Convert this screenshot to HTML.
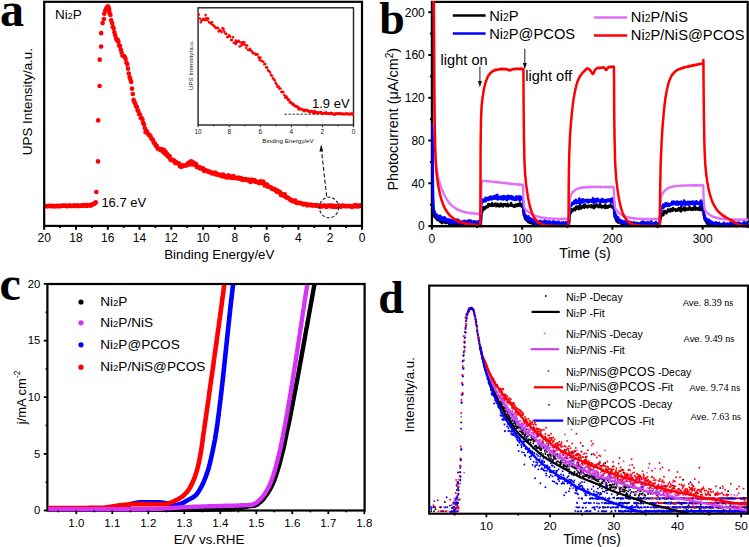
<!DOCTYPE html>
<html><head><meta charset="utf-8"><style>
html,body{margin:0;padding:0;background:#fff;}
svg{display:block;font-family:"Liberation Sans", sans-serif;}
</style></head><body>
<svg width="749" height="547" viewBox="0 0 749 547">
<rect width="749" height="547" fill="#fff"/>
<text x="0" y="26.2" font-size="48" font-weight="bold" font-family="Liberation Serif, serif" fill="#000">a</text>
<text x="379.3" y="34.1" font-size="46" font-weight="bold" font-family="Liberation Serif, serif" fill="#000">b</text>
<text x="-0.4" y="300.3" font-size="48" font-weight="bold" font-family="Liberation Serif, serif" fill="#000">c</text>
<text x="378.2" y="312.7" font-size="46" font-weight="bold" font-family="Liberation Serif, serif" fill="#000">d</text>
<path d="M46.3 206.2h0M47.2 206.3h0M48.1 206.1h0M49 206h0M49.9 206.1h0M50.8 205.9h0M51.7 206.2h0M52.6 206.5h0M53.5 206h0M54.4 206h0M55.3 206.3h0M56.2 206.2h0M57.1 206.2h0M58 205.9h0M58.9 206.1h0M59.8 206.3h0M60.7 205.8h0M61.6 206h0M62.5 205.6h0M63.4 205.7h0M64.3 205.6h0M65.2 206h0M66.1 205.7h0M67 206.1h0M67.9 206.1h0M68.8 206h0M69.7 205.4h0M70.6 205.8h0M71.5 206h0M72.4 206h0M73.3 205.6h0M74.2 205.8h0M75.1 205.7h0M76 205.7h0M76.9 206.1h0M77.8 205.6h0M78.7 205.8h0M79.6 206h0M80.5 205.6h0M81.4 205.7h0M82.3 205.8h0M83.2 205.7h0M84.1 205.4h0M85 205.7h0M85.9 206h0M86.8 205.2h0M87.7 205.7h0M88.6 205.5h0M89.5 205.2h0M90.4 205.7h0M91.3 205.2h0M92.2 204.4h0M93.1 204.4h0M94 204.1h0M94.9 203.2h0M95.8 202.4h0M96.4 192h0M98 161.4h0M98.2 120.4h0M99.6 86h0M99.7 59.7h0M101.1 46.6h0M101.2 33.2h0M102.6 23.1h0M103.9 19.1h0M104.3 13.7h0M105.3 10.5h0M106.2 8.5h0M107 7.2h0M107.9 6.4h0M108.6 7.5h0M106.8 10.2h0M109.2 9.5h0M108 7.1h0M108.8 9.6h0M109.6 12.9h0M110.4 14.9h0M111.2 20.3h0M112 23.1h0M112.8 26.7h0M113.6 28.6h0M114.4 32.3h0M115.2 35.3h0M116 38.3h0M116.8 40.2h0M117.6 39.6h0M118.4 42h0M119.2 45.7h0M120 45.8h0M120.8 49.7h0M121.6 52.5h0M122.4 55.5h0M123.2 56h0M124 56h0M124.8 57.2h0M125.6 59h0M126.4 62.7h0M127.2 64.2h0M128 68.7h0M128.8 73.6h0M129.6 77.1h0M130.4 79.6h0M131.2 81.9h0M132 88.7h0M132.8 94h0M133.6 99.9h0M134.4 102.1h0M135.2 103.6h0M136 106h0M136.8 106.9h0M137.6 110.2h0M138.4 111.4h0M139.2 114.2h0M140 114.6h0M140.8 118.1h0M141.6 118.1h0M142.4 119.5h0M143.2 122.9h0M144 124.5h0M144.8 128h0M145.6 132.2h0M146.4 130.9h0M147.2 132.2h0M148 133.8h0M148.8 134.9h0M149.6 135.1h0M150.4 136h0M151.2 138h0M152 139.3h0M152.8 139.7h0M153.6 142.2h0M154.4 143.6h0M155.2 143.8h0M156 146h0M156.8 146h0M157.6 148.6h0M158.4 148.7h0M159.2 149.3h0M160 149.3h0M160.8 150.2h0M161.6 149h0M162.4 150.2h0M163.2 151.9h0M164 150.2h0M164.8 153.4h0M165.6 151.8h0M166.4 154.8h0M167.2 154.2h0M168 156.6h0M168.8 156.8h0M169.6 156.1h0M170.4 159.4h0M171.2 160.2h0M172 159.6h0M172.8 160.1h0M173.6 160.8h0M174.4 160.7h0M175.2 163.1h0M176 162.2h0M176.8 163.1h0M177.6 163h0M178.4 163.7h0M179.2 163.6h0M180 166.4h0M180.8 165.5h0M181.6 166.8h0M182.4 166h0M183.2 165.4h0M184 165.6h0M184.8 165.3h0M185.6 165.7h0M186.4 165.1h0M187.2 164.9h0M188 163.3h0M188.8 162.9h0M189.6 164.4h0M190.4 161.7h0M191.2 161.3h0M192 162.9h0M192.8 164.5h0M193.6 162.6h0M194.4 164.5h0M195.2 164.7h0M196 164.2h0M196.8 166.9h0M197.6 166.7h0M198.4 167.3h0M199.2 167h0M200 168.5h0M200.8 168.1h0M201.6 168.7h0M202.4 168.4h0M203.2 168.7h0M204 170.8h0M204.8 169.8h0M205.6 170.7h0M206.4 170.8h0M207.2 170.8h0M208 171h0M208.8 172.1h0M209.6 171.7h0M210.4 172h0M211.2 172.4h0M212 173.4h0M212.8 173.3h0M213.6 173.3h0M214.4 172.9h0M215.2 172.5h0M216 174.4h0M216.8 174.6h0M217.6 174h0M218.4 174.7h0M219.2 175.1h0M220 175.3h0M220.8 175.6h0M221.6 174.8h0M222.4 176.4h0M223.2 174.6h0M224 176.3h0M224.8 176.2h0M225.6 176.6h0M226.4 177.5h0M227.2 177.4h0M228 175.7h0M228.8 175.5h0M229.6 177.4h0M230.4 176.3h0M231.2 177.1h0M232 177.9h0M232.8 176.3h0M233.6 176.1h0M234.4 178h0M235.2 178h0M236 178h0M236.8 178.3h0M237.6 177.9h0M238.4 177.6h0M239.2 178.7h0M240 178.3h0M240.8 178h0M241.6 179.6h0M242.4 179.4h0M243.2 179.9h0M244 179h0M244.8 179.4h0M245.6 179.2h0M246.4 179.4h0M247.2 180.2h0M248 179.6h0M248.8 180.5h0M249.6 180.6h0M250.4 181.9h0M251.2 179.6h0M252 181.3h0M252.8 180.7h0M253.6 180.9h0M254.4 180.1h0M255.2 181h0M256 182h0M256.8 181.6h0M257.6 182h0M258.4 182h0M259.2 183.2h0M260 182.7h0M260.8 181.4h0M261.6 182.8h0M262.4 182.2h0M263.2 181.6h0M264 183.8h0M264.8 185.4h0M265.6 184.8h0M266.4 184.3h0M267.2 184.9h0M268 186.7h0M268.8 186.5h0M269.6 186.8h0M270.4 187.2h0M271.2 187.7h0M272 188.7h0M272.8 188.9h0M273.6 189.2h0M274.4 188.8h0M275.2 190.3h0M276 190h0M276.8 191.7h0M277.6 190.6h0M278.4 191.9h0M279.2 192.5h0M280 192.1h0M280.8 194.8h0M281.6 195.1h0M282.4 194.3h0M283.2 195.6h0M284 195.9h0M284.8 194.4h0M285.6 196.9h0M286.4 197.2h0M287.2 197.8h0M288 197.5h0M288.8 198.5h0M289.6 199h0M290.4 200.1h0M291.2 200.1h0M292 200.3h0M292.8 201.3h0M293.6 200.7h0M294.4 201.1h0M295.2 200.7h0M296 202.6h0M296.8 202.6h0M297.6 202.8h0M298.4 202.9h0M299.2 202.9h0M300 203.1h0M300.8 203.1h0M301.6 203.3h0M302.4 203.6h0M303.2 204.5h0M304 204.2h0M304.8 204.1h0M305.6 204h0M306.4 204.1h0M307.2 205.3h0M308 204.9h0M308.8 204.8h0M309.6 204.8h0M310.4 204.5h0M311.2 205.1h0M312 205.6h0M312.8 205.1h0M313.6 205.3h0M314.4 205.4h0M315.2 205.7h0M316 205h0M316.8 205.7h0M317.6 205.4h0M318.4 206.3h0M319.2 205.6h0M320 206.2h0M320.8 206.7h0M321.6 205.9h0M322.4 205.7h0M323.2 206.1h0M324 206h0M324.8 205.6h0M325.6 206.2h0M326.4 207h0M327.2 205.9h0M328 206h0M328.8 205.6h0M329.6 206.2h0M330.4 205.5h0M331.2 205.6h0M332 206.7h0M332.8 205.7h0M333.6 206.6h0M334.4 206.8h0M335.2 206.2h0M336 206.3h0M336.8 207h0M337.6 206h0M338.4 205.8h0M339.2 205.5h0M340 206.1h0M340.8 206.8h0M341.6 206.5h0M342.4 205.7h0M343.2 205.7h0M344 205.9h0M344.8 206.2h0M345.6 206h0M346.4 206.2h0M347.2 206.2h0M348 206h0M348.8 206.1h0M349.6 206.2h0M350.4 206.1h0M351.2 206.3h0M352 206.9h0M352.8 206.4h0M353.6 206.1h0M354.4 205.3h0M355.2 206.3h0M356 205.2h0M356.8 205.5h0M357.6 206.5h0M358.4 206.4h0M359.2 206h0M360 205.3h0M360.8 205.9h0" stroke="#ff0000" stroke-width="4.7" stroke-linecap="round" fill="none"/>
<rect x="198.1" y="7.8" width="155.4" height="117.2" fill="none" stroke="#222" stroke-width="1.4"/>
<line x1="353.5" y1="125" x2="353.5" y2="127.2" stroke="#222" stroke-width="1"/>
<line x1="338" y1="125" x2="338" y2="126.4" stroke="#222" stroke-width="1"/>
<line x1="322.4" y1="125" x2="322.4" y2="127.2" stroke="#222" stroke-width="1"/>
<line x1="306.9" y1="125" x2="306.9" y2="126.4" stroke="#222" stroke-width="1"/>
<line x1="291.3" y1="125" x2="291.3" y2="127.2" stroke="#222" stroke-width="1"/>
<line x1="275.8" y1="125" x2="275.8" y2="126.4" stroke="#222" stroke-width="1"/>
<line x1="260.3" y1="125" x2="260.3" y2="127.2" stroke="#222" stroke-width="1"/>
<line x1="244.7" y1="125" x2="244.7" y2="126.4" stroke="#222" stroke-width="1"/>
<line x1="229.2" y1="125" x2="229.2" y2="127.2" stroke="#222" stroke-width="1"/>
<line x1="213.6" y1="125" x2="213.6" y2="126.4" stroke="#222" stroke-width="1"/>
<line x1="198.1" y1="125" x2="198.1" y2="127.2" stroke="#222" stroke-width="1"/>
<text x="353.5" y="133.7" font-size="6.5" text-anchor="middle" fill="#111">0</text>
<text x="322.4" y="133.7" font-size="6.5" text-anchor="middle" fill="#111">2</text>
<text x="291.3" y="133.7" font-size="6.5" text-anchor="middle" fill="#111">4</text>
<text x="260.3" y="133.7" font-size="6.5" text-anchor="middle" fill="#111">6</text>
<text x="229.2" y="133.7" font-size="6.5" text-anchor="middle" fill="#111">8</text>
<text x="198.1" y="133.7" font-size="6.5" text-anchor="middle" fill="#111">10</text>
<text x="288" y="143.4" font-size="6.2" text-anchor="middle" fill="#111">Binding Energy/eV</text>
<text x="193" y="65.3" font-size="6.2" text-anchor="middle" fill="#111" transform="rotate(-90 193 65.3)">UPS Intensity/a.u.</text>
<line x1="284.5" y1="114.2" x2="353" y2="114.2" stroke="#111" stroke-width="0.9" stroke-dasharray="2.4 1.6"/>
<path d="M198.8 14.6h0M199.8 18.5h0M200.7 22.3h0M201.6 20.4h0M202.6 19.6h0M203.5 18.9h0M204.5 20.2h0M205.4 19.6h0M206.4 18.1h0M207.3 20.2h0M208.3 18.5h0M209.2 22.3h0M210.2 22.8h0M211.1 23.7h0M212.1 22.3h0M213 25.1h0M214 25.8h0M214.9 26.9h0M215.9 28.1h0M216.8 27.7h0M217.8 27.9h0M218.7 31.4h0M219.7 30.1h0M220.6 30.8h0M221.6 32.1h0M222.5 28.1h0M223.5 29.8h0M224.4 31.8h0M225.4 33.6h0M226.3 33.9h0M227.3 37.1h0M228.2 36.7h0M229.2 35.4h0M230.1 36.6h0M231.1 40h0M232 40.1h0M233 37.2h0M233.9 42.8h0M234.9 42.3h0M235.8 43.9h0M236.8 41.7h0M237.7 42h0M238.7 40.9h0M239.6 46.5h0M240.6 42.5h0M241.5 45.4h0M242.5 42.4h0M243.4 44.2h0M244.4 42.3h0M245.3 45.1h0M246.3 48h0M247.2 45.5h0M248.2 50h0M249.1 49.9h0M250.1 48.8h0M251 50.6h0M252 51.6h0M252.9 53.2h0M253.9 53.3h0M254.8 53.5h0M255.8 54.8h0M256.7 54.2h0M257.7 54.6h0M258.6 57.4h0M259.6 59.9h0M260.5 57.5h0M261.5 60.9h0M262.4 61.2h0M263.4 61.7h0M264.3 64.2h0M265.3 64h0M266.2 67.4h0M267.2 67.6h0M268.1 70.4h0M269.1 71.3h0M270 72.3h0M271 74.9h0M271.9 75.8h0M272.9 78.2h0M273.8 79.4h0M274.8 80.3h0M275.7 82.9h0M276.7 84.6h0M277.6 86.9h0M278.6 86.6h0M279.5 88.7h0M280.5 88.5h0M281.4 92h0M282.4 91.6h0M283.3 92.2h0M284.3 95h0M285.2 97.4h0M205.6 15.1h0M223.5 28.8h0M236 40.5h0" stroke="#ff0000" stroke-width="2.6" stroke-linecap="round" fill="none"/>
<path d="M286.2 96.4h0M287.1 98h0M288.1 99.4h0M289 100.1h0M290 102.3h0M290.9 102.4h0M291.9 103.2h0M292.8 104.6h0M293.8 104.6h0M294.7 105.9h0M295.7 105.9h0M296.6 106.4h0M297.6 106.7h0M298.5 108.9h0M299.5 108.3h0M300.4 109h0M301.4 109.2h0M302.3 109.6h0M303.3 109.9h0M304.2 111h0M305.2 109.9h0M306.1 110h0M307.1 110.4h0M308 110.5h0M309 111.7h0M309.9 111.9h0M310.9 111.3h0M311.8 111.3h0M312.8 112h0M313.7 112.9h0M314.7 111.2h0M315.6 112.8h0M316.6 112.2h0M317.5 113.2h0M318.5 112.4h0M319.4 112.8h0M320.4 112.3h0M321.3 112.6h0M322.3 113.8h0M323.2 113.6h0M324.2 113.1h0M325.1 112.9h0M326.1 112.5h0M327 113.2h0M328 113.4h0M328.9 113.4h0M329.9 113.5h0M330.8 113h0M331.8 113.5h0M332.7 113.6h0M333.7 114.2h0M334.6 114.5h0M335.6 113.6h0M336.5 113.4h0M337.5 113.7h0M338.4 113.5h0M339.4 113.4h0M340.3 113.8h0M341.3 113.4h0M342.2 114.1h0M343.2 113.8h0M344.1 114h0M345.1 113.9h0M346 113.7h0M347 113.6h0M347.9 113.9h0M348.9 113.8h0M349.8 114.2h0M350.8 114.1h0M351.7 113.5h0M352.7 114.2h0" stroke="#ff0000" stroke-width="3" stroke-linecap="round" fill="none"/>
<text x="312" y="108.4" font-size="13" fill="#000">1.9 eV</text>
<rect x="44.2" y="1.8" width="317.8" height="224.1" fill="none" stroke="#000" stroke-width="2.2"/>
<line x1="362" y1="225.9" x2="362" y2="229.8" stroke="#000" stroke-width="2"/>
<line x1="346.1" y1="225.9" x2="346.1" y2="227.9" stroke="#000" stroke-width="2"/>
<line x1="330.2" y1="225.9" x2="330.2" y2="229.8" stroke="#000" stroke-width="2"/>
<line x1="314.3" y1="225.9" x2="314.3" y2="227.9" stroke="#000" stroke-width="2"/>
<line x1="298.4" y1="225.9" x2="298.4" y2="229.8" stroke="#000" stroke-width="2"/>
<line x1="282.6" y1="225.9" x2="282.6" y2="227.9" stroke="#000" stroke-width="2"/>
<line x1="266.7" y1="225.9" x2="266.7" y2="229.8" stroke="#000" stroke-width="2"/>
<line x1="250.8" y1="225.9" x2="250.8" y2="227.9" stroke="#000" stroke-width="2"/>
<line x1="234.9" y1="225.9" x2="234.9" y2="229.8" stroke="#000" stroke-width="2"/>
<line x1="219" y1="225.9" x2="219" y2="227.9" stroke="#000" stroke-width="2"/>
<line x1="203.1" y1="225.9" x2="203.1" y2="229.8" stroke="#000" stroke-width="2"/>
<line x1="187.2" y1="225.9" x2="187.2" y2="227.9" stroke="#000" stroke-width="2"/>
<line x1="171.3" y1="225.9" x2="171.3" y2="229.8" stroke="#000" stroke-width="2"/>
<line x1="155.4" y1="225.9" x2="155.4" y2="227.9" stroke="#000" stroke-width="2"/>
<line x1="139.5" y1="225.9" x2="139.5" y2="229.8" stroke="#000" stroke-width="2"/>
<line x1="123.7" y1="225.9" x2="123.7" y2="227.9" stroke="#000" stroke-width="2"/>
<line x1="107.8" y1="225.9" x2="107.8" y2="229.8" stroke="#000" stroke-width="2"/>
<line x1="91.9" y1="225.9" x2="91.9" y2="227.9" stroke="#000" stroke-width="2"/>
<line x1="76" y1="225.9" x2="76" y2="229.8" stroke="#000" stroke-width="2"/>
<line x1="60.1" y1="225.9" x2="60.1" y2="227.9" stroke="#000" stroke-width="2"/>
<line x1="44.2" y1="225.9" x2="44.2" y2="229.8" stroke="#000" stroke-width="2"/>
<text x="362" y="242" font-size="12" text-anchor="middle" fill="#000">0</text>
<text x="330.2" y="242" font-size="12" text-anchor="middle" fill="#000">2</text>
<text x="298.4" y="242" font-size="12" text-anchor="middle" fill="#000">4</text>
<text x="266.7" y="242" font-size="12" text-anchor="middle" fill="#000">6</text>
<text x="234.9" y="242" font-size="12" text-anchor="middle" fill="#000">8</text>
<text x="203.1" y="242" font-size="12" text-anchor="middle" fill="#000">10</text>
<text x="171.3" y="242" font-size="12" text-anchor="middle" fill="#000">12</text>
<text x="139.5" y="242" font-size="12" text-anchor="middle" fill="#000">14</text>
<text x="107.8" y="242" font-size="12" text-anchor="middle" fill="#000">16</text>
<text x="76" y="242" font-size="12" text-anchor="middle" fill="#000">18</text>
<text x="44.2" y="242" font-size="12" text-anchor="middle" fill="#000">20</text>
<text x="219.3" y="258.6" font-size="13.3" text-anchor="middle" fill="#000">Binding Energy/eV</text>
<text x="32" y="101.6" font-size="13.4" text-anchor="middle" fill="#000" transform="rotate(-90 32 101.6)">UPS Intensity/a.u.</text>
<text x="55" y="19" font-size="13.5" fill="#000">Ni<tspan font-size="0.65em">2</tspan>P</text>
<text x="101.4" y="207.3" font-size="13" fill="#000">16.7 eV</text>
<ellipse cx="329" cy="207.5" rx="9.6" ry="10.3" fill="none" stroke="#111" stroke-width="1.05" stroke-dasharray="3 2"/>
<line x1="326.7" y1="196.5" x2="321.6" y2="151.5" stroke="#111" stroke-width="1.05" stroke-dasharray="4.2 2.2"/>
<path d="M321.2 144.3 L319.4 151.6 L323.2 151.4 Z" fill="#111"/>
<rect x="431.9" y="1.9" width="315.8" height="224.2" fill="none" stroke="#000" stroke-width="2.2"/>
<line x1="428.3" y1="226.1" x2="431.9" y2="226.1" stroke="#000" stroke-width="2"/>
<line x1="429.9" y1="204.7" x2="431.9" y2="204.7" stroke="#000" stroke-width="2"/>
<line x1="428.3" y1="183.3" x2="431.9" y2="183.3" stroke="#000" stroke-width="2"/>
<line x1="429.9" y1="161.9" x2="431.9" y2="161.9" stroke="#000" stroke-width="2"/>
<line x1="428.3" y1="140.5" x2="431.9" y2="140.5" stroke="#000" stroke-width="2"/>
<line x1="429.9" y1="119.2" x2="431.9" y2="119.2" stroke="#000" stroke-width="2"/>
<line x1="428.3" y1="97.8" x2="431.9" y2="97.8" stroke="#000" stroke-width="2"/>
<line x1="429.9" y1="76.4" x2="431.9" y2="76.4" stroke="#000" stroke-width="2"/>
<line x1="428.3" y1="55" x2="431.9" y2="55" stroke="#000" stroke-width="2"/>
<line x1="429.9" y1="33.6" x2="431.9" y2="33.6" stroke="#000" stroke-width="2"/>
<line x1="428.3" y1="12.2" x2="431.9" y2="12.2" stroke="#000" stroke-width="2"/>
<text x="424.8" y="230.4" font-size="12" text-anchor="end" fill="#000">0</text>
<text x="424.8" y="187.6" font-size="12" text-anchor="end" fill="#000">40</text>
<text x="424.8" y="144.8" font-size="12" text-anchor="end" fill="#000">80</text>
<text x="424.8" y="102.1" font-size="12" text-anchor="end" fill="#000">120</text>
<text x="424.8" y="59.3" font-size="12" text-anchor="end" fill="#000">160</text>
<text x="424.8" y="16.5" font-size="12" text-anchor="end" fill="#000">200</text>
<line x1="431.9" y1="226.1" x2="431.9" y2="229.7" stroke="#000" stroke-width="2"/>
<line x1="477" y1="226.1" x2="477" y2="228.1" stroke="#000" stroke-width="2"/>
<line x1="522.2" y1="226.1" x2="522.2" y2="229.7" stroke="#000" stroke-width="2"/>
<line x1="567.3" y1="226.1" x2="567.3" y2="228.1" stroke="#000" stroke-width="2"/>
<line x1="612.4" y1="226.1" x2="612.4" y2="229.7" stroke="#000" stroke-width="2"/>
<line x1="657.6" y1="226.1" x2="657.6" y2="228.1" stroke="#000" stroke-width="2"/>
<line x1="702.7" y1="226.1" x2="702.7" y2="229.7" stroke="#000" stroke-width="2"/>
<line x1="747.8" y1="226.1" x2="747.8" y2="228.1" stroke="#000" stroke-width="2"/>
<text x="431.9" y="242.8" font-size="12" text-anchor="middle" fill="#000">0</text>
<text x="522.2" y="242.8" font-size="12" text-anchor="middle" fill="#000">100</text>
<text x="612.4" y="242.8" font-size="12" text-anchor="middle" fill="#000">200</text>
<text x="702.7" y="242.8" font-size="12" text-anchor="middle" fill="#000">300</text>
<text x="585" y="257.5" font-size="14.2" text-anchor="middle" fill="#000">Time (s)</text>
<text x="398.2" y="190.6" font-size="14.4" fill="#000" transform="rotate(-90 398.2 190.6)">Photocurrent (μA/cm<tspan font-size="0.7em" dy="-5">2</tspan><tspan dy="5">)</tspan></text>
<clipPath id="cb"><rect x="431.0" y="1.0" width="317.6" height="226.2"/></clipPath>
<g clip-path="url(#cb)">
<path d="M431.9 148.1 L432.2 148.2 L432.4 148.6 L432.7 181.8 L433 201.4 L433.3 209.5 L433.5 213 L433.8 214.7 L434.1 215.5 L434.3 216.5 L434.6 216.4 L434.9 216.9 L435.1 216.8 L435.4 218.1 L435.7 217.2 L436 217.6 L436.2 218.1 L436.5 218.6 L436.8 218 L437 220 L437.3 218.5 L437.6 218.9 L437.9 219 L438.1 219.1 L438.4 220.1 L438.7 220 L438.9 219.4 L439.2 219.7 L439.5 220 L439.8 221.5 L440 220 L440.3 219.6 L440.6 219.9 L440.8 220.6 L441.1 222.2 L441.4 220.3 L441.6 221.2 L441.9 223.2 L442.2 221 L442.5 222.6 L442.7 222.5 L443 222.1 L443.3 220.6 L443.5 222 L443.8 221.6 L444.1 220.4 L444.4 220.6 L444.6 222.1 L444.9 222.2 L445.2 223.1 L445.4 222.7 L445.7 221.9 L446 222 L446.3 222.3 L446.5 221.6 L446.8 223.1 L447.1 222.5 L447.3 222 L447.6 222.1 L447.9 221.8 L448.1 222.4 L448.4 223 L448.7 222.5 L449 223.6 L449.2 224.2 L449.5 222.4 L449.8 223 L450 222.7 L450.3 224.4 L450.6 223.4 L450.9 223.6 L451.1 223.8 L451.4 225 L451.7 223.5 L451.9 222.5 L452.2 223 L452.5 223.8 L452.8 223.3 L453 222.8 L453.3 225.6 L453.6 223.5 L453.8 223 L454.1 222.9 L454.4 222.1 L454.6 222.6 L454.9 223.3 L455.2 223.4 L455.5 223 L455.7 224.1 L456 223.7 L456.3 223 L456.5 222.2 L456.8 223.9 L457.1 223.8 L457.4 223.6 L457.6 222.7 L457.9 223.9 L458.2 222.7 L458.4 224.7 L458.7 224 L459 224.1 L459.3 223.3 L459.5 223.1 L459.8 225.2 L460.1 224.7 L460.3 223.7 L460.6 224.6 L460.9 225.3 L461.1 223.2 L461.4 223.7 L461.7 223.7 L462 224.5 L462.2 223.3 L462.5 224.4 L462.8 223.3 L463 224.9 L463.3 224.9 L463.6 224.1 L463.9 224.8 L464.1 223.7 L464.4 224.1 L464.7 225 L464.9 224.2 L465.2 224.6 L465.5 223.6 L465.8 224.8 L466 224.7 L466.3 223.4 L466.6 222.6 L466.8 222.8 L467.1 224.4 L467.4 224.2 L467.6 223.2 L467.9 224.5 L468.2 225.2 L468.5 224.4 L468.7 224.1 L469 225.1 L469.3 225.8 L469.5 225.7 L469.8 224 L470.1 225.1 L470.4 224.6 L470.6 224.4 L470.9 224.1 L471.2 224.8 L471.4 224.2 L471.7 225.3 L472 224.9 L472.3 225.4 L472.5 223.7 L472.8 224.6 L473.1 225.2 L473.3 224.9 L473.6 224.8 L473.9 224.1 L474.1 225.9 L474.4 225.5 L474.7 225 L475 222.7 L475.2 223.9 L475.5 224.8 L475.8 224.1 L476 223.1 L476.3 224.9 L476.6 225 L476.9 223.8 L477.1 224.3 L477.4 224.2 L477.7 225.2 L477.9 223.2 L478.2 223.4 L478.5 224.3 L478.8 224.2 L479 226.4 L479.3 224.3 L479.6 225 L479.8 224.5 L480.1 224.3 L480.4 225.1 L480.6 226.2 L480.9 224.2 L481.2 217.1 L481.5 213.5 L481.7 212.2 L482 211.1 L482.3 212.2 L482.5 208.9 L482.8 209.3 L483.1 208.2 L483.4 207.2 L483.6 208.5 L483.9 209.7 L484.2 208.7 L484.4 208.7 L484.7 207.9 L485 207.3 L485.2 208.7 L485.5 206.7 L485.8 208 L486.1 206.4 L486.3 206.6 L486.6 206.6 L486.9 206.3 L487.1 206.6 L487.4 206.5 L487.7 207.3 L488 205.9 L488.2 204.3 L488.5 204.1 L488.8 204.6 L489 205 L489.3 206 L489.6 204.3 L489.9 205.4 L490.1 205.4 L490.4 205.5 L490.7 205.2 L490.9 205.6 L491.2 205.2 L491.5 206 L491.7 205.4 L492 203.3 L492.3 205.1 L492.6 205.2 L492.8 204.6 L493.1 204.4 L493.4 205.9 L493.6 205.1 L493.9 204.2 L494.2 204.7 L494.5 204.8 L494.7 203.6 L495 205.4 L495.3 204.8 L495.5 205.3 L495.8 203.6 L496.1 206.4 L496.4 205.4 L496.6 205.2 L496.9 204.3 L497.2 204.3 L497.4 203.7 L497.7 206.1 L498 204.2 L498.2 205 L498.5 205.3 L498.8 204.4 L499.1 205.5 L499.3 206.5 L499.6 205.1 L499.9 206 L500.1 205.3 L500.4 204.5 L500.7 204.6 L501 203.6 L501.2 205 L501.5 206.1 L501.8 205.5 L502 205.6 L502.3 205.8 L502.6 204.5 L502.9 205.4 L503.1 206.5 L503.4 204.3 L503.7 205 L503.9 204.6 L504.2 204.8 L504.5 204.4 L504.7 204.9 L505 203.9 L505.3 204.6 L505.6 204.6 L505.8 204.6 L506.1 206.1 L506.4 205.1 L506.6 205.1 L506.9 204.8 L507.2 206 L507.5 203.6 L507.7 204.9 L508 205.9 L508.3 206.3 L508.5 205.2 L508.8 205.1 L509.1 205.6 L509.4 204.9 L509.6 205.5 L509.9 204.6 L510.2 205.6 L510.4 205.1 L510.7 204.2 L511 203 L511.2 205.9 L511.5 205.4 L511.8 205.7 L512.1 204.4 L512.3 206 L512.6 205.5 L512.9 205.1 L513.1 205.9 L513.4 205.9 L513.7 205.5 L514 206.8 L514.2 206.3 L514.5 205.5 L514.8 205 L515 205.3 L515.3 206.6 L515.6 205.5 L515.9 204.5 L516.1 204.7 L516.4 205.2 L516.7 205.9 L516.9 204.7 L517.2 205.6 L517.5 206.1 L517.7 205.8 L518 204 L518.3 205 L518.6 204.3 L518.8 205.6 L519.1 204.5 L519.4 205.7 L519.6 205.4 L519.9 203.3 L520.2 204.6 L520.5 205.7 L520.7 205.3 L521 205 L521.3 204.3 L521.5 205.7 L521.8 206.7 L522.1 205.5 L522.4 205.3 L522.6 205.2 L522.9 204.3 L523.2 208.3 L523.4 211.3 L523.7 215.1 L524 215 L524.2 215 L524.5 216.8 L524.8 217.8 L525.1 218.3 L525.3 217.4 L525.6 219.9 L525.9 219.5 L526.1 219.3 L526.4 219.3 L526.7 220.5 L527 220.1 L527.2 220.8 L527.5 220.7 L527.8 221.1 L528 222 L528.3 221.3 L528.6 220.7 L528.8 222.4 L529.1 221.9 L529.4 221.3 L529.7 222.9 L529.9 222 L530.2 223.1 L530.5 221.4 L530.7 220.6 L531 220.9 L531.3 222.8 L531.6 222.1 L531.8 222.7 L532.1 222.8 L532.4 221.7 L532.6 224.1 L532.9 222.3 L533.2 223.2 L533.5 222.1 L533.7 223.2 L534 223.9 L534.3 223.2 L534.5 222.9 L534.8 223.5 L535.1 223.2 L535.3 224 L535.6 225.4 L535.9 223 L536.2 223.2 L536.4 223.7 L536.7 223.8 L537 223 L537.2 224.2 L537.5 224.5 L537.8 224.1 L538.1 223 L538.3 225.1 L538.6 223.1 L538.9 224.6 L539.1 224.9 L539.4 223.1 L539.7 224.2 L540 225.2 L540.2 224.4 L540.5 223.4 L540.8 223.2 L541 224.5 L541.3 223.9 L541.6 223.6 L541.8 224.8 L542.1 224 L542.4 224.3 L542.7 224.7 L542.9 224.7 L543.2 224.2 L543.5 224.3 L543.7 224.8 L544 224.7 L544.3 223.4 L544.6 224.2 L544.8 223.6 L545.1 223.4 L545.4 223.9 L545.6 222.5 L545.9 225 L546.2 223.7 L546.5 224.6 L546.7 222.9 L547 223 L547.3 226 L547.5 225.2 L547.8 223.9 L548.1 223.8 L548.3 223.8 L548.6 224.5 L548.9 224.1 L549.2 223.9 L549.4 224.5 L549.7 223.6 L550 226.2 L550.2 223.9 L550.5 225.3 L550.8 223.7 L551.1 224.6 L551.3 225.2 L551.6 224.2 L551.9 225.2 L552.1 225.2 L552.4 225.7 L552.7 224.5 L553 224.1 L553.2 223.6 L553.5 224.6 L553.8 223.6 L554 224.5 L554.3 224.5 L554.6 224 L554.8 223.6 L555.1 224.7 L555.4 224.7 L555.7 224.6 L555.9 224.4 L556.2 225.2 L556.5 223.7 L556.7 224.8 L557 224.1 L557.3 225.1 L557.6 224.2 L557.8 224.2 L558.1 224.8 L558.4 222.9 L558.6 224.2 L558.9 223.1 L559.2 223.7 L559.5 225 L559.7 224.8 L560 224.1 L560.3 224.4 L560.5 224.4 L560.8 224.7 L561.1 225.9 L561.3 224.7 L561.6 226.3 L561.9 224.2 L562.2 225.1 L562.4 225.1 L562.7 224.7 L563 224.3 L563.2 225.6 L563.5 225.9 L563.8 225.3 L564.1 226.1 L564.3 225.3 L564.6 223.2 L564.9 225.3 L565.1 224 L565.4 225.6 L565.7 224.3 L566 224.7 L566.2 224.5 L566.5 224 L566.8 223.1 L567 224.3 L567.3 224.4 L567.6 225.3 L567.8 224 L568.1 224.7 L568.4 223.8 L568.7 224.5 L568.9 223.1 L569.2 221.2 L569.5 217 L569.7 214.3 L570 214.2 L570.3 213.8 L570.6 212.8 L570.8 213.2 L571.1 211.6 L571.4 209.4 L571.6 210.1 L571.9 211.6 L572.2 211.2 L572.5 210.6 L572.7 209.2 L573 210.5 L573.3 210.1 L573.5 208.7 L573.8 208.5 L574.1 209.4 L574.3 209.8 L574.6 210 L574.9 209.2 L575.2 210.3 L575.4 207.7 L575.7 208.7 L576 207.7 L576.2 206.5 L576.5 207 L576.8 208.7 L577.1 207 L577.3 206.7 L577.6 208.2 L577.9 208.3 L578.1 207.5 L578.4 208.6 L578.7 206.1 L578.9 209.2 L579.2 208.1 L579.5 207.4 L579.8 207.3 L580 206.9 L580.3 206.8 L580.6 207.1 L580.8 206 L581.1 208.6 L581.4 206.9 L581.7 207.4 L581.9 206.7 L582.2 206.6 L582.5 207.5 L582.7 207.2 L583 206.1 L583.3 206.4 L583.6 207.2 L583.8 205 L584.1 204.8 L584.4 207.8 L584.6 206.3 L584.9 204.5 L585.2 205.9 L585.4 206.4 L585.7 206.7 L586 206.9 L586.3 206.7 L586.5 206.9 L586.8 205.9 L587.1 206.8 L587.3 206.8 L587.6 207.4 L587.9 206.5 L588.2 207.2 L588.4 206.6 L588.7 205.6 L589 206.1 L589.2 206 L589.5 206.1 L589.8 206.4 L590.1 206.5 L590.3 206.6 L590.6 205.8 L590.9 207.3 L591.1 205.3 L591.4 206.3 L591.7 207 L591.9 206.8 L592.2 206.9 L592.5 206.2 L592.8 206.9 L593 205.4 L593.3 207 L593.6 208.2 L593.8 206.9 L594.1 208 L594.4 206.4 L594.7 205.5 L594.9 205.8 L595.2 207.4 L595.5 206.9 L595.7 204.9 L596 206.1 L596.3 206.3 L596.6 205.5 L596.8 204.4 L597.1 205.3 L597.4 206.2 L597.6 206 L597.9 205.8 L598.2 206.8 L598.4 207.2 L598.7 206.3 L599 207.1 L599.3 206.4 L599.5 206.2 L599.8 204.4 L600.1 207 L600.3 206.4 L600.6 206.5 L600.9 206 L601.2 205.5 L601.4 206.7 L601.7 207 L602 207.6 L602.2 207.1 L602.5 205.9 L602.8 206.3 L603.1 207.1 L603.3 206.6 L603.6 206.3 L603.9 205.9 L604.1 206.8 L604.4 206.5 L604.7 207.8 L604.9 207.2 L605.2 205 L605.5 208.1 L605.8 206.6 L606 206.1 L606.3 206.6 L606.6 207 L606.8 206.4 L607.1 206.3 L607.4 206.4 L607.7 207.8 L607.9 206.4 L608.2 207 L608.5 206.8 L608.7 206.1 L609 205.8 L609.3 205.6 L609.6 206.7 L609.8 205.6 L610.1 205.4 L610.4 205.4 L610.6 205.2 L610.9 206.4 L611.2 206.5 L611.4 205.7 L611.7 207.4 L612 206.1 L612.3 206.7 L612.5 206.6 L612.8 207.7 L613.1 207 L613.3 206.3 L613.6 205.6 L613.9 207.8 L614.2 212.7 L614.4 215.2 L614.7 217.2 L615 217.2 L615.2 218.4 L615.5 218.3 L615.8 217.8 L616.1 219.6 L616.3 221.1 L616.6 220.9 L616.9 221.6 L617.1 221.7 L617.4 219.9 L617.7 221 L617.9 222.6 L618.2 221.1 L618.5 220.8 L618.8 222.3 L619 222.7 L619.3 222.6 L619.6 222.2 L619.8 222.1 L620.1 221.8 L620.4 221.9 L620.7 222 L620.9 222 L621.2 222.6 L621.5 224.5 L621.7 223.4 L622 223.2 L622.3 223.8 L622.6 222.9 L622.8 223.9 L623.1 224.5 L623.4 222.6 L623.6 223.3 L623.9 223.7 L624.2 223.2 L624.4 223.2 L624.7 223.8 L625 226.1 L625.3 224.7 L625.5 224.5 L625.8 225 L626.1 224.1 L626.3 223.3 L626.6 224.7 L626.9 225.3 L627.2 222.7 L627.4 224.8 L627.7 225.4 L628 224.3 L628.2 224.1 L628.5 225.1 L628.8 223.9 L629 224.9 L629.3 225.3 L629.6 224.4 L629.9 224 L630.1 225.1 L630.4 224.3 L630.7 224.7 L630.9 222.4 L631.2 225.2 L631.5 223.5 L631.8 224.7 L632 224.8 L632.3 224.1 L632.6 224 L632.8 223.7 L633.1 224.4 L633.4 225.2 L633.7 225.1 L633.9 224.3 L634.2 224.3 L634.5 223.6 L634.7 224.4 L635 223.9 L635.3 223.5 L635.5 224.6 L635.8 225.9 L636.1 225.7 L636.4 225.9 L636.6 223.5 L636.9 225.4 L637.2 223.8 L637.4 224.3 L637.7 223.4 L638 224 L638.3 224.9 L638.5 224.9 L638.8 224.7 L639.1 224.6 L639.3 225.2 L639.6 224.8 L639.9 223.5 L640.2 226.2 L640.4 224.6 L640.7 225.5 L641 224.6 L641.2 224.1 L641.5 224.8 L641.8 224.2 L642 226.1 L642.3 223.9 L642.6 225.3 L642.9 224.3 L643.1 224.7 L643.4 226.9 L643.7 225.4 L643.9 224.6 L644.2 223.6 L644.5 224.6 L644.8 224.6 L645 225.9 L645.3 223.7 L645.6 223.4 L645.8 224.8 L646.1 225 L646.4 226.1 L646.7 224.1 L646.9 222.6 L647.2 224.2 L647.5 223.8 L647.7 224.4 L648 225.6 L648.3 223.7 L648.5 225.8 L648.8 225 L649.1 224.6 L649.4 224.1 L649.6 224.5 L649.9 224.5 L650.2 225.4 L650.4 225.8 L650.7 224.8 L651 225.4 L651.3 225.9 L651.5 225.8 L651.8 225.2 L652.1 226.3 L652.3 225.9 L652.6 226.1 L652.9 224.7 L653.2 224.5 L653.4 223.2 L653.7 226 L654 225.4 L654.2 224.1 L654.5 225 L654.8 225.1 L655 223.4 L655.3 225.1 L655.6 225.7 L655.9 225.9 L656.1 224.5 L656.4 224.6 L656.7 225.9 L656.9 225.6 L657.2 224.4 L657.5 224.4 L657.8 225.3 L658 224.3 L658.3 224.4 L658.6 226.2 L658.8 225.1 L659.1 224.5 L659.4 225.3 L659.7 226.5 L659.9 223.6 L660.2 219.6 L660.5 217 L660.7 218.9 L661 214.2 L661.3 216.6 L661.5 214.5 L661.8 213.9 L662.1 213.8 L662.4 214.2 L662.6 215 L662.9 213.3 L663.2 214.2 L663.4 215.4 L663.7 210.9 L664 212.4 L664.3 211.3 L664.5 213.4 L664.8 211.3 L665.1 211 L665.3 210.9 L665.6 212 L665.9 212.8 L666.2 211.9 L666.4 213.4 L666.7 212.9 L667 211.3 L667.2 212.1 L667.5 211.3 L667.8 211.2 L668 209.4 L668.3 209.8 L668.6 210.8 L668.9 209.7 L669.1 211.3 L669.4 210.8 L669.7 209.8 L669.9 211.4 L670.2 210.6 L670.5 211.4 L670.8 210.2 L671 208.9 L671.3 210.7 L671.6 209.9 L671.8 210.8 L672.1 210.9 L672.4 210.9 L672.7 208.7 L672.9 208 L673.2 209.4 L673.5 210.4 L673.7 209.2 L674 210 L674.3 209.1 L674.5 209.4 L674.8 209.4 L675.1 209.1 L675.4 210 L675.6 209.9 L675.9 210.9 L676.2 209.9 L676.4 210.6 L676.7 209.6 L677 210.2 L677.3 209.3 L677.5 209 L677.8 210.5 L678.1 210 L678.3 210.1 L678.6 208.7 L678.9 208 L679.1 208.6 L679.4 209.6 L679.7 208.1 L680 210.5 L680.2 208 L680.5 209.8 L680.8 211.5 L681 207.1 L681.3 207.9 L681.6 210 L681.9 209 L682.1 209.3 L682.4 209.1 L682.7 210.3 L682.9 209.7 L683.2 208.8 L683.5 209 L683.8 208.2 L684 209.1 L684.3 207.2 L684.6 209.7 L684.8 208.9 L685.1 210.6 L685.4 210.1 L685.6 208 L685.9 209.8 L686.2 208.6 L686.5 209.1 L686.7 209.9 L687 209.3 L687.3 209.4 L687.5 209.4 L687.8 208.4 L688.1 208.5 L688.4 209.5 L688.6 209.7 L688.9 208.8 L689.2 209.1 L689.4 208.2 L689.7 206.9 L690 208.3 L690.3 209 L690.5 209.1 L690.8 209.7 L691.1 209.7 L691.3 209.8 L691.6 209.3 L691.9 209.3 L692.1 208.3 L692.4 209.3 L692.7 209.1 L693 209.9 L693.2 207.6 L693.5 208.5 L693.8 207.5 L694 208.3 L694.3 207.7 L694.6 209.1 L694.9 208.3 L695.1 206.7 L695.4 209.9 L695.7 208 L695.9 207.5 L696.2 208.5 L696.5 208.3 L696.8 207.9 L697 209.4 L697.3 208.5 L697.6 209.6 L697.8 209.4 L698.1 209.4 L698.4 209 L698.6 208.7 L698.9 208.5 L699.2 210 L699.5 207.2 L699.7 207.9 L700 208.2 L700.3 209.1 L700.5 208.9 L700.8 208.4 L701.1 208.5 L701.4 210.2 L701.6 208.2 L701.9 206.4 L702.2 210.3 L702.4 208 L702.7 208.5 L703 208.9 L703.3 207.7 L703.5 214.3 L703.8 215.7 L704.1 216.2 L704.3 218.5 L704.6 219.4 L704.9 219.5 L705.1 220.3 L705.4 219.1 L705.7 221.4 L706 220.2 L706.2 222.2 L706.5 220.8 L706.8 221.7 L707 223.9 L707.3 222 L707.6 223 L707.9 222.7 L708.1 221.2 L708.4 223.6 L708.7 223.6 L708.9 221.7 L709.2 222.9 L709.5 221.9 L709.8 223 L710 224.1 L710.3 223.5 L710.6 222.5 L710.8 222.9 L711.1 223.7 L711.4 223.8 L711.6 224 L711.9 224.4 L712.2 222.4 L712.5 224.1 L712.7 225 L713 224.6 L713.3 223.6 L713.5 223.7 L713.8 224.4 L714.1 224.9 L714.4 224.4 L714.6 225.8 L714.9 225.5 L715.2 223.8 L715.4 224.9 L715.7 224.2 L716 223.6 L716.3 224.1 L716.5 224.6 L716.8 222.9 L717.1 224.1 L717.3 225 L717.6 224.1 L717.9 224.4 L718.1 225.5 L718.4 224.7 L718.7 224.9 L719 226.4 L719.2 225 L719.5 225.1 L719.8 225.2 L720 226.2 L720.3 225.2 L720.6 224.9 L720.9 224.8 L721.1 225.8 L721.4 224.4 L721.7 225.9 L721.9 225.1 L722.2 223.8 L722.5 225.5 L722.7 225.4 L723 224.1 L723.3 225.3 L723.6 225.2 L723.8 224.8 L724.1 224.1 L724.4 226.8 L724.6 225.6 L724.9 225.8 L725.2 225.9 L725.5 225.7 L725.7 225.7 L726 224.7 L726.3 225.7 L726.5 224.9 L726.8 224.7 L727.1 225.6 L727.4 224.9 L727.6 223.7 L727.9 224.7 L728.2 225.5 L728.4 225.1 L728.7 225.8 L729 224.8 L729.2 224.3 L729.5 225.7 L729.8 225.2 L730.1 224.1 L730.3 225.4 L730.6 224.9 L730.9 225.9 L731.1 225.7 L731.4 225.4 L731.7 223.3 L732 225.3 L732.2 225.4 L732.5 225.5 L732.8 225.2 L733 224.5 L733.3 224.9 L733.6 223.4 L733.9 224.9 L734.1 223.9 L734.4 224.8 L734.7 224.5 L734.9 226.2 L735.2 225.1 L735.5 225.1 L735.7 225.2 L736 226.8 L736.3 224.3 L736.6 225.3 L736.8 225.4 L737.1 225.2 L737.4 225.2 L737.6 224.7 L737.9 226 L738.2 225.8 L738.5 224.8 L738.7 224.9 L739 225.3 L739.3 225.5 L739.5 225.7 L739.8 225.1 L740.1 224.1 L740.4 225.9 L740.6 223.8 L740.9 224.4 L741.2 225.4 L741.4 224.4 L741.7 226.2 L742 226.4 L742.2 226.1 L742.5 225.4 L742.8 225.3 L743.1 225.4 L743.3 224.9 L743.6 226.7 L743.9 224.6 L744.1 226.2 L744.4 225.6 L744.7 225.4 L745 226 L745.2 226.1 L745.5 225.8 L745.8 225 L746 224.6 L746.3 224.6 L746.6 225.8 L746.9 225.7 L747.1 225.8 L747.4 224.7 L747.7 226.7" fill="none" stroke="#000" stroke-width="2.4" stroke-linejoin="round" stroke-linecap="round"/>
<path d="M431.9 124.8 L432.1 127.1 L432.4 128 L432.6 139.9 L432.8 178.7 L433 196.8 L433.3 203.9 L433.5 208.4 L433.7 209.2 L433.9 210.2 L434.2 212.1 L434.4 211.1 L434.6 212.7 L434.8 213.2 L435.1 214.5 L435.3 214.2 L435.5 213.4 L435.7 215.7 L436 214.1 L436.2 214.6 L436.4 214.9 L436.6 217.5 L436.9 215.7 L437.1 215.2 L437.3 216.8 L437.5 216.1 L437.8 218.7 L438 215.9 L438.2 217.4 L438.4 216.1 L438.7 218.8 L438.9 216.6 L439.1 217.6 L439.3 216.7 L439.6 218.5 L439.8 218.4 L440 215.7 L440.2 218.8 L440.5 218.8 L440.7 218.5 L440.9 219.3 L441.2 217.3 L441.4 216.9 L441.6 219.3 L441.8 220.4 L442.1 217.7 L442.3 217.8 L442.5 218.2 L442.7 217.9 L443 220 L443.2 219.4 L443.4 220.6 L443.6 220.7 L443.9 218.5 L444.1 220.1 L444.3 217.4 L444.5 219.6 L444.8 220.3 L445 219 L445.2 218.1 L445.4 219.4 L445.7 221.1 L445.9 219.6 L446.1 218.7 L446.3 220.6 L446.6 220.9 L446.8 219.2 L447 220.1 L447.2 221.3 L447.5 220.7 L447.7 221.1 L447.9 220.1 L448.1 220.4 L448.4 219.4 L448.6 219.9 L448.8 222.1 L449.1 220.2 L449.3 219.8 L449.5 220.3 L449.7 219.8 L450 221.3 L450.2 221.7 L450.4 220 L450.6 221.9 L450.9 223 L451.1 220 L451.3 221.7 L451.5 221.3 L451.8 222.4 L452 222.4 L452.2 222.3 L452.4 221.5 L452.7 220.8 L452.9 223.4 L453.1 220.5 L453.3 222.4 L453.6 222.4 L453.8 220.7 L454 221.5 L454.2 222.9 L454.5 219.7 L454.7 222.3 L454.9 221.3 L455.1 221.3 L455.4 220.2 L455.6 222 L455.8 220.6 L456 222.3 L456.3 220.6 L456.5 222.4 L456.7 222 L456.9 219.9 L457.2 221.4 L457.4 221.6 L457.6 219.6 L457.9 221.4 L458.1 222.6 L458.3 221.1 L458.5 223 L458.8 220.8 L459 220.7 L459.2 222.5 L459.4 222.5 L459.7 221.8 L459.9 222 L460.1 222.9 L460.3 221.5 L460.6 224 L460.8 222.5 L461 222.5 L461.2 222.3 L461.5 221.8 L461.7 223.3 L461.9 221.6 L462.1 222.3 L462.4 222.8 L462.6 223.5 L462.8 223.3 L463 221.9 L463.3 223.2 L463.5 222.2 L463.7 221.2 L463.9 221.3 L464.2 220.8 L464.4 222.6 L464.6 223.4 L464.8 221.4 L465.1 222 L465.3 221.3 L465.5 222.4 L465.8 221.2 L466 221.6 L466.2 221.7 L466.4 221.9 L466.7 222.1 L466.9 222.2 L467.1 222.2 L467.3 221.5 L467.6 223 L467.8 220.8 L468 222.6 L468.2 221.6 L468.5 222.6 L468.7 222.8 L468.9 220.6 L469.1 222.9 L469.4 223.8 L469.6 223.3 L469.8 222.9 L470 220.5 L470.3 222.4 L470.5 221.7 L470.7 223.6 L470.9 222.3 L471.2 222 L471.4 220.9 L471.6 223.3 L471.8 222.1 L472.1 222.4 L472.3 223.7 L472.5 222.7 L472.7 223 L473 225 L473.2 222.2 L473.4 222.2 L473.6 223.2 L473.9 224 L474.1 221.3 L474.3 222.5 L474.6 221.8 L474.8 221.4 L475 223.3 L475.2 222 L475.5 223 L475.7 222.9 L475.9 222.9 L476.1 222.8 L476.4 221.8 L476.6 222.7 L476.8 223 L477 223.1 L477.3 222.5 L477.5 223.7 L477.7 223.4 L477.9 222.9 L478.2 223.4 L478.4 223 L478.6 223.5 L478.8 221 L479.1 221.6 L479.3 222.5 L479.5 223 L479.7 220.8 L480 222.6 L480.2 223 L480.4 222.6 L480.6 222.7 L480.9 221.6 L481.1 213.2 L481.3 204.7 L481.5 204.7 L481.8 201.8 L482 202.8 L482.2 199.7 L482.5 201.5 L482.7 201 L482.9 199.9 L483.1 199.4 L483.4 201.6 L483.6 200.7 L483.8 201.6 L484 200 L484.3 200.1 L484.5 200.2 L484.7 200.4 L484.9 200 L485.2 200.3 L485.4 199 L485.6 197.9 L485.8 201.2 L486.1 199.3 L486.3 199.5 L486.5 198.6 L486.7 199.9 L487 199 L487.2 199.8 L487.4 198.1 L487.6 198.6 L487.9 198.8 L488.1 198.2 L488.3 198.8 L488.5 200 L488.8 197.9 L489 198.1 L489.2 198.5 L489.4 197.3 L489.7 197.1 L489.9 199.3 L490.1 198.9 L490.3 196.6 L490.6 196.7 L490.8 198.8 L491 199.2 L491.3 198.6 L491.5 198.4 L491.7 199.4 L491.9 197.9 L492.2 199.1 L492.4 199 L492.6 196.9 L492.8 198.4 L493.1 197.8 L493.3 197.1 L493.5 196.9 L493.7 198 L494 197.6 L494.2 198.5 L494.4 196 L494.6 197 L494.9 198.7 L495.1 197.6 L495.3 196.9 L495.5 197.1 L495.8 195.8 L496 196.2 L496.2 198 L496.4 197.6 L496.7 198.7 L496.9 197.3 L497.1 197.3 L497.3 194.9 L497.6 197.4 L497.8 199.5 L498 198.1 L498.2 197.4 L498.5 198.7 L498.7 198.3 L498.9 197.9 L499.2 197.2 L499.4 197.7 L499.6 198.4 L499.8 196.8 L500.1 198.1 L500.3 198 L500.5 198.9 L500.7 198.3 L501 196.9 L501.2 199.1 L501.4 197.7 L501.6 196.9 L501.9 198 L502.1 197.4 L502.3 198.7 L502.5 196.4 L502.8 196.6 L503 197.4 L503.2 199.4 L503.4 198.7 L503.7 196.7 L503.9 196 L504.1 197.4 L504.3 196.5 L504.6 198.3 L504.8 197.9 L505 197.7 L505.2 197.4 L505.5 199.2 L505.7 196.9 L505.9 196.5 L506.1 198.9 L506.4 199.1 L506.6 197.5 L506.8 198.5 L507 200.1 L507.3 197.1 L507.5 197.7 L507.7 198.3 L508 195.9 L508.2 197.8 L508.4 198.6 L508.6 197.8 L508.9 198.9 L509.1 198.7 L509.3 197.6 L509.5 198.5 L509.8 198.4 L510 196.4 L510.2 197.2 L510.4 197.3 L510.7 197.5 L510.9 197.6 L511.1 196.7 L511.3 198.1 L511.6 196.3 L511.8 199 L512 198.4 L512.2 199.5 L512.5 198.5 L512.7 197.7 L512.9 196.8 L513.1 198.8 L513.4 198.2 L513.6 198.6 L513.8 198.9 L514 199.4 L514.3 198.2 L514.5 199.9 L514.7 198.2 L514.9 198.3 L515.2 198.9 L515.4 199.3 L515.6 199.7 L515.9 196.5 L516.1 199.6 L516.3 196.9 L516.5 197.8 L516.8 198.7 L517 199.5 L517.2 197.4 L517.4 196.8 L517.7 199.3 L517.9 198.7 L518.1 197.5 L518.3 198.2 L518.6 196.6 L518.8 199.1 L519 198 L519.2 199.7 L519.5 196.5 L519.7 199.3 L519.9 200.7 L520.1 198.7 L520.4 198.7 L520.6 196.8 L520.8 199 L521 198.7 L521.3 198.1 L521.5 197.1 L521.7 198.7 L521.9 197.7 L522.2 198.2 L522.4 199 L522.6 198.7 L522.8 198.7 L523.1 201.3 L523.3 203.9 L523.5 209.5 L523.7 209.3 L524 211 L524.2 213.1 L524.4 214.6 L524.7 214.7 L524.9 214.5 L525.1 214.7 L525.3 215.4 L525.6 215.1 L525.8 216.8 L526 216.3 L526.2 218.3 L526.5 216.3 L526.7 217.1 L526.9 217.8 L527.1 216.5 L527.4 217.1 L527.6 220.7 L527.8 218.1 L528 219.7 L528.3 217.5 L528.5 216.3 L528.7 219.3 L528.9 218.9 L529.2 219.3 L529.4 218.9 L529.6 218.8 L529.8 218.3 L530.1 220.6 L530.3 218.2 L530.5 220.8 L530.7 219.7 L531 219 L531.2 219.5 L531.4 221.2 L531.6 221.1 L531.9 221 L532.1 220.7 L532.3 219.6 L532.6 222 L532.8 220.4 L533 220.4 L533.2 220.5 L533.5 220.7 L533.7 219.7 L533.9 220.8 L534.1 220.5 L534.4 220.9 L534.6 219.8 L534.8 223.4 L535 220.4 L535.3 221.9 L535.5 222 L535.7 222.7 L535.9 223.7 L536.2 222.3 L536.4 222.6 L536.6 221.5 L536.8 223.5 L537.1 220.7 L537.3 221.9 L537.5 222.4 L537.7 222.9 L538 223.1 L538.2 223.4 L538.4 222.9 L538.6 222.4 L538.9 222.6 L539.1 223.9 L539.3 222.8 L539.5 223.4 L539.8 222.4 L540 220.8 L540.2 222.1 L540.4 223 L540.7 224.3 L540.9 224.1 L541.1 224.4 L541.4 222.1 L541.6 223.6 L541.8 222.8 L542 223.5 L542.3 222.8 L542.5 221.6 L542.7 223.6 L542.9 223.3 L543.2 223.8 L543.4 222.2 L543.6 224 L543.8 224.1 L544.1 224.4 L544.3 224.4 L544.5 222.6 L544.7 220.6 L545 224.1 L545.2 222.2 L545.4 222.9 L545.6 224.2 L545.9 223.5 L546.1 223.4 L546.3 223.9 L546.5 221.4 L546.8 225.1 L547 222.9 L547.2 222.9 L547.4 223.8 L547.7 223.1 L547.9 222.5 L548.1 223.2 L548.3 222.9 L548.6 222.7 L548.8 225.3 L549 221.9 L549.3 221.2 L549.5 222.4 L549.7 222.4 L549.9 224.7 L550.2 223.5 L550.4 224.2 L550.6 224 L550.8 222.5 L551.1 224.2 L551.3 223.6 L551.5 225.3 L551.7 223.6 L552 223.4 L552.2 224.1 L552.4 224.2 L552.6 221.6 L552.9 224.6 L553.1 224.5 L553.3 224.3 L553.5 222.3 L553.8 221.5 L554 223.2 L554.2 224.2 L554.4 223.9 L554.7 222.5 L554.9 224.4 L555.1 222.1 L555.3 222.2 L555.6 223.5 L555.8 222.9 L556 222.8 L556.2 222 L556.5 224.5 L556.7 222.4 L556.9 223.9 L557.1 224.3 L557.4 223.4 L557.6 223.8 L557.8 224.5 L558.1 225.1 L558.3 224.5 L558.5 222.2 L558.7 221.7 L559 222.9 L559.2 222.4 L559.4 224.1 L559.6 223.6 L559.9 223.3 L560.1 224.6 L560.3 224.5 L560.5 223.5 L560.8 223.9 L561 224.6 L561.2 223.2 L561.4 223.8 L561.7 222.6 L561.9 223.6 L562.1 223.9 L562.3 223.5 L562.6 223.8 L562.8 224.2 L563 224 L563.2 222.9 L563.5 223 L563.7 222.4 L563.9 225.2 L564.1 224 L564.4 224 L564.6 223.4 L564.8 224 L565 224.1 L565.3 222.9 L565.5 223.4 L565.7 224.7 L566 222.3 L566.2 222.7 L566.4 224.2 L566.6 222.8 L566.9 224.3 L567.1 222.5 L567.3 223.8 L567.5 224.4 L567.8 224 L568 224.4 L568.2 223.4 L568.4 223.5 L568.7 223.6 L568.9 224.2 L569.1 221.4 L569.3 213.2 L569.6 212.3 L569.8 208.4 L570 206.3 L570.2 206.3 L570.5 206.4 L570.7 205.7 L570.9 205.3 L571.1 205.4 L571.4 205.2 L571.6 205.3 L571.8 203.1 L572 204.1 L572.3 202.9 L572.5 204 L572.7 203.5 L572.9 203.6 L573.2 202.8 L573.4 202.4 L573.6 202.8 L573.8 203.6 L574.1 203.6 L574.3 201.1 L574.5 202.9 L574.8 202.8 L575 201 L575.2 201.3 L575.4 201.7 L575.7 202.5 L575.9 199.8 L576.1 201.6 L576.3 201.4 L576.6 202.1 L576.8 203.2 L577 203.1 L577.2 201.3 L577.5 201.3 L577.7 201.8 L577.9 202.7 L578.1 202.9 L578.4 201.8 L578.6 202.8 L578.8 200.5 L579 200.3 L579.3 198.6 L579.5 200.4 L579.7 201.8 L579.9 202.1 L580.2 204.5 L580.4 201.7 L580.6 201.3 L580.8 200.2 L581.1 200.5 L581.3 200.5 L581.5 200.9 L581.7 200.4 L582 199.6 L582.2 202 L582.4 201.4 L582.7 202.3 L582.9 199.4 L583.1 199.7 L583.3 200.2 L583.6 202.1 L583.8 200.7 L584 201.1 L584.2 200.8 L584.5 201 L584.7 200.4 L584.9 201.2 L585.1 200 L585.4 200.6 L585.6 201.1 L585.8 200.9 L586 201.2 L586.3 200 L586.5 201 L586.7 200.5 L586.9 201.1 L587.2 202.2 L587.4 199.9 L587.6 201.8 L587.8 200.1 L588.1 200.3 L588.3 202.3 L588.5 201.6 L588.7 201.2 L589 201.5 L589.2 201.9 L589.4 200 L589.6 200.9 L589.9 200.3 L590.1 201.1 L590.3 200.4 L590.5 201.4 L590.8 200.7 L591 200.1 L591.2 200.7 L591.5 201.1 L591.7 201.7 L591.9 200.5 L592.1 200.4 L592.4 200.9 L592.6 201.4 L592.8 200.2 L593 198.3 L593.3 201 L593.5 200.4 L593.7 200.3 L593.9 203.1 L594.2 200.6 L594.4 201.3 L594.6 199.3 L594.8 200.9 L595.1 201.4 L595.3 200.9 L595.5 200.5 L595.7 201.2 L596 200.7 L596.2 202 L596.4 200.9 L596.6 199.9 L596.9 198.8 L597.1 200 L597.3 200.4 L597.5 199.5 L597.8 199.7 L598 199.1 L598.2 199.6 L598.4 200.8 L598.7 200.4 L598.9 200.5 L599.1 200.4 L599.4 200.5 L599.6 201.4 L599.8 202.7 L600 201.3 L600.3 202.6 L600.5 200.6 L600.7 200.6 L600.9 202.3 L601.2 200 L601.4 199.8 L601.6 200.6 L601.8 199 L602.1 198.8 L602.3 201.8 L602.5 199.7 L602.7 200.2 L603 200.2 L603.2 199.7 L603.4 201.3 L603.6 201.2 L603.9 201.4 L604.1 201.4 L604.3 200.7 L604.5 202 L604.8 201.7 L605 200.1 L605.2 200.7 L605.4 200.3 L605.7 202.5 L605.9 201.4 L606.1 201.2 L606.3 200.6 L606.6 201.2 L606.8 199.7 L607 200.7 L607.2 200.6 L607.5 200.6 L607.7 200 L607.9 201.1 L608.2 199.6 L608.4 200.2 L608.6 200.5 L608.8 200.6 L609.1 200.1 L609.3 199.7 L609.5 199.7 L609.7 200.3 L610 199.8 L610.2 200.5 L610.4 199.4 L610.6 200.7 L610.9 202.6 L611.1 199.4 L611.3 200.5 L611.5 201.8 L611.8 200.8 L612 201.5 L612.2 198.6 L612.4 200.2 L612.7 202.2 L612.9 200.1 L613.1 201 L613.3 198.8 L613.6 201.7 L613.8 200.7 L614 204.8 L614.2 209.2 L614.5 211.8 L614.7 215.2 L614.9 213.9 L615.1 213.5 L615.4 217.6 L615.6 215.1 L615.8 217.2 L616.1 214.8 L616.3 216.9 L616.5 217.8 L616.7 216.9 L617 217.7 L617.2 219 L617.4 218 L617.6 219.4 L617.9 220.8 L618.1 217.4 L618.3 219.9 L618.5 220.3 L618.8 219.6 L619 221.6 L619.2 221.5 L619.4 220.9 L619.7 221.1 L619.9 220.6 L620.1 219.8 L620.3 221.4 L620.6 220.6 L620.8 220.7 L621 222.4 L621.2 221.3 L621.5 222.5 L621.7 220.7 L621.9 221.4 L622.1 221.9 L622.4 223.3 L622.6 222 L622.8 222.9 L623 221.6 L623.3 222.4 L623.5 223.2 L623.7 221.6 L623.9 221.8 L624.2 223.2 L624.4 221.5 L624.6 223 L624.9 223.1 L625.1 222.7 L625.3 223.6 L625.5 223.4 L625.8 223.2 L626 221.6 L626.2 221.7 L626.4 223.4 L626.7 221.6 L626.9 223.3 L627.1 222.9 L627.3 222.4 L627.6 223.1 L627.8 221 L628 223.2 L628.2 224.6 L628.5 222.2 L628.7 223.9 L628.9 223.8 L629.1 226.4 L629.4 222.6 L629.6 222.8 L629.8 222.9 L630 222.7 L630.3 222 L630.5 223.7 L630.7 222.8 L630.9 224.4 L631.2 224.1 L631.4 222.7 L631.6 223.4 L631.8 225.1 L632.1 223.5 L632.3 224 L632.5 224.6 L632.8 223.4 L633 224.3 L633.2 225.4 L633.4 225 L633.7 222.2 L633.9 225.4 L634.1 223.7 L634.3 223.3 L634.6 223.3 L634.8 225.1 L635 224.3 L635.2 223.8 L635.5 223.2 L635.7 224.6 L635.9 225.1 L636.1 223 L636.4 222.9 L636.6 223.7 L636.8 224.6 L637 223.6 L637.3 223.9 L637.5 223.2 L637.7 225.2 L637.9 223.9 L638.2 224.2 L638.4 225.1 L638.6 223.9 L638.8 224 L639.1 224.5 L639.3 223.7 L639.5 225.4 L639.7 224.1 L640 223.7 L640.2 223.8 L640.4 223.1 L640.6 225.3 L640.9 225.6 L641.1 223.9 L641.3 223.7 L641.6 222.1 L641.8 223.5 L642 225 L642.2 223.3 L642.5 224.9 L642.7 225.6 L642.9 221.6 L643.1 223.8 L643.4 223.4 L643.6 223.6 L643.8 222.4 L644 223.9 L644.3 223 L644.5 225.1 L644.7 225.5 L644.9 222.8 L645.2 222.7 L645.4 223.7 L645.6 223.9 L645.8 224 L646.1 224.8 L646.3 222.7 L646.5 223.5 L646.7 223.7 L647 223.8 L647.2 223.1 L647.4 223.7 L647.6 223.4 L647.9 225.3 L648.1 223.7 L648.3 222.1 L648.5 224.7 L648.8 224.3 L649 223.3 L649.2 223.2 L649.5 223.6 L649.7 225.7 L649.9 223.7 L650.1 225.3 L650.4 225 L650.6 223.6 L650.8 224.4 L651 223.4 L651.3 221.1 L651.5 223.4 L651.7 223.5 L651.9 225 L652.2 224.8 L652.4 225.2 L652.6 224.7 L652.8 225.2 L653.1 224.8 L653.3 224.4 L653.5 225.1 L653.7 225.5 L654 225.5 L654.2 223.7 L654.4 224.1 L654.6 223.2 L654.9 223.2 L655.1 224.5 L655.3 223.5 L655.5 225.6 L655.8 222 L656 223 L656.2 224.4 L656.4 225.3 L656.7 223.8 L656.9 226 L657.1 224.9 L657.3 223.5 L657.6 224.1 L657.8 224.6 L658 223.3 L658.3 225.2 L658.5 223.9 L658.7 224.7 L658.9 225 L659.2 223.7 L659.4 225.1 L659.6 222.3 L659.8 224.5 L660.1 216.1 L660.3 215.3 L660.5 211.3 L660.7 211.5 L661 210.6 L661.2 208.4 L661.4 207.4 L661.6 208.9 L661.9 206.2 L662.1 207.9 L662.3 206.7 L662.5 206.3 L662.8 205.9 L663 208 L663.2 204.6 L663.4 205.5 L663.7 206.3 L663.9 206.7 L664.1 207.2 L664.3 206.8 L664.6 204.8 L664.8 205.6 L665 206.2 L665.2 205.5 L665.5 203.4 L665.7 205.2 L665.9 205.3 L666.2 203.4 L666.4 204.2 L666.6 204.5 L666.8 205.1 L667.1 205.9 L667.3 205.5 L667.5 204.7 L667.7 204.4 L668 203.8 L668.2 203.6 L668.4 203.9 L668.6 203.8 L668.9 204.9 L669.1 206 L669.3 204.4 L669.5 204.8 L669.8 204.4 L670 204 L670.2 204.9 L670.4 204.8 L670.7 203.8 L670.9 203.5 L671.1 204.3 L671.3 203.1 L671.6 203.8 L671.8 204.5 L672 203.5 L672.2 201.7 L672.5 204.1 L672.7 202.4 L672.9 202.1 L673.1 202 L673.4 204.2 L673.6 201.5 L673.8 203.3 L674 203.6 L674.3 203.6 L674.5 202.8 L674.7 203.3 L675 203.5 L675.2 202.1 L675.4 204 L675.6 204.3 L675.9 202.5 L676.1 202.6 L676.3 202.2 L676.5 204.3 L676.8 202.2 L677 202.8 L677.2 201.5 L677.4 204.4 L677.7 203 L677.9 203.5 L678.1 204.7 L678.3 203.9 L678.6 202.1 L678.8 203.7 L679 203.9 L679.2 202.4 L679.5 202.2 L679.7 202.2 L679.9 203.9 L680.1 203.2 L680.4 202.2 L680.6 203.8 L680.8 203.9 L681 202.4 L681.3 201.7 L681.5 204.3 L681.7 205.7 L681.9 204.5 L682.2 204.1 L682.4 203.3 L682.6 202.6 L682.9 203.3 L683.1 203.8 L683.3 203 L683.5 204.1 L683.8 203.2 L684 203.8 L684.2 200.6 L684.4 202.3 L684.7 203.9 L684.9 204.1 L685.1 203.6 L685.3 204.7 L685.6 203.8 L685.8 203.8 L686 202.3 L686.2 203.5 L686.5 203.9 L686.7 204.4 L686.9 204.3 L687.1 203.2 L687.4 203.3 L687.6 202 L687.8 203.7 L688 202.1 L688.3 202.9 L688.5 203.1 L688.7 205 L688.9 204.4 L689.2 202.4 L689.4 201.8 L689.6 202.9 L689.8 202.4 L690.1 203.5 L690.3 203.5 L690.5 203.8 L690.7 202.2 L691 202.8 L691.2 203.3 L691.4 203.4 L691.7 202.6 L691.9 202.8 L692.1 203.9 L692.3 201.5 L692.6 202.9 L692.8 203.1 L693 201.7 L693.2 202.1 L693.5 203.2 L693.7 202.6 L693.9 204.1 L694.1 203.7 L694.4 205.3 L694.6 201.9 L694.8 204.9 L695 202.5 L695.3 203.9 L695.5 204.1 L695.7 203.3 L695.9 202.9 L696.2 202.5 L696.4 201.4 L696.6 202.8 L696.8 202.3 L697.1 203.7 L697.3 202.4 L697.5 203 L697.7 203.6 L698 203.2 L698.2 203.2 L698.4 202.9 L698.6 202.7 L698.9 203.6 L699.1 203.8 L699.3 202.4 L699.6 204.7 L699.8 203.7 L700 201.6 L700.2 205.7 L700.5 203.8 L700.7 202.4 L700.9 204.7 L701.1 200.6 L701.4 205.6 L701.6 201.7 L701.8 201.6 L702 202.2 L702.3 203.3 L702.5 202.8 L702.7 204 L702.9 202.3 L703.2 204.2 L703.4 203.6 L703.6 207.3 L703.8 212.4 L704.1 213.8 L704.3 214.7 L704.5 217.1 L704.7 215.5 L705 216.8 L705.2 219.1 L705.4 218.1 L705.6 219.2 L705.9 219.4 L706.1 219 L706.3 220.1 L706.5 218.7 L706.8 220.6 L707 219.2 L707.2 220.4 L707.4 219.8 L707.7 221.3 L707.9 221.5 L708.1 222.3 L708.4 220.8 L708.6 220.6 L708.8 219.7 L709 220.6 L709.3 221.7 L709.5 222.3 L709.7 221.9 L709.9 222.4 L710.2 221.1 L710.4 221.7 L710.6 223.5 L710.8 223.5 L711.1 221.6 L711.3 222.7 L711.5 223.3 L711.7 222 L712 223.6 L712.2 223.6 L712.4 223.9 L712.6 225.4 L712.9 222.7 L713.1 224.8 L713.3 224.2 L713.5 224.4 L713.8 223.1 L714 223.9 L714.2 223.9 L714.4 225.5 L714.7 224 L714.9 225.4 L715.1 223.8 L715.3 223.7 L715.6 224.1 L715.8 222.2 L716 223.7 L716.3 223.6 L716.5 224.1 L716.7 224.5 L716.9 223.4 L717.2 223.3 L717.4 225.6 L717.6 223.4 L717.8 223.9 L718.1 223.5 L718.3 224 L718.5 225.7 L718.7 225.6 L719 222.7 L719.2 224.3 L719.4 225.9 L719.6 224.2 L719.9 224.9 L720.1 226.3 L720.3 226.8 L720.5 226.1 L720.8 224.3 L721 224.7 L721.2 224.9 L721.4 224.4 L721.7 224.1 L721.9 226.7 L722.1 224.9 L722.3 225.5 L722.6 225.9 L722.8 225.2 L723 224.8 L723.2 224.9 L723.5 226.1 L723.7 225.2 L723.9 222.8 L724.1 225.7 L724.4 226.3 L724.6 224.5 L724.8 224.2 L725.1 224.3 L725.3 225.8 L725.5 223.8 L725.7 225.5 L726 225.8 L726.2 225.3 L726.4 224.9 L726.6 224.1 L726.9 224.2 L727.1 224.8 L727.3 223.9 L727.5 224.7 L727.8 223.9 L728 226.1 L728.2 226.3 L728.4 224 L728.7 226.1 L728.9 225.1 L729.1 224.9 L729.3 225.3 L729.6 225.2 L729.8 223.4 L730 227.2 L730.2 223.9 L730.5 222.6 L730.7 224.8 L730.9 224.8 L731.1 224.1 L731.4 223 L731.6 225.9 L731.8 224.7 L732 225 L732.3 224.3 L732.5 224.6 L732.7 224.2 L733 225.2 L733.2 224.8 L733.4 225.4 L733.6 225.4 L733.9 224.9 L734.1 224.9 L734.3 225.9 L734.5 223.3 L734.8 224.9 L735 226.1 L735.2 223.7 L735.4 225.5 L735.7 224.3 L735.9 224.8 L736.1 224.6 L736.3 224.6 L736.6 225.4 L736.8 224.8 L737 222.9 L737.2 227 L737.5 224.7 L737.7 224.4 L737.9 225.8 L738.1 226.1 L738.4 222.7 L738.6 225.2 L738.8 222.8 L739 224.3 L739.3 224.7 L739.5 224.4 L739.7 224.2 L739.9 223.7 L740.2 224.4 L740.4 224.7 L740.6 224.6 L740.8 223.5 L741.1 224 L741.3 225.8 L741.5 225.4 L741.8 224.5 L742 225.4 L742.2 225.2 L742.4 225.7 L742.7 225.1 L742.9 224.4 L743.1 223.9 L743.3 224.8 L743.6 222.8 L743.8 224.9 L744 221.7 L744.2 223.9 L744.5 224.3 L744.7 225.3 L744.9 227.5 L745.1 225 L745.4 224.6 L745.6 223 L745.8 226.1 L746 223 L746.3 225.1 L746.5 224.1 L746.7 227.3 L746.9 224.7 L747.2 225.1 L747.4 224.2 L747.6 224.7 L747.8 225.9" fill="none" stroke="#0000ff" stroke-width="2.6" stroke-linejoin="round" stroke-linecap="round"/>
<path d="M431.9 -30.7 L432.2 -30.7 L432.4 -30.7 L432.7 -30.7 L433 -30.8 L433.3 -30.6 L433.5 -30.4 L433.8 -4.7 L434.1 52.4 L434.3 90.6 L434.6 116 L434.9 133 L435.1 144.5 L435.4 152.5 L435.7 158.2 L436 162.4 L436.2 165.1 L436.5 167.9 L436.8 170 L437 171.9 L437.3 173.3 L437.6 174.4 L437.9 175.6 L438.1 177 L438.4 178 L438.7 179.1 L438.9 180.3 L439.2 180.9 L439.5 182 L439.8 182.6 L440 184 L440.3 184.7 L440.6 185.4 L440.8 186.4 L441.1 187.4 L441.4 188.1 L441.6 188.6 L441.9 189.3 L442.2 190.1 L442.5 190.6 L442.7 191.3 L443 192 L443.3 192.7 L443.5 193.3 L443.8 193.8 L444.1 194.3 L444.4 195 L444.6 195.5 L444.9 196.2 L445.2 196.8 L445.4 197.3 L445.7 197.5 L446 198 L446.3 198.3 L446.5 199 L446.8 199.3 L447.1 199.6 L447.3 200.1 L447.6 200.7 L447.9 201.1 L448.1 201.4 L448.4 201.9 L448.7 202 L449 202.3 L449.2 202.9 L449.5 202.8 L449.8 203.5 L450 203.8 L450.3 204.1 L450.6 204.4 L450.9 204.5 L451.1 204.9 L451.4 204.9 L451.7 205.3 L451.9 205.6 L452.2 205.9 L452.5 206.4 L452.8 206.4 L453 206.7 L453.3 206.7 L453.6 207 L453.8 207 L454.1 207.3 L454.4 207.5 L454.6 207.8 L454.9 208 L455.2 208.1 L455.5 208.2 L455.7 208.6 L456 208.6 L456.3 208.4 L456.5 209 L456.8 209.2 L457.1 209.4 L457.4 209.7 L457.6 209.4 L457.9 209.7 L458.2 209.8 L458.4 209.7 L458.7 209.7 L459 210.4 L459.3 210.2 L459.5 210.3 L459.8 210.5 L460.1 210.6 L460.3 210.8 L460.6 210.6 L460.9 210.9 L461.1 211 L461.4 210.9 L461.7 211.1 L462 211.2 L462.2 211.4 L462.5 211.2 L462.8 211.5 L463 211.7 L463.3 211.9 L463.6 211.9 L463.9 212 L464.1 211.9 L464.4 212 L464.7 212.4 L464.9 212.1 L465.2 212.1 L465.5 212.2 L465.8 212.5 L466 212.2 L466.3 212.5 L466.6 212.7 L466.8 212.7 L467.1 212.6 L467.4 212.5 L467.6 212.5 L467.9 212.7 L468.2 213 L468.5 212.9 L468.7 213 L469 212.9 L469.3 213.2 L469.5 213 L469.8 212.9 L470.1 213.1 L470.4 213 L470.6 213.3 L470.9 213.4 L471.2 213.3 L471.4 213 L471.7 213.1 L472 213.4 L472.3 213.1 L472.5 213.4 L472.8 213.1 L473.1 213.3 L473.3 213.5 L473.6 213.3 L473.9 213.6 L474.1 213.7 L474.4 213.8 L474.7 213.5 L475 213.6 L475.2 213.6 L475.5 213.7 L475.8 213.4 L476 213.7 L476.3 213.8 L476.6 213.5 L476.9 213.5 L477.1 213.7 L477.4 214 L477.7 213.9 L477.9 213.7 L478.2 213.8 L478.5 213.6 L478.8 214 L479 213.7 L479.3 214 L479.6 213.7 L479.8 213.9 L480.1 213.7 L480.4 214 L480.6 214.1 L480.9 214 L481.2 192.9 L481.5 185.3 L481.7 182.1 L482 181 L482.3 180.9 L482.5 181 L482.8 180.8 L483.1 180.9 L483.4 180.6 L483.6 180.8 L483.9 180.8 L484.2 181 L484.4 181.2 L484.7 181.1 L485 181.2 L485.2 180.9 L485.5 181 L485.8 181.2 L486.1 181.2 L486.3 180.9 L486.6 181.3 L486.9 181.3 L487.1 181.2 L487.4 181.3 L487.7 181.3 L488 181.2 L488.2 181 L488.5 181.6 L488.8 181.4 L489 181.4 L489.3 181.4 L489.6 181.5 L489.9 181.5 L490.1 181.4 L490.4 181.6 L490.7 181.6 L490.9 181.6 L491.2 181.6 L491.5 181.7 L491.7 181.5 L492 181.7 L492.3 181.7 L492.6 181.8 L492.8 182 L493.1 182 L493.4 182 L493.6 181.9 L493.9 182 L494.2 182.1 L494.5 181.9 L494.7 181.9 L495 182.3 L495.3 181.8 L495.5 182.1 L495.8 182.1 L496.1 182 L496.4 182.2 L496.6 182.3 L496.9 181.9 L497.2 182.4 L497.4 182.3 L497.7 182.2 L498 182.5 L498.2 182.4 L498.5 182.4 L498.8 182.1 L499.1 182.6 L499.3 182.5 L499.6 182.4 L499.9 182.5 L500.1 182.8 L500.4 182.6 L500.7 182.6 L501 182.6 L501.2 182.5 L501.5 182.6 L501.8 182.7 L502 182.7 L502.3 183 L502.6 182.9 L502.9 182.8 L503.1 183 L503.4 182.9 L503.7 183.1 L503.9 182.7 L504.2 182.7 L504.5 183.1 L504.7 183 L505 183.1 L505.3 182.9 L505.6 183.1 L505.8 183.2 L506.1 183.3 L506.4 183.2 L506.6 183.4 L506.9 183.2 L507.2 183.5 L507.5 183.3 L507.7 183.4 L508 183.3 L508.3 183.5 L508.5 183.3 L508.8 183.7 L509.1 183.4 L509.4 183.6 L509.6 183.6 L509.9 183.6 L510.2 183.5 L510.4 184 L510.7 183.7 L511 184 L511.2 183.6 L511.5 184.1 L511.8 184 L512.1 184.1 L512.3 183.6 L512.6 184.1 L512.9 183.9 L513.1 184.1 L513.4 184.3 L513.7 184.1 L514 184 L514.2 184.1 L514.5 184 L514.8 184.2 L515 184.2 L515.3 184.3 L515.6 184.2 L515.9 184 L516.1 184.2 L516.4 184.3 L516.7 184.5 L516.9 184.5 L517.2 184.2 L517.5 184.6 L517.7 184.6 L518 184.5 L518.3 184.6 L518.6 184.2 L518.8 185 L519.1 184.6 L519.4 184.5 L519.6 184.8 L519.9 184.8 L520.2 184.7 L520.5 184.5 L520.7 184.9 L521 185.1 L521.3 184.7 L521.5 184.6 L521.8 185 L522.1 185.3 L522.4 184.7 L522.6 185 L522.9 184.8 L523.2 192.2 L523.4 199.1 L523.7 203.1 L524 205 L524.2 206.5 L524.5 207.9 L524.8 208.4 L525.1 208.5 L525.3 209.2 L525.6 209.7 L525.9 209.8 L526.1 210.1 L526.4 210.4 L526.7 210.7 L527 210.9 L527.2 211.2 L527.5 211.3 L527.8 211.7 L528 211.9 L528.3 212.1 L528.6 212 L528.8 212.4 L529.1 212.7 L529.4 212.8 L529.7 213 L529.9 213 L530.2 213.3 L530.5 213.3 L530.7 213.5 L531 213.9 L531.3 214.1 L531.6 214 L531.8 214.2 L532.1 214.5 L532.4 214.8 L532.6 215 L532.9 214.8 L533.2 214.9 L533.5 215 L533.7 215.5 L534 215.2 L534.3 215.6 L534.5 215.5 L534.8 215.6 L535.1 215.9 L535.3 216 L535.6 216.3 L535.9 216.2 L536.2 216.5 L536.4 216.2 L536.7 216.3 L537 216.3 L537.2 216.4 L537.5 216.7 L537.8 216.6 L538.1 216.8 L538.3 216.7 L538.6 216.8 L538.9 217.1 L539.1 217 L539.4 217.1 L539.7 217.2 L540 217 L540.2 217 L540.5 217.4 L540.8 217.4 L541 217.8 L541.3 217.5 L541.6 217.6 L541.8 217.9 L542.1 217.6 L542.4 217.6 L542.7 217.8 L542.9 217.8 L543.2 217.9 L543.5 217.7 L543.7 218.1 L544 217.9 L544.3 217.6 L544.6 218 L544.8 217.9 L545.1 218.1 L545.4 218.3 L545.6 218.1 L545.9 218.1 L546.2 218.3 L546.5 218.1 L546.7 218 L547 218.1 L547.3 218.5 L547.5 218.5 L547.8 218.6 L548.1 218.2 L548.3 218.3 L548.6 218.3 L548.9 218.6 L549.2 218.6 L549.4 218.5 L549.7 218.5 L550 218.6 L550.2 218.5 L550.5 218.4 L550.8 218.5 L551.1 218.7 L551.3 218.9 L551.6 218.7 L551.9 218.6 L552.1 218.7 L552.4 218.7 L552.7 218.8 L553 218.6 L553.2 218.7 L553.5 218.7 L553.8 218.9 L554 218.8 L554.3 218.7 L554.6 218.9 L554.8 219 L555.1 218.8 L555.4 218.6 L555.7 218.8 L555.9 218.6 L556.2 218.8 L556.5 218.9 L556.7 219.1 L557 218.9 L557.3 218.6 L557.6 218.8 L557.8 218.8 L558.1 218.8 L558.4 218.9 L558.6 218.9 L558.9 218.9 L559.2 218.8 L559.5 218.8 L559.7 218.9 L560 218.9 L560.3 219.1 L560.5 219 L560.8 219.1 L561.1 218.8 L561.3 219.3 L561.6 219 L561.9 218.6 L562.2 219 L562.4 219.2 L562.7 219 L563 218.8 L563.2 219 L563.5 218.9 L563.8 219 L564.1 219.1 L564.3 218.5 L564.6 219 L564.9 219.1 L565.1 219.1 L565.4 219 L565.7 219 L566 218.9 L566.2 219 L566.5 219.3 L566.8 219 L567 219.1 L567.3 219.1 L567.6 219.3 L567.8 219.2 L568.1 219.2 L568.4 219.1 L568.7 219.3 L568.9 219.1 L569.2 209.2 L569.5 203.9 L569.7 200.6 L570 198.6 L570.3 197 L570.6 196.5 L570.8 195.5 L571.1 195.1 L571.4 194.3 L571.6 193.7 L571.9 193.5 L572.2 193 L572.5 192.8 L572.7 192 L573 191.9 L573.3 191.5 L573.5 191.6 L573.8 191.3 L574.1 190.8 L574.3 190.7 L574.6 190.5 L574.9 190.2 L575.2 190.3 L575.4 189.8 L575.7 189.7 L576 189.5 L576.2 189.5 L576.5 189.2 L576.8 189.2 L577.1 188.9 L577.3 188.7 L577.6 188.6 L577.9 188.6 L578.1 188.5 L578.4 188.9 L578.7 188.3 L578.9 188.3 L579.2 188.2 L579.5 188.2 L579.8 188.3 L580 188.1 L580.3 187.8 L580.6 187.7 L580.8 187.9 L581.1 187.9 L581.4 187.5 L581.7 187.8 L581.9 187.3 L582.2 187.6 L582.5 187.7 L582.7 187.4 L583 187.2 L583.3 187.7 L583.6 187.2 L583.8 187.5 L584.1 187.1 L584.4 187.4 L584.6 187.6 L584.9 187.2 L585.2 187.1 L585.4 186.9 L585.7 187 L586 187.1 L586.3 187.3 L586.5 187.3 L586.8 187.2 L587.1 187.3 L587.3 187.2 L587.6 187.6 L587.9 187.1 L588.2 187.1 L588.4 186.7 L588.7 187 L589 187.2 L589.2 187 L589.5 187.3 L589.8 187.2 L590.1 187.4 L590.3 186.8 L590.6 187 L590.9 187.2 L591.1 187.1 L591.4 186.9 L591.7 187 L591.9 187 L592.2 187.2 L592.5 187.1 L592.8 187 L593 186.9 L593.3 187.1 L593.6 187.2 L593.8 186.8 L594.1 187.2 L594.4 186.8 L594.7 187 L594.9 186.9 L595.2 186.7 L595.5 186.9 L595.7 186.9 L596 187.1 L596.3 187.1 L596.6 186.9 L596.8 186.7 L597.1 186.8 L597.4 186.6 L597.6 186.9 L597.9 186.9 L598.2 186.8 L598.4 187 L598.7 187 L599 187.1 L599.3 186.8 L599.5 187.1 L599.8 186.9 L600.1 187.2 L600.3 186.8 L600.6 187.1 L600.9 186.8 L601.2 187.2 L601.4 187 L601.7 186.8 L602 187.1 L602.2 187 L602.5 187 L602.8 187.3 L603.1 186.9 L603.3 186.9 L603.6 187.1 L603.9 186.9 L604.1 187.1 L604.4 187.1 L604.7 187 L604.9 187.1 L605.2 186.6 L605.5 187.2 L605.8 186.8 L606 186.8 L606.3 187.3 L606.6 187.2 L606.8 186.9 L607.1 187 L607.4 186.9 L607.7 186.8 L607.9 187 L608.2 187.1 L608.5 187.4 L608.7 186.9 L609 187.1 L609.3 186.9 L609.6 186.9 L609.8 187.2 L610.1 186.7 L610.4 186.8 L610.6 186.8 L610.9 187.1 L611.2 187 L611.4 187 L611.7 187 L612 187.1 L612.3 186.9 L612.5 186.9 L612.8 186.9 L613.1 187 L613.3 186.7 L613.6 186.9 L613.9 191.2 L614.2 198.4 L614.4 202.7 L614.7 205.1 L615 206.9 L615.2 207.9 L615.5 208.7 L615.8 209.1 L616.1 209.7 L616.3 210.1 L616.6 210.5 L616.9 210.6 L617.1 211.1 L617.4 211.6 L617.7 211.5 L617.9 212 L618.2 212.1 L618.5 212.4 L618.8 212.5 L619 212.8 L619.3 213.3 L619.6 213.4 L619.8 213.8 L620.1 213.5 L620.4 213.9 L620.7 214 L620.9 214.4 L621.2 214.9 L621.5 214.5 L621.7 214.9 L622 215 L622.3 215.2 L622.6 215.2 L622.8 215.4 L623.1 215.9 L623.4 215.6 L623.6 215.9 L623.9 216.1 L624.2 215.8 L624.4 216.1 L624.7 216.4 L625 216.7 L625.3 216.5 L625.5 216.5 L625.8 216.7 L626.1 217 L626.3 217 L626.6 217.2 L626.9 217 L627.2 217 L627.4 217 L627.7 217.4 L628 217.3 L628.2 217.3 L628.5 217.6 L628.8 217.6 L629 217.3 L629.3 217.6 L629.6 217.6 L629.9 217.8 L630.1 217.8 L630.4 218.1 L630.7 217.9 L630.9 217.8 L631.2 217.7 L631.5 217.8 L631.8 218 L632 218.1 L632.3 218.3 L632.6 218.2 L632.8 218.1 L633.1 218.4 L633.4 218.1 L633.7 218.5 L633.9 218.6 L634.2 218.5 L634.5 218.7 L634.7 218.7 L635 218.3 L635.3 218.5 L635.5 218.5 L635.8 218.4 L636.1 218.4 L636.4 218.7 L636.6 218.4 L636.9 218.6 L637.2 218.6 L637.4 218.6 L637.7 218.9 L638 218.8 L638.3 218.7 L638.5 218.6 L638.8 218.8 L639.1 218.8 L639.3 218.6 L639.6 218.6 L639.9 218.7 L640.2 218.6 L640.4 218.9 L640.7 218.9 L641 218.8 L641.2 218.9 L641.5 219 L641.8 218.6 L642 218.9 L642.3 219.1 L642.6 218.8 L642.9 218.6 L643.1 218.9 L643.4 218.7 L643.7 219 L643.9 219 L644.2 219.1 L644.5 219 L644.8 218.7 L645 219.2 L645.3 218.7 L645.6 219.2 L645.8 219 L646.1 218.9 L646.4 218.9 L646.7 219 L646.9 219.3 L647.2 219 L647.5 219.2 L647.7 218.6 L648 219.1 L648.3 219 L648.5 219.2 L648.8 219.1 L649.1 219.3 L649.4 218.9 L649.6 219.1 L649.9 219 L650.2 219.2 L650.4 219.1 L650.7 218.9 L651 219.2 L651.3 219.4 L651.5 219 L651.8 219.3 L652.1 219.2 L652.3 218.9 L652.6 219.2 L652.9 219 L653.2 219.2 L653.4 218.9 L653.7 218.9 L654 219.2 L654.2 219.1 L654.5 219.2 L654.8 219.1 L655 218.9 L655.3 219.3 L655.6 219 L655.9 219.3 L656.1 219.2 L656.4 219.4 L656.7 218.8 L656.9 219.1 L657.2 219.1 L657.5 219.2 L657.8 218.9 L658 219.5 L658.3 219.1 L658.6 218.8 L658.8 219.2 L659.1 219.1 L659.4 219 L659.7 219.3 L659.9 215.1 L660.2 206.8 L660.5 202.2 L660.7 199.4 L661 197.7 L661.3 196.4 L661.5 195.5 L661.8 194.6 L662.1 194.2 L662.4 193.8 L662.6 193.8 L662.9 192.8 L663.2 192.5 L663.4 192.4 L663.7 192.2 L664 191.7 L664.3 191.1 L664.5 191.1 L664.8 190.8 L665.1 190.4 L665.3 190 L665.6 190 L665.9 189.7 L666.2 189.6 L666.4 189.1 L666.7 188.9 L667 189 L667.2 189 L667.5 188.7 L667.8 188.3 L668 188.4 L668.3 188 L668.6 187.9 L668.9 187.8 L669.1 187.6 L669.4 187.6 L669.7 187.7 L669.9 187.5 L670.2 186.9 L670.5 187.4 L670.8 187.2 L671 186.9 L671.3 187 L671.6 187 L671.8 187 L672.1 186.7 L672.4 186.5 L672.7 186.4 L672.9 186.5 L673.2 186.3 L673.5 186.6 L673.7 186.4 L674 186.4 L674.3 186.3 L674.5 186.1 L674.8 186 L675.1 186.3 L675.4 185.9 L675.6 186.2 L675.9 186.2 L676.2 186 L676.4 186.2 L676.7 185.9 L677 185.9 L677.3 185.9 L677.5 185.8 L677.8 185.9 L678.1 185.8 L678.3 186 L678.6 185.8 L678.9 185.9 L679.1 185.8 L679.4 185.7 L679.7 185.7 L680 185.9 L680.2 185.9 L680.5 185.7 L680.8 185.6 L681 185.6 L681.3 185.5 L681.6 185.4 L681.9 185.5 L682.1 185.6 L682.4 185.7 L682.7 185.7 L682.9 185.6 L683.2 185.5 L683.5 185.5 L683.8 185.5 L684 185.5 L684.3 185.4 L684.6 185.5 L684.8 185.4 L685.1 185.4 L685.4 185.6 L685.6 185.6 L685.9 185.4 L686.2 185.4 L686.5 185.5 L686.7 185.5 L687 185.1 L687.3 185.6 L687.5 185.5 L687.8 185.4 L688.1 185.6 L688.4 185.4 L688.6 185.1 L688.9 185.3 L689.2 185.3 L689.4 185.3 L689.7 185.4 L690 185.2 L690.3 185.4 L690.5 185.5 L690.8 185.4 L691.1 185.2 L691.3 185.3 L691.6 185.3 L691.9 185.7 L692.1 185.2 L692.4 185 L692.7 185.2 L693 185.4 L693.2 185.5 L693.5 185.3 L693.8 185.5 L694 185.3 L694.3 185.5 L694.6 185.2 L694.9 185.2 L695.1 185.7 L695.4 185.3 L695.7 185.5 L695.9 185.6 L696.2 185.5 L696.5 185.4 L696.8 185.2 L697 185.6 L697.3 185.2 L697.6 185 L697.8 185.3 L698.1 185.3 L698.4 185.4 L698.6 185.6 L698.9 185.3 L699.2 185.3 L699.5 185.2 L699.7 184.9 L700 185.2 L700.3 185.3 L700.5 185.1 L700.8 185.6 L701.1 185.5 L701.4 185.4 L701.6 185.5 L701.9 185.2 L702.2 185.4 L702.4 185.1 L702.7 185.1 L703 185.2 L703.3 185.4 L703.5 195.3 L703.8 200.8 L704.1 204.6 L704.3 206.6 L704.6 208.1 L704.9 209.2 L705.1 209.7 L705.4 210.4 L705.7 211.2 L706 211.4 L706.2 211.9 L706.5 212 L706.8 212.6 L707 212.6 L707.3 212.9 L707.6 213.1 L707.9 213.5 L708.1 213.9 L708.4 213.6 L708.7 214.2 L708.9 214.1 L709.2 214.5 L709.5 214.6 L709.8 214.6 L710 215 L710.3 215 L710.6 215.6 L710.8 215.4 L711.1 215.8 L711.4 215.9 L711.6 216 L711.9 216.1 L712.2 216 L712.5 216.7 L712.7 216.5 L713 216.7 L713.3 216.6 L713.5 216.9 L713.8 216.9 L714.1 217.1 L714.4 217 L714.6 217.1 L714.9 217.4 L715.2 217.4 L715.4 217.7 L715.7 217.5 L716 217.5 L716.3 217.8 L716.5 217.6 L716.8 218.2 L717.1 218.2 L717.3 218.2 L717.6 218.1 L717.9 218.1 L718.1 218.2 L718.4 218.3 L718.7 218.2 L719 218.4 L719.2 218.6 L719.5 218.6 L719.8 218.1 L720 218.9 L720.3 218.6 L720.6 218.4 L720.9 218.6 L721.1 218.8 L721.4 218.7 L721.7 218.6 L721.9 218.6 L722.2 219 L722.5 218.7 L722.7 218.9 L723 218.7 L723.3 218.7 L723.6 219 L723.8 219.2 L724.1 219 L724.4 218.8 L724.6 219 L724.9 219.1 L725.2 218.7 L725.5 219.3 L725.7 219 L726 219.3 L726.3 219.2 L726.5 219.2 L726.8 219 L727.1 219.4 L727.4 219.4 L727.6 219.5 L727.9 219.2 L728.2 219.4 L728.4 219.3 L728.7 219.5 L729 219.4 L729.2 219.2 L729.5 219.4 L729.8 219.3 L730.1 219.3 L730.3 219.5 L730.6 219.7 L730.9 219.3 L731.1 219.4 L731.4 219.3 L731.7 219.8 L732 219.7 L732.2 219.8 L732.5 219.6 L732.8 219.3 L733 219.4 L733.3 219.5 L733.6 219.5 L733.9 219.4 L734.1 219.6 L734.4 219.5 L734.7 219.5 L734.9 219.9 L735.2 219.6 L735.5 219.3 L735.7 219.6 L736 219.6 L736.3 219.7 L736.6 219.6 L736.8 219.4 L737.1 219.6 L737.4 219.7 L737.6 220.1 L737.9 219.7 L738.2 219.9 L738.5 219.9 L738.7 219.5 L739 219.5 L739.3 219.9 L739.5 219.5 L739.8 219.5 L740.1 219.7 L740.4 219.5 L740.6 219.9 L740.9 219.8 L741.2 219.9 L741.4 219.8 L741.7 219.5 L742 219.8 L742.2 219.8 L742.5 219.8 L742.8 219.6 L743.1 219.7 L743.3 219.5 L743.6 219.8 L743.9 219.8 L744.1 219.7 L744.4 219.6 L744.7 219.8 L745 219.6 L745.2 219.4 L745.5 219.7 L745.8 219.6 L746 219.4 L746.3 219.8 L746.6 219.8 L746.9 219.8 L747.1 219.6 L747.4 219.6 L747.7 219.7" fill="none" stroke="#e070f6" stroke-width="2.3" stroke-linejoin="round" stroke-linecap="round"/>
<path d="M431.9 -30.6 L432.1 -30.7 L432.3 -30.7 L432.4 -30.4 L432.6 -30.6 L432.8 -30.6 L433 -30.7 L433.2 -30.5 L433.3 -30.5 L433.5 -30.5 L433.7 -30.3 L433.9 8.2 L434.1 49.4 L434.2 79.4 L434.4 101.7 L434.6 118.1 L434.8 130.5 L435 139.9 L435.1 147 L435.3 152.8 L435.5 157.3 L435.7 161.2 L435.9 164.2 L436.1 167.1 L436.2 169.2 L436.4 171.3 L436.6 173 L436.8 174.8 L437 176.4 L437.1 177.7 L437.3 179.2 L437.5 180.5 L437.7 181.7 L437.9 183 L438 184.2 L438.2 185.2 L438.4 186.3 L438.6 187.2 L438.8 188.1 L438.9 189.1 L439.1 190.2 L439.3 191.2 L439.5 191.9 L439.7 192.7 L439.8 193.3 L440 194.3 L440.2 195 L440.4 195.6 L440.6 196.5 L440.7 197.1 L440.9 197.5 L441.1 198.2 L441.3 198.9 L441.5 199.5 L441.6 200.3 L441.8 200.7 L442 201.3 L442.2 201.8 L442.4 202.4 L442.6 202.8 L442.7 203.3 L442.9 203.7 L443.1 204.1 L443.3 204.6 L443.5 205.3 L443.6 205.7 L443.8 206.2 L444 206.5 L444.2 206.7 L444.4 207.1 L444.5 207.6 L444.7 207.8 L444.9 208.3 L445.1 208.8 L445.3 209.1 L445.4 209.4 L445.6 209.4 L445.8 210.1 L446 210 L446.2 210.3 L446.3 210.8 L446.5 211.1 L446.7 211.4 L446.9 211.6 L447.1 211.8 L447.2 212.1 L447.4 212.3 L447.6 212.5 L447.8 212.8 L448 213.1 L448.1 213.4 L448.3 213.5 L448.5 213.9 L448.7 214 L448.9 214.2 L449.1 214.6 L449.2 214.4 L449.4 215 L449.6 215.2 L449.8 215.2 L450 215.7 L450.1 215.7 L450.3 216 L450.5 216.1 L450.7 216.2 L450.9 216.3 L451 216.3 L451.2 216.5 L451.4 216.7 L451.6 216.9 L451.8 217.2 L451.9 217.1 L452.1 217.5 L452.3 217.6 L452.5 217.5 L452.7 217.8 L452.8 218 L453 218 L453.2 218.1 L453.4 218.6 L453.6 218.5 L453.7 218.8 L453.9 218.8 L454.1 219 L454.3 218.8 L454.5 219.1 L454.6 219.3 L454.8 219.4 L455 219.6 L455.2 219.6 L455.4 219.6 L455.6 219.8 L455.7 220.1 L455.9 220 L456.1 220 L456.3 220.2 L456.5 220.1 L456.6 220.5 L456.8 220.4 L457 220.7 L457.2 220.6 L457.4 220.7 L457.5 220.7 L457.7 221 L457.9 221 L458.1 221.2 L458.3 221.3 L458.4 221.2 L458.6 221.3 L458.8 221.6 L459 221.6 L459.2 221.6 L459.3 221.4 L459.5 221.6 L459.7 221.7 L459.9 222.1 L460.1 221.9 L460.2 221.9 L460.4 222 L460.6 222.1 L460.8 222.2 L461 222 L461.1 222.1 L461.3 222.4 L461.5 222.5 L461.7 222.2 L461.9 222.6 L462.1 222.4 L462.2 222.4 L462.4 222.8 L462.6 222.7 L462.8 222.9 L463 222.8 L463.1 222.9 L463.3 222.7 L463.5 222.9 L463.7 223.1 L463.9 223 L464 223.2 L464.2 223.3 L464.4 223 L464.6 223.4 L464.8 223.4 L464.9 223.4 L465.1 223.6 L465.3 223.7 L465.5 223.4 L465.7 223.7 L465.8 223.7 L466 223.7 L466.2 223.8 L466.4 223.9 L466.6 223.7 L466.7 223.5 L466.9 223.7 L467.1 223.8 L467.3 224.1 L467.5 223.9 L467.6 224.1 L467.8 223.9 L468 224.1 L468.2 224.1 L468.4 224.1 L468.5 224.2 L468.7 224.4 L468.9 224.1 L469.1 224.4 L469.3 224.4 L469.5 224.3 L469.6 224.4 L469.8 224.3 L470 224.2 L470.2 224.4 L470.4 224.4 L470.5 224.5 L470.7 224.4 L470.9 224.7 L471.1 224.5 L471.3 224.7 L471.4 224.7 L471.6 224.6 L471.8 224.7 L472 224.6 L472.2 224.5 L472.3 225 L472.5 224.7 L472.7 224.5 L472.9 224.7 L473.1 224.6 L473.2 224.8 L473.4 225 L473.6 225 L473.8 224.8 L474 224.8 L474.1 225 L474.3 225 L474.5 224.9 L474.7 225.2 L474.9 225 L475 224.8 L475.2 224.7 L475.4 225.1 L475.6 224.8 L475.8 225.1 L476 225.2 L476.1 225.4 L476.3 225 L476.5 225.2 L476.7 224.8 L476.9 225.1 L477 225.2 L477.2 225.4 L477.4 225 L477.6 225.3 L477.8 225.3 L477.9 225.5 L478.1 225.1 L478.3 225.2 L478.5 225.4 L478.7 225.3 L478.8 225.3 L479 225.2 L479.2 225.3 L479.4 225.1 L479.6 225.4 L479.7 225.5 L479.9 225.4 L480.1 225.7 L480.3 226.2 L480.5 177.2 L480.6 149 L480.8 132.2 L481 121.8 L481.2 115.5 L481.4 110.9 L481.5 107.6 L481.7 105.1 L481.9 103.3 L482.1 101.4 L482.3 99.7 L482.5 98.5 L482.6 97.1 L482.8 96.1 L483 95 L483.2 93.5 L483.4 92.5 L483.5 91.5 L483.7 90.6 L483.9 89.6 L484.1 88.6 L484.3 87.6 L484.4 87 L484.6 86.4 L484.8 85.3 L485 84.6 L485.2 83.9 L485.3 83.3 L485.5 82.4 L485.7 82.1 L485.9 81.5 L486.1 81.3 L486.2 80.6 L486.4 80.1 L486.6 79.5 L486.8 79 L487 78.7 L487.1 78 L487.3 77.9 L487.5 77.4 L487.7 77 L487.9 76.8 L488 76.3 L488.2 75.9 L488.4 75.7 L488.6 75.2 L488.8 75.1 L489 74.8 L489.1 74.7 L489.3 74.6 L489.5 74.2 L489.7 73.9 L489.9 73.7 L490 73.4 L490.2 73.6 L490.4 73.2 L490.6 73.1 L490.8 72.5 L490.9 72.6 L491.1 72.4 L491.3 72.4 L491.5 72 L491.7 72 L491.8 71.8 L492 71.9 L492.2 71.4 L492.4 71.4 L492.6 71.3 L492.7 71.1 L492.9 71.2 L493.1 71.1 L493.3 70.8 L493.5 70.8 L493.6 70.8 L493.8 70.7 L494 70.7 L494.2 70.4 L494.4 70.3 L494.5 70.4 L494.7 70.1 L494.9 70.5 L495.1 70.2 L495.3 69.9 L495.5 70.1 L495.6 70.2 L495.8 69.8 L496 69.9 L496.2 70 L496.4 69.8 L496.5 69.9 L496.7 69.9 L496.9 69.8 L497.1 69.8 L497.3 69.8 L497.4 69.7 L497.6 69.7 L497.8 69.6 L498 69.5 L498.2 69.4 L498.3 69.5 L498.5 69.6 L498.7 69.6 L498.9 69.4 L499.1 69.2 L499.2 69.3 L499.4 69.4 L499.6 69.2 L499.8 69.5 L500 69.2 L500.1 69.3 L500.3 69.2 L500.5 69.2 L500.7 69.3 L500.9 69.2 L501 69.3 L501.2 69.2 L501.4 69 L501.6 68.6 L501.8 69.1 L501.9 69.1 L502.1 69.3 L502.3 69 L502.5 69.3 L502.7 69.2 L502.9 69 L503 69.2 L503.2 68.9 L503.4 68.9 L503.6 69.1 L503.8 69.1 L503.9 69.2 L504.1 69.2 L504.3 69 L504.5 69 L504.7 69 L504.8 69 L505 69.2 L505.2 69.1 L505.4 69.3 L505.6 69.1 L505.7 69 L505.9 69 L506.1 69.3 L506.3 69.3 L506.5 69.1 L506.6 69.1 L506.8 69.6 L507 69.6 L507.2 69.5 L507.4 69.5 L507.5 69.8 L507.7 69.7 L507.9 69.9 L508.1 69.6 L508.3 69.9 L508.4 70 L508.6 70.1 L508.8 70 L509 70.1 L509.2 70.3 L509.4 70.2 L509.5 70.4 L509.7 70.3 L509.9 70.4 L510.1 70.3 L510.3 70.2 L510.4 70.2 L510.6 69.9 L510.8 69.8 L511 69.9 L511.2 70 L511.3 69.6 L511.5 69.9 L511.7 69.8 L511.9 69.4 L512.1 69.4 L512.2 69.3 L512.4 69.3 L512.6 69.4 L512.8 69.3 L513 69.1 L513.1 69.2 L513.3 69.2 L513.5 69.2 L513.7 69.2 L513.9 68.9 L514 68.9 L514.2 69.1 L514.4 69.1 L514.6 69 L514.8 68.9 L514.9 69.1 L515.1 68.9 L515.3 69.2 L515.5 69.1 L515.7 68.9 L515.9 68.8 L516 69 L516.2 69 L516.4 68.8 L516.6 68.9 L516.8 69 L516.9 68.8 L517.1 68.9 L517.3 68.8 L517.5 68.8 L517.7 69 L517.8 68.9 L518 68.9 L518.2 69.1 L518.4 69 L518.6 68.8 L518.7 69.1 L518.9 68.8 L519.1 68.9 L519.3 68.9 L519.5 68.8 L519.6 68.8 L519.8 68.7 L520 68.9 L520.2 68.9 L520.4 68.9 L520.5 68.6 L520.7 68.8 L520.9 69 L521.1 68.9 L521.3 69 L521.4 68.9 L521.6 68.9 L521.8 68.6 L522 69.1 L522.2 68.8 L522.4 68.8 L522.5 69 L522.7 68.9 L522.9 69 L523.1 68.9 L523.3 68.8 L523.4 69.1 L523.6 101.9 L523.8 124.3 L524 139 L524.2 149.5 L524.3 156.7 L524.5 162.3 L524.7 166.3 L524.9 169.8 L525.1 172.7 L525.2 174.9 L525.4 177 L525.6 178.7 L525.8 181.1 L526 182.5 L526.1 183.9 L526.3 185.7 L526.5 187 L526.7 188.1 L526.9 189.5 L527 191.1 L527.2 192.1 L527.4 193.3 L527.6 194.5 L527.8 195.6 L527.9 196.7 L528.1 197.9 L528.3 198.9 L528.5 199.6 L528.7 200.6 L528.8 201.3 L529 202.5 L529.2 203.6 L529.4 204.1 L529.6 204.8 L529.8 205.5 L529.9 206.3 L530.1 207.1 L530.3 207.5 L530.5 208.4 L530.7 208.8 L530.8 209.6 L531 210.3 L531.2 210.5 L531.4 211.5 L531.6 211.8 L531.7 212.2 L531.9 212.8 L532.1 213.1 L532.3 213.7 L532.5 214.1 L532.6 214.2 L532.8 214.9 L533 215.3 L533.2 215.8 L533.4 216.1 L533.5 216.3 L533.7 216.7 L533.9 217.1 L534.1 217.5 L534.3 217.6 L534.4 218.2 L534.6 218.3 L534.8 218.6 L535 218.9 L535.2 219.1 L535.3 219.4 L535.5 219.7 L535.7 219.6 L535.9 219.9 L536.1 220.1 L536.3 220.4 L536.4 220.5 L536.6 220.7 L536.8 220.8 L537 220.9 L537.2 221.4 L537.3 221.5 L537.5 221.7 L537.7 222.3 L537.9 222.2 L538.1 222.1 L538.2 222.2 L538.4 222.5 L538.6 222.4 L538.8 222.5 L539 222.8 L539.1 222.7 L539.3 222.8 L539.5 223.1 L539.7 223.3 L539.9 223.1 L540 223.4 L540.2 223.6 L540.4 223.6 L540.6 223.8 L540.8 223.6 L540.9 223.8 L541.1 223.8 L541.3 223.9 L541.5 224.2 L541.7 224.2 L541.8 224.1 L542 224.3 L542.2 224 L542.4 224.4 L542.6 224.5 L542.8 224.4 L542.9 224.5 L543.1 224.6 L543.3 224.7 L543.5 224.7 L543.7 224.7 L543.8 224.7 L544 224.9 L544.2 224.9 L544.4 224.9 L544.6 224.9 L544.7 225.4 L544.9 225.2 L545.1 225.2 L545.3 225.2 L545.5 225.2 L545.6 225.1 L545.8 225.2 L546 225.3 L546.2 225.3 L546.4 225.1 L546.5 225.4 L546.7 225.3 L546.9 225.2 L547.1 225.4 L547.3 225.7 L547.4 225.4 L547.6 225.6 L547.8 225.5 L548 225.4 L548.2 225.5 L548.3 225.6 L548.5 225.5 L548.7 225.6 L548.9 225.6 L549.1 225.6 L549.3 225.6 L549.4 225.7 L549.6 225.8 L549.8 225.7 L550 225.8 L550.2 225.9 L550.3 225.6 L550.5 225.8 L550.7 225.8 L550.9 225.8 L551.1 225.8 L551.2 225.8 L551.4 225.8 L551.6 225.9 L551.8 225.7 L552 225.9 L552.1 225.7 L552.3 226.1 L552.5 226 L552.7 225.8 L552.9 225.9 L553 226 L553.2 225.9 L553.4 226 L553.6 225.9 L553.8 226.2 L553.9 226 L554.1 226 L554.3 225.9 L554.5 225.8 L554.7 226.1 L554.8 225.8 L555 226 L555.2 226.2 L555.4 226.3 L555.6 225.8 L555.8 226 L555.9 226.1 L556.1 226.1 L556.3 226.1 L556.5 225.8 L556.7 226 L556.8 225.8 L557 226 L557.2 226.3 L557.4 225.9 L557.6 226.1 L557.7 226 L557.9 225.8 L558.1 226.1 L558.3 225.9 L558.5 226 L558.6 226.1 L558.8 226 L559 226.1 L559.2 225.9 L559.4 225.9 L559.5 226 L559.7 226 L559.9 226 L560.1 226.1 L560.3 225.9 L560.4 226.1 L560.6 226 L560.8 226.2 L561 226 L561.2 226 L561.3 226.2 L561.5 226.1 L561.7 226.1 L561.9 226 L562.1 226.2 L562.2 226 L562.4 225.9 L562.6 226 L562.8 226.3 L563 226.1 L563.2 225.9 L563.3 226.1 L563.5 225.9 L563.7 226 L563.9 226 L564.1 226.1 L564.2 226.1 L564.4 226.1 L564.6 226.1 L564.8 226 L565 226 L565.1 226.1 L565.3 226.1 L565.5 226 L565.7 226.3 L565.9 226.2 L566 226.2 L566.2 226.1 L566.4 226.1 L566.6 226.1 L566.8 226.2 L566.9 226 L567.1 226 L567.3 226.3 L567.5 226.1 L567.7 226.2 L567.8 225.9 L568 226.1 L568.2 226.1 L568.4 226.1 L568.6 210.1 L568.7 186.9 L568.9 171.3 L569.1 161 L569.3 153.4 L569.5 147.7 L569.7 143.4 L569.8 139.3 L570 136.1 L570.2 133.2 L570.4 130.7 L570.6 128 L570.7 125.6 L570.9 123.5 L571.1 121 L571.3 119.2 L571.5 117.3 L571.6 115.4 L571.8 113.5 L572 111.7 L572.2 110.1 L572.4 108.4 L572.5 106.9 L572.7 105.7 L572.9 104.2 L573.1 102.9 L573.3 101.5 L573.4 100 L573.6 98.9 L573.8 98 L574 96.8 L574.2 95.5 L574.3 94.7 L574.5 93.6 L574.7 92.6 L574.9 92 L575.1 90.7 L575.2 89.9 L575.4 89.1 L575.6 88.5 L575.8 87.7 L576 87 L576.2 86.2 L576.3 85.5 L576.5 84.9 L576.7 84 L576.9 83.5 L577.1 83.2 L577.2 82.6 L577.4 81.8 L577.6 81.5 L577.8 80.8 L578 80.3 L578.1 80.2 L578.3 79.7 L578.5 79.2 L578.7 78.9 L578.9 78.6 L579 78.1 L579.2 77.6 L579.4 77.4 L579.6 77 L579.8 76.8 L579.9 76.6 L580.1 75.9 L580.3 76.1 L580.5 75.6 L580.7 75.2 L580.8 75.2 L581 74.7 L581.2 74.4 L581.4 74.4 L581.6 74 L581.7 74 L581.9 73.6 L582.1 73.4 L582.3 73.2 L582.5 72.9 L582.7 72.8 L582.8 72.5 L583 72.4 L583.2 72.4 L583.4 72.1 L583.6 71.8 L583.7 71.9 L583.9 71.3 L584.1 71.3 L584.3 71.1 L584.5 71 L584.6 70.7 L584.8 70.4 L585 70.3 L585.2 70 L585.4 70.1 L585.5 69.4 L585.7 69.6 L585.9 69.5 L586.1 69.2 L586.3 69 L586.4 68.7 L586.6 68.8 L586.8 68.6 L587 68.7 L587.2 68.3 L587.3 68.5 L587.5 68.3 L587.7 68.7 L587.9 68.5 L588.1 68.8 L588.2 68.7 L588.4 68.7 L588.6 69.1 L588.8 69.1 L589 69.2 L589.2 69.4 L589.3 69.4 L589.5 69.6 L589.7 69.8 L589.9 69.8 L590.1 69.9 L590.2 70.4 L590.4 70.5 L590.6 70.7 L590.8 71 L591 71.4 L591.1 71.6 L591.3 71.9 L591.5 72.2 L591.7 72.7 L591.9 72.7 L592 73 L592.2 73.5 L592.4 73.6 L592.6 73.6 L592.8 73.9 L592.9 73.7 L593.1 73.6 L593.3 73.6 L593.5 73.3 L593.7 73.2 L593.8 72.7 L594 72.5 L594.2 71.6 L594.4 71.3 L594.6 71 L594.7 70.7 L594.9 70.3 L595.1 69.9 L595.3 69.6 L595.5 69.3 L595.6 69.3 L595.8 68.9 L596 68.9 L596.2 68.8 L596.4 68.7 L596.6 68.4 L596.7 68.2 L596.9 68.4 L597.1 68 L597.3 68 L597.5 68.1 L597.6 68.1 L597.8 68 L598 67.9 L598.2 68 L598.4 68.1 L598.5 67.9 L598.7 68.2 L598.9 67.9 L599.1 67.7 L599.3 67.8 L599.4 67.7 L599.6 67.8 L599.8 67.7 L600 67.8 L600.2 67.9 L600.3 67.8 L600.5 67.8 L600.7 67.6 L600.9 67.5 L601.1 67.6 L601.2 67.8 L601.4 67.8 L601.6 67.7 L601.8 67.5 L602 67.6 L602.1 67.6 L602.3 67.7 L602.5 67.5 L602.7 67.5 L602.9 67.6 L603.1 67.5 L603.2 67.3 L603.4 67.6 L603.6 67.4 L603.8 67.5 L604 67.7 L604.1 67.6 L604.3 67.9 L604.5 68.1 L604.7 68.2 L604.9 68.5 L605 68.5 L605.2 68.8 L605.4 69 L605.6 69.2 L605.8 69.9 L605.9 69.5 L606.1 69.9 L606.3 69.6 L606.5 69.7 L606.7 69.4 L606.8 69 L607 69.2 L607.2 68.7 L607.4 68.4 L607.6 68.4 L607.7 67.9 L607.9 67.7 L608.1 67.6 L608.3 67.5 L608.5 66.9 L608.6 67.3 L608.8 67.4 L609 67.3 L609.2 67.2 L609.4 67.1 L609.6 67.1 L609.7 67.2 L609.9 67 L610.1 67.1 L610.3 67.2 L610.5 67.1 L610.6 67 L610.8 66.8 L611 66.9 L611.2 67 L611.4 66.9 L611.5 66.9 L611.7 66.6 L611.9 67 L612.1 66.8 L612.3 66.8 L612.4 67 L612.6 66.8 L612.8 66.8 L613 66.9 L613.2 66.7 L613.3 66.6 L613.5 66.6 L613.7 66.8 L613.9 66.7 L614.1 83.3 L614.2 109.3 L614.4 127.1 L614.6 139.8 L614.8 149.1 L615 155.9 L615.1 161.2 L615.3 165.3 L615.5 168.6 L615.7 171.7 L615.9 174.1 L616.1 176.3 L616.2 178.4 L616.4 180.2 L616.6 182 L616.8 183.4 L617 184.8 L617.1 186.3 L617.3 187.8 L617.5 189.4 L617.7 190.4 L617.9 191.9 L618 193.1 L618.2 194 L618.4 195.5 L618.6 196.3 L618.8 197.4 L618.9 198.5 L619.1 199.5 L619.3 200.3 L619.5 201.3 L619.7 202 L619.8 202.8 L620 204 L620.2 204.6 L620.4 205.4 L620.6 206.2 L620.7 206.9 L620.9 207.4 L621.1 208.1 L621.3 208.9 L621.5 209.4 L621.6 209.9 L621.8 210.6 L622 211.2 L622.2 211.4 L622.4 211.9 L622.6 212.8 L622.7 213.2 L622.9 213.5 L623.1 214.1 L623.3 214.4 L623.5 214.8 L623.6 215.1 L623.8 215.9 L624 216.2 L624.2 216.4 L624.4 216.5 L624.5 217 L624.7 217.5 L624.9 217.5 L625.1 217.8 L625.3 218.2 L625.4 218.5 L625.6 218.7 L625.8 218.8 L626 219.2 L626.2 219.4 L626.3 219.7 L626.5 220 L626.7 220.3 L626.9 220.3 L627.1 220.6 L627.2 220.8 L627.4 220.8 L627.6 221.1 L627.8 221.2 L628 221.7 L628.1 221.6 L628.3 221.9 L628.5 222 L628.7 222.2 L628.9 222.1 L629 222.3 L629.2 222.6 L629.4 222.8 L629.6 222.7 L629.8 222.9 L630 222.8 L630.1 223.3 L630.3 223.4 L630.5 223.3 L630.7 223.4 L630.9 223.5 L631 223.5 L631.2 223.4 L631.4 223.8 L631.6 223.9 L631.8 224.1 L631.9 224 L632.1 224 L632.3 224.2 L632.5 224.1 L632.7 224.3 L632.8 224.1 L633 224.4 L633.2 224.6 L633.4 224.6 L633.6 224.8 L633.7 224.8 L633.9 224.6 L634.1 224.6 L634.3 224.5 L634.5 224.8 L634.6 224.9 L634.8 225 L635 224.8 L635.2 224.9 L635.4 225.1 L635.5 225 L635.7 225 L635.9 225.4 L636.1 225.1 L636.3 225.2 L636.5 225.3 L636.6 225.3 L636.8 225.1 L637 225.1 L637.2 225.1 L637.4 225.5 L637.5 225.5 L637.7 225.3 L637.9 225.6 L638.1 225.6 L638.3 225.7 L638.4 225.3 L638.6 225.4 L638.8 225.5 L639 225.5 L639.2 225.6 L639.3 225.7 L639.5 225.5 L639.7 225.7 L639.9 225.5 L640.1 225.7 L640.2 225.8 L640.4 225.5 L640.6 225.7 L640.8 225.7 L641 225.8 L641.1 226 L641.3 225.7 L641.5 226 L641.7 225.7 L641.9 226 L642 226.1 L642.2 225.8 L642.4 225.8 L642.6 225.8 L642.8 226 L643 225.7 L643.1 226.1 L643.3 225.9 L643.5 226 L643.7 225.9 L643.9 225.8 L644 226 L644.2 225.8 L644.4 225.8 L644.6 226.1 L644.8 226.1 L644.9 226 L645.1 226 L645.3 225.9 L645.5 226.2 L645.7 225.9 L645.8 225.9 L646 226 L646.2 226.2 L646.4 226 L646.6 226.1 L646.7 225.9 L646.9 226 L647.1 225.9 L647.3 226.1 L647.5 225.8 L647.6 226.3 L647.8 226.1 L648 225.9 L648.2 226.2 L648.4 225.9 L648.5 226.2 L648.7 226 L648.9 226.1 L649.1 226.1 L649.3 226 L649.5 226 L649.6 226.1 L649.8 225.8 L650 226 L650.2 226.2 L650.4 225.9 L650.5 225.9 L650.7 225.9 L650.9 225.8 L651.1 226.2 L651.3 225.9 L651.4 225.9 L651.6 226.1 L651.8 226 L652 226.4 L652.2 226.1 L652.3 225.8 L652.5 226.3 L652.7 226.1 L652.9 226 L653.1 226 L653.2 225.9 L653.4 226.3 L653.6 226.1 L653.8 226 L654 226.2 L654.1 226.1 L654.3 225.8 L654.5 225.9 L654.7 226 L654.9 226.4 L655 226.1 L655.2 226 L655.4 226.1 L655.6 226.1 L655.8 225.7 L656 226.1 L656.1 226.2 L656.3 226.1 L656.5 226.1 L656.7 226.1 L656.9 226.1 L657 226 L657.2 226.1 L657.4 226.2 L657.6 226.1 L657.8 226 L657.9 226.1 L658.1 225.9 L658.3 226 L658.5 226.2 L658.7 226 L658.8 225.8 L659 225.9 L659.2 226.1 L659.4 226 L659.6 226.2 L659.7 226.3 L659.9 207.1 L660.1 193 L660.3 182.1 L660.5 173.7 L660.6 166.7 L660.8 161 L661 155.9 L661.2 151.4 L661.4 147.5 L661.5 143.7 L661.7 140.7 L661.9 137.4 L662.1 134.1 L662.3 131.2 L662.4 128.7 L662.6 126.2 L662.8 123.9 L663 121.4 L663.2 119.1 L663.4 117.3 L663.5 115 L663.7 113.1 L663.9 111.2 L664.1 109.6 L664.3 107.7 L664.4 106.4 L664.6 104.4 L664.8 103.1 L665 101.8 L665.2 100.1 L665.3 98.9 L665.5 97.8 L665.7 96.3 L665.9 95.5 L666.1 94.3 L666.2 93.1 L666.4 92.5 L666.6 91.1 L666.8 90.3 L667 89.4 L667.1 88.7 L667.3 87.7 L667.5 87.1 L667.7 86.4 L667.9 85.6 L668 85 L668.2 84 L668.4 83.7 L668.6 83 L668.8 82.4 L668.9 81.8 L669.1 81.1 L669.3 80.6 L669.5 80.3 L669.7 79.8 L669.9 79.3 L670 78.7 L670.2 78.3 L670.4 78.1 L670.6 77.9 L670.8 77 L670.9 76.8 L671.1 76.5 L671.3 76.2 L671.5 76 L671.7 75.7 L671.8 75.4 L672 75.1 L672.2 74.8 L672.4 74.7 L672.6 74.3 L672.7 73.9 L672.9 73.8 L673.1 73.5 L673.3 73.6 L673.5 73.2 L673.6 72.9 L673.8 72.9 L674 72.8 L674.2 72.3 L674.4 72.3 L674.5 72 L674.7 71.9 L674.9 71.6 L675.1 71.6 L675.3 71.6 L675.4 71.3 L675.6 71.2 L675.8 70.9 L676 70.9 L676.2 70.8 L676.4 70.5 L676.5 70.3 L676.7 70.3 L676.9 70.1 L677.1 70.1 L677.3 70 L677.4 69.8 L677.6 69.8 L677.8 69.8 L678 69.7 L678.2 69.3 L678.3 69.5 L678.5 69.4 L678.7 69.4 L678.9 69.2 L679.1 69.1 L679.2 69.2 L679.4 69.3 L679.6 68.9 L679.8 69.1 L680 68.8 L680.1 68.7 L680.3 68.5 L680.5 68.4 L680.7 68.5 L680.9 68.5 L681 68.5 L681.2 68.4 L681.4 68.3 L681.6 68.5 L681.8 68.1 L681.9 68.1 L682.1 67.9 L682.3 68 L682.5 67.9 L682.7 68 L682.9 67.9 L683 68 L683.2 67.7 L683.4 67.5 L683.6 67.6 L683.8 67.5 L683.9 67.6 L684.1 67.3 L684.3 67.5 L684.5 67.3 L684.7 67.3 L684.8 67.4 L685 67.1 L685.2 67.2 L685.4 67.1 L685.6 67 L685.7 67 L685.9 67 L686.1 66.9 L686.3 67 L686.5 66.9 L686.6 66.9 L686.8 67 L687 66.8 L687.2 66.8 L687.4 66.7 L687.5 66.5 L687.7 66.8 L687.9 66.5 L688.1 66.8 L688.3 66.6 L688.4 66.5 L688.6 66.7 L688.8 66.6 L689 66.3 L689.2 66.2 L689.4 66.2 L689.5 66.3 L689.7 65.8 L689.9 66.1 L690.1 66.2 L690.3 65.8 L690.4 65.9 L690.6 66 L690.8 65.7 L691 65.8 L691.2 65.7 L691.3 65.7 L691.5 65.9 L691.7 65.6 L691.9 65.6 L692.1 65.8 L692.2 65.7 L692.4 65.4 L692.6 65.6 L692.8 65.5 L693 65.3 L693.1 65.4 L693.3 65.6 L693.5 65.2 L693.7 65.2 L693.9 65.1 L694 65 L694.2 65.1 L694.4 65 L694.6 64.9 L694.8 65.1 L694.9 64.8 L695.1 64.8 L695.3 64.8 L695.5 64.7 L695.7 64.8 L695.8 64.9 L696 64.7 L696.2 64.7 L696.4 64.7 L696.6 64.7 L696.8 64.5 L696.9 64.5 L697.1 64.7 L697.3 64.5 L697.5 64.4 L697.7 64.6 L697.8 64.5 L698 64.4 L698.2 64.4 L698.4 64.3 L698.6 64.2 L698.7 64 L698.9 64.1 L699.1 64 L699.3 64 L699.5 63.9 L699.6 64.1 L699.8 63.9 L700 63.9 L700.2 64 L700.4 64 L700.5 63.9 L700.7 63.9 L700.9 64 L701.1 63.7 L701.3 63.7 L701.4 63.7 L701.6 63.6 L701.8 63.5 L702 63.7 L702.2 63.6 L702.3 63.7 L702.5 63.8 L702.7 63.7 L702.9 63.2 L703.1 63.6 L703.3 63.3 L703.4 60.1 L703.6 87.1 L703.8 106.5 L704 121.2 L704.2 132.4 L704.3 140.7 L704.5 147.5 L704.7 152.8 L704.9 156.9 L705.1 160.5 L705.2 163.5 L705.4 166 L705.6 167.7 L705.8 170.1 L706 171.8 L706.1 173.5 L706.3 174.9 L706.5 176.4 L706.7 177.8 L706.9 179.1 L707 180.4 L707.2 181.5 L707.4 182.4 L707.6 183.3 L707.8 184.4 L707.9 185.3 L708.1 186.5 L708.3 187.5 L708.5 188.5 L708.7 189.2 L708.8 190.3 L709 190.8 L709.2 191.4 L709.4 192.3 L709.6 192.9 L709.8 193.8 L709.9 194.6 L710.1 195.1 L710.3 195.8 L710.5 196.2 L710.7 196.7 L710.8 197.6 L711 198.1 L711.2 198.6 L711.4 199.1 L711.6 199.8 L711.7 200.1 L711.9 200.5 L712.1 201 L712.3 201.6 L712.5 201.9 L712.6 202.6 L712.8 202.6 L713 203.3 L713.2 203.6 L713.4 204 L713.5 204.4 L713.7 204.8 L713.9 205.2 L714.1 205.1 L714.3 205.7 L714.4 206 L714.6 206.1 L714.8 206.7 L715 206.9 L715.2 207.2 L715.3 207.4 L715.5 207.7 L715.7 208 L715.9 208.4 L716.1 208.6 L716.3 208.7 L716.4 209.4 L716.6 209.4 L716.8 209.6 L717 209.9 L717.2 210.3 L717.3 210.2 L717.5 210.6 L717.7 210.7 L717.9 211 L718.1 211.3 L718.2 211.4 L718.4 211.7 L718.6 211.8 L718.8 211.9 L719 212.1 L719.1 212.2 L719.3 212.4 L719.5 212.3 L719.7 212.7 L719.9 213.1 L720 213.2 L720.2 213.4 L720.4 213.5 L720.6 213.7 L720.8 213.9 L720.9 213.7 L721.1 214 L721.3 214.2 L721.5 214.4 L721.7 214.5 L721.8 214.4 L722 214.7 L722.2 214.8 L722.4 215.4 L722.6 215.1 L722.7 215.2 L722.9 215.2 L723.1 215.6 L723.3 215.9 L723.5 215.7 L723.7 216 L723.8 216.3 L724 216.2 L724.2 216.1 L724.4 216.2 L724.6 216.4 L724.7 216.8 L724.9 216.4 L725.1 217 L725.3 217 L725.5 217.2 L725.6 217 L725.8 217.2 L726 217.3 L726.2 217.5 L726.4 217.6 L726.5 217.7 L726.7 218 L726.9 217.8 L727.1 217.9 L727.3 218.1 L727.4 218.2 L727.6 218.2 L727.8 218.2 L728 218.4 L728.2 218.6 L728.3 218.7 L728.5 218.9 L728.7 218.9 L728.9 218.9 L729.1 219.1 L729.2 219.1 L729.4 219.1 L729.6 219.3 L729.8 219.4 L730 219.4 L730.2 219.6 L730.3 219.7 L730.5 219.7 L730.7 220.1 L730.9 219.8 L731.1 220.3 L731.2 220.1 L731.4 220.3 L731.6 220.2 L731.8 220.5 L732 220.7 L732.1 220.6 L732.3 220.8 L732.5 220.9 L732.7 221 L732.9 221 L733 221.1 L733.2 221.3 L733.4 221.7 L733.6 221.6 L733.8 221.7 L733.9 221.6 L734.1 221.9 L734.3 222.1 L734.5 222 L734.7 222.3 L734.8 222.4 L735 222.5 L735.2 222.9 L735.4 222.7 L735.6 222.9 L735.7 223.1 L735.9 223.3 L736.1 223.3 L736.3 223.3 L736.5 223.6 L736.7 223.8 L736.8 223.7 L737 224.1 L737.2 224.3 L737.4 224.2 L737.6 224.3 L737.7 224.4 L737.9 224.5 L738.1 224.5 L738.3 224.7 L738.5 224.8 L738.6 224.9 L738.8 224.8 L739 224.8 L739.2 224.9 L739.4 225 L739.5 225.6 L739.7 225.4 L739.9 225.3 L740.1 225.3 L740.3 225.6 L740.4 225.3 L740.6 225.5 L740.8 225.6 L741 225.6 L741.2 225.7 L741.3 225.8 L741.5 225.6 L741.7 225.8 L741.9 225.9 L742.1 225.9 L742.2 225.8 L742.4 226 L742.6 225.7 L742.8 226 L743 225.7 L743.2 225.8 L743.3 226 L743.5 225.9 L743.7 225.8 L743.9 226 L744.1 226.1 L744.2 226 L744.4 225.7 L744.6 226.2 L744.8 225.9 L745 226 L745.1 226 L745.3 226.1 L745.5 226.1 L745.7 225.9 L745.9 226 L746 226.2 L746.2 225.8 L746.4 226.2 L746.6 226 L746.8 226 L746.9 225.9 L747.1 226 L747.3 225.9 L747.5 226.1 L747.7 225.9 L747.8 226" fill="none" stroke="#ff0000" stroke-width="2.5" stroke-linejoin="round" stroke-linecap="round"/>
</g>
<line x1="430.8" y1="226.1" x2="748.8" y2="226.1" stroke="#000" stroke-width="2.2"/>
<line x1="452.8" y1="15.5" x2="485.6" y2="15.5" stroke="#000" stroke-width="2.4"/>
<line x1="452.8" y1="33.5" x2="485.6" y2="33.5" stroke="#0000ff" stroke-width="2.5"/>
<line x1="593.9" y1="17.5" x2="627.2" y2="17.5" stroke="#e070f6" stroke-width="2.5"/>
<line x1="593.9" y1="35.5" x2="627.2" y2="35.5" stroke="#ff0000" stroke-width="2.5"/>
<text x="489.2" y="20.8" font-size="14.7" fill="#000">Ni<tspan font-size="0.7em">2</tspan>P</text>
<text x="489.2" y="38.5" font-size="14.7" fill="#000">Ni<tspan font-size="0.7em">2</tspan>P@PCOS</text>
<text x="630.8" y="22.3" font-size="14.7" fill="#000">Ni<tspan font-size="0.7em">2</tspan>P/NiS</text>
<text x="630.8" y="40.3" font-size="14.7" fill="#000">Ni<tspan font-size="0.7em">2</tspan>P/NiS@PCOS</text>
<text x="440.6" y="64.6" font-size="14.6" fill="#000">light on</text>
<text x="525.2" y="81" font-size="14.6" fill="#000">light off</text>
<line x1="479.9" y1="66.8" x2="479.9" y2="82" stroke="#333" stroke-width="1.1"/>
<path d="M477.9 81.0 L482.0 81.0 L479.9 87.3 Z" fill="#111"/>
<line x1="524.8" y1="48.8" x2="524.8" y2="64" stroke="#333" stroke-width="1.1"/>
<path d="M522.8 63.0 L526.9 63.0 L524.8 69.2 Z" fill="#111"/>
<rect x="47.4" y="284" width="317.2" height="226.5" fill="none" stroke="#000" stroke-width="2.2"/>
<clipPath id="cc"><rect x="48.4" y="285" width="315" height="227"/></clipPath>
<g clip-path="url(#cc)">
<path d="M47.5 510 L200 509.8 L235 509.2 L249.9 506.1 L250.7 506 L251.4 506 L252.1 506 L252.7 505.9 L253.4 505.9 L254.1 505.8 L254.8 505.6 L255.4 505.4 L256.1 505.1 L256.8 504.8 L257.4 504.5 L258 504.1 L258.6 503.3 L259.2 502.9 L259.7 502.5 L260.3 502.1 L260.8 501.6 L261.3 501.1 L261.9 500.6 L262.4 500.1 L262.9 499.7 L263.4 499.1 L263.9 498.6 L264.3 497.5 L264.8 497 L265.3 496.4 L265.7 495.9 L266.1 495.3 L266.6 494.8 L267 494.2 L267.4 493.6 L267.8 493 L268.2 492.4 L268.6 491.8 L268.9 491.2 L269.3 490.6 L269.7 490 L270 489.4 L270.3 488.8 L270.7 488.2 L271 487.5 L271.3 486.9 L271.6 486.3 L271.9 485.6 L272.2 485 L272.5 484.4 L272.8 483.7 L273.1 483.1 L273.4 482.4 L273.7 481.8 L273.9 481.1 L274.2 480.5 L274.5 479.8 L274.7 479.2 L275 478.5 L275.2 477.8 L275.4 477.2 L275.7 476.5 L275.9 475.8 L276.1 475.2 L276.4 474.5 L276.6 473.9 L276.8 473.2 L277 472.5 L277.2 471.8 L277.4 471.2 L277.6 470.5 L277.8 469.8 L278 469.2 L278.2 468.5 L278.4 467.8 L278.6 467.1 L278.8 466.5 L279 465.8 L279.2 465.1 L279.4 464.4 L279.6 463.8 L279.7 463.1 L279.9 462.4 L280.1 461.7 L280.3 461 L280.5 460.4 L280.6 459.7 L280.8 459 L281 458.3 L281.2 457.6 L281.3 457 L281.5 456.3 L281.7 455.6 L281.9 454.9 L282 454.3 L282.2 453.6 L282.4 452.9 L282.6 452.2 L282.7 451.5 L282.9 450.8 L283.1 450.2 L283.2 449.5 L283.4 448.8 L283.6 448.1 L283.7 447.4 L283.9 446.8 L284 446.1 L284.2 445.4 L284.3 444.7 L284.5 444 L284.6 443.3 L284.8 442.6 L284.9 442 L285 441.3 L285.2 440.6 L285.3 439.9 L285.5 439.2 L285.6 438.5 L285.7 437.8 L285.9 437.1 L286 436.4 L286.2 435.8 L286.3 435.1 L286.4 434.4 L286.6 433.7 L286.7 433 L286.9 432.3 L287 431.6 L287.2 430.9 L287.3 430.3 L287.5 429.6 L287.6 428.9 L287.8 428.2 L287.9 427.5 L288.1 426.8 L288.2 426.1 L288.4 425.4 L288.5 424.8 L288.7 424.1 L288.8 423.4 L289 422.7 L289.1 422 L289.2 421.3 L289.4 420.6 L289.5 419.9 L289.6 419.3 L289.8 418.6 L289.9 417.9 L290.1 417.2 L290.2 416.5 L290.3 415.8 L290.5 415.1 L290.6 414.4 L290.7 413.7 L290.9 413.1 L291 412.4 L291.1 411.7 L291.3 411 L291.4 410.3 L291.5 409.6 L291.7 408.9 L291.8 408.2 L291.9 407.5 L292.1 406.8 L292.2 406.2 L292.3 405.5 L292.5 404.8 L292.6 404.1 L292.7 403.4 L292.8 402.7 L293 402 L293.1 401.3 L293.2 400.6 L293.4 399.9 L293.5 399.3 L293.6 398.6 L293.8 397.9 L293.9 397.2 L294 396.5 L294.2 395.8 L294.3 395.1 L294.4 394.4 L294.6 393.7 L294.7 393 L294.8 392.4 L295 391.7 L295.1 391 L295.2 390.3 L295.4 389.6 L295.5 388.9 L295.6 388.2 L295.8 387.5 L295.9 386.8 L296 386.1 L296.1 385.4 L296.3 384.8 L296.4 384.1 L296.5 383.4 L296.7 382.7 L296.8 382 L296.9 381.3 L297.1 380.6 L297.2 379.9 L297.3 379.2 L297.4 378.5 L297.6 377.8 L297.7 377.2 L297.8 376.5 L298 375.8 L298.1 375.1 L298.2 374.4 L298.3 373.7 L298.5 373 L298.6 372.3 L298.7 371.6 L298.9 370.9 L299 370.2 L299.1 369.5 L299.2 368.9 L299.4 368.2 L299.5 367.5 L299.6 366.8 L299.7 366.1 L299.9 365.4 L300 364.7 L300.1 364 L300.2 363.3 L300.4 362.6 L300.5 361.9 L300.6 361.2 L300.7 360.6 L300.9 359.9 L301 359.2 L301.1 358.5 L301.2 357.8 L301.4 357.1 L301.5 356.4 L301.6 355.7 L301.7 355 L301.9 354.3 L302 353.6 L302.1 352.9 L302.2 352.3 L302.4 351.6 L302.5 350.9 L302.6 350.2 L302.7 349.5 L302.9 348.8 L303 348.1 L303.1 347.4 L303.2 346.7 L303.4 346 L303.5 345.3 L303.6 344.6 L303.7 343.9 L303.9 343.3 L304 342.6 L304.1 341.9 L304.2 341.2 L304.4 340.5 L304.5 339.8 L304.6 339.1 L304.7 338.4 L304.8 337.7 L305 337 L305.1 336.3 L305.2 335.6 L305.3 334.9 L305.5 334.3 L305.6 333.6 L305.7 332.9 L305.8 332.2 L306 331.5 L306.1 330.8 L306.2 330.1 L306.3 329.4 L306.5 328.7 L306.6 328 L306.7 327.3 L306.8 326.6 L307 325.9 L307.1 325.3 L307.2 324.6 L307.3 323.9 L307.5 323.2 L307.6 322.5 L307.7 321.8 L307.8 321.1 L308 320.4 L308.1 319.7 L308.2 319 L308.3 318.3 L308.4 317.6 L308.6 316.9 L308.7 316.3 L308.8 315.6 L308.9 314.9 L309.1 314.2 L309.2 313.5 L309.3 312.8 L309.4 312.1 L309.6 311.4 L309.7 310.7 L309.8 310 L309.9 309.3 L310.1 308.6 L310.2 307.9 L310.3 307.3 L310.4 306.6 L310.6 305.9 L310.7 305.2 L310.8 304.5 L310.9 303.8 L311.1 303.1 L311.2 302.4 L311.3 301.7 L311.4 301 L311.6 300.3 L311.7 299.6 L311.8 298.9 L311.9 298.3 L312.1 297.6 L312.2 296.9 L312.3 296.2 L312.4 295.5 L312.6 294.8 L312.7 294.1 L312.8 293.4 L312.9 292.7 L313.1 292 L313.2 291.3 L313.3 290.6 L313.4 289.9 L313.6 289.3 L313.7 288.6 L313.8 287.9 L313.9 287.2 L314.1 286.5 L314.2 285.8 L314.3 285.1 L314.4 284.4 L314.5 283.7 L314.6 283 L314.7 282.3 L314.8 281.6 L315 281 L315.1 280.3 L315.2 279.6 L315.3 278.9 L315.4 278.2 L315.5 277.5 L315.6 276.8 L315.7 276.1" fill="none" stroke="#000" stroke-width="4.4" stroke-linejoin="round" stroke-linecap="round"/>
<path d="M47.5 508.5 L48.2 508.5 L48.9 508.5 L49.6 508.5 L50.3 508.5 L51 508.5 L51.7 508.5 L52.4 508.5 L53.1 508.5 L53.9 508.5 L54.6 508.5 L55.3 508.5 L56 508.5 L56.7 508.5 L57.4 508.5 L58.1 508.5 L58.8 508.5 L59.5 508.5 L60.2 508.5 L60.9 508.5 L61.6 508.5 L62.3 508.5 L63 508.5 L63.7 508.5 L64.4 508.5 L65.1 508.5 L65.8 508.5 L66.5 508.5 L67.2 508.5 L67.9 508.5 L68.6 508.5 L69.3 508.5 L70 508.5 L70.7 508.5 L71.4 508.5 L72.1 508.5 L72.8 508.5 L73.5 508.5 L74.2 508.5 L74.9 508.5 L75.6 508.5 L76.3 508.5 L77 508.5 L77.7 508.5 L78.4 508.5 L79.1 508.5 L79.8 508.5 L80.5 508.5 L81.2 508.5 L81.9 508.5 L82.6 508.4 L83.3 508.4 L84 508.4 L84.7 508.4 L85.4 508.4 L86.1 508.4 L86.8 508.4 L87.5 508.4 L88.2 508.4 L88.9 508.4 L89.6 508.4 L90.3 508.4 L91 508.4 L91.7 508.4 L92.4 508.4 L93.1 508.4 L93.8 508.4 L94.5 508.4 L95.2 508.4 L95.9 508.4 L96.6 508.4 L97.3 508.4 L98 508.4 L98.7 508.4 L99.4 508.4 L100.1 508.4 L100.8 508.4 L101.5 508.4 L102.1 508.4 L102.8 508.4 L103.5 508.3 L104.2 508.3 L104.9 508.3 L105.6 508.3 L106.3 508.3 L107 508.3 L107.7 508.3 L108.4 508.3 L109.1 508.3 L109.8 508.3 L110.5 508.3 L111.2 508.3 L111.9 508.2 L112.6 508.2 L113.3 508.1 L114 508 L114.7 508 L115.4 507.9 L116.1 507.8 L116.8 507.7 L117.5 507.5 L118.2 507.4 L118.8 507.3 L119.5 507.2 L120.2 507 L120.9 506.9 L121.6 506.7 L122.3 506.6 L123 506.4 L123.7 506.3 L124.3 506.1 L125 506 L125.7 505.8 L126.4 505.6 L127 505.4 L127.7 505.2 L128.4 505 L129 504.7 L129.7 504.5 L130.4 504.3 L131 504 L131.7 503.8 L132.4 503.6 L133 503.5 L133.7 503.3 L134.4 503.2 L135.1 503.1 L135.8 502.9 L136.5 502.8 L137.2 502.7 L137.9 502.6 L138.6 502.5 L139.3 502.4 L140 502.4 L140.7 502.4 L141.4 502.4 L142 502.3 L142.7 502.3 L143.4 502.3 L144.1 502.3 L144.8 502.3 L145.5 502.2 L146.3 502.2 L147 502.2 L147.7 502.2 L148.4 502.2 L149.1 502.2 L149.8 502.2 L150.5 502.2 L151.2 502.2 L151.9 502.2 L152.6 502.2 L153.3 502.2 L154 502.2 L154.7 502.2 L155.4 502.3 L156.1 502.3 L156.8 502.3 L157.5 502.3 L158.2 502.3 L158.9 502.4 L159.6 502.4 L160.3 502.4 L160.9 502.5 L161.6 502.5 L162.3 502.6 L163 502.7 L163.7 502.8 L164.4 502.9 L165.1 503.1 L165.8 503.2 L166.5 503.3 L167.2 503.4 L167.9 503.6 L168.5 503.8 L169.2 503.9 L169.9 504.1 L170.6 504.3 L171.3 504.4 L172 504.5 L172.7 504.5 L173.4 504.6 L174.1 504.6 L174.8 504.7 L175.5 504.7 L176.2 504.7 L176.9 504.7 L177.5 504.7 L178.2 504.6 L178.9 504.4 L179.6 504.2 L180.3 504 L181 503.8 L181.6 503.5 L182.3 503.3 L182.9 503 L183.5 502.7 L184.1 502.4 L184.7 502 L185.3 501.6 L185.9 501.2 L186.5 500.9 L187.1 500.5 L187.8 500.2 L188.4 499.8 L189 499.5 L189.7 499.2 L190.3 498.8 L190.9 498.5 L191.6 498.2 L192.2 497.8 L192.8 497.4 L193.4 497.1 L193.9 496.7 L194.5 496.3 L195 495.9 L195.5 495.4 L196 495 L196.4 494.5 L196.9 493.9 L197.3 493.4 L197.7 492.8 L198.1 492.2 L198.5 491.6 L198.9 491 L199.3 490.4 L199.7 489.8 L200 489.2 L200.4 488.5 L200.7 487.9 L201 487.3 L201.4 486.7 L201.7 486.1 L202 485.5 L202.3 484.9 L202.6 484.2 L202.9 483.6 L203.2 483 L203.5 482.3 L203.8 481.7 L204 481 L204.3 480.4 L204.6 479.7 L204.8 479.1 L205.1 478.4 L205.4 477.8 L205.6 477.1 L205.9 476.4 L206.1 475.8 L206.3 475.1 L206.6 474.4 L206.8 473.8 L207 473.1 L207.2 472.5 L207.5 471.8 L207.7 471.1 L207.9 470.5 L208.1 469.8 L208.3 469.1 L208.5 468.5 L208.7 467.8 L208.9 467.1 L209 466.4 L209.2 465.8 L209.4 465.1 L209.6 464.4 L209.8 463.7 L209.9 463.1 L210.1 462.4 L210.3 461.7 L210.4 461 L210.6 460.3 L210.7 459.6 L210.9 459 L211.1 458.3 L211.2 457.6 L211.4 456.9 L211.5 456.2 L211.7 455.5 L211.8 454.8 L212 454.2 L212.1 453.5 L212.3 452.8 L212.4 452.1 L212.6 451.4 L212.7 450.7 L212.9 450.1 L213 449.4 L213.2 448.7 L213.3 448 L213.4 447.3 L213.6 446.6 L213.7 445.9 L213.8 445.3 L214 444.6 L214.1 443.9 L214.2 443.2 L214.4 442.5 L214.5 441.8 L214.6 441.1 L214.8 440.4 L214.9 439.8 L215 439.1 L215.1 438.4 L215.2 437.7 L215.4 437 L215.5 436.3 L215.6 435.6 L215.7 434.9 L215.8 434.2 L215.9 433.5 L216 432.9 L216.2 432.2 L216.3 431.5 L216.4 430.8 L216.5 430.1 L216.6 429.4 L216.7 428.7 L216.8 428 L216.9 427.3 L217 426.6 L217.1 425.9 L217.2 425.2 L217.3 424.5 L217.4 423.8 L217.5 423.2 L217.6 422.5 L217.7 421.8 L217.8 421.1 L217.8 420.4 L217.9 419.7 L218 419 L218.1 418.3 L218.2 417.6 L218.3 416.9 L218.4 416.2 L218.5 415.5 L218.6 414.8 L218.7 414.1 L218.8 413.4 L218.8 412.7 L218.9 412.1 L219 411.4 L219.1 410.7 L219.2 410 L219.3 409.3 L219.4 408.6 L219.5 407.9 L219.5 407.2 L219.6 406.5 L219.7 405.8 L219.8 405.1 L219.9 404.4 L220 403.7 L220.1 403 L220.1 402.3 L220.2 401.6 L220.3 400.9 L220.4 400.2 L220.5 399.6 L220.6 398.9 L220.6 398.2 L220.7 397.5 L220.8 396.8 L220.9 396.1 L221 395.4 L221 394.7 L221.1 394 L221.2 393.3 L221.3 392.6 L221.4 391.9 L221.4 391.2 L221.5 390.5 L221.6 389.8 L221.7 389.1 L221.8 388.4 L221.8 387.7 L221.9 387 L222 386.3 L222.1 385.6 L222.2 385 L222.2 384.3 L222.3 383.6 L222.4 382.9 L222.5 382.2 L222.5 381.5 L222.6 380.8 L222.7 380.1 L222.8 379.4 L222.8 378.7 L222.9 378 L223 377.3 L223.1 376.6 L223.2 375.9 L223.2 375.2 L223.3 374.5 L223.4 373.8 L223.5 373.1 L223.5 372.4 L223.6 371.7 L223.7 371 L223.8 370.3 L223.8 369.6 L223.9 368.9 L224 368.2 L224.1 367.6 L224.1 366.9 L224.2 366.2 L224.3 365.5 L224.3 364.8 L224.4 364.1 L224.5 363.4 L224.6 362.7 L224.6 362 L224.7 361.3 L224.8 360.6 L224.9 359.9 L224.9 359.2 L225 358.5 L225.1 357.8 L225.2 357.1 L225.2 356.4 L225.3 355.7 L225.4 355 L225.4 354.3 L225.5 353.6 L225.6 352.9 L225.7 352.2 L225.7 351.5 L225.8 350.8 L225.9 350.1 L226 349.4 L226 348.8 L226.1 348.1 L226.2 347.4 L226.2 346.7 L226.3 346 L226.4 345.3 L226.5 344.6 L226.5 343.9 L226.6 343.2 L226.7 342.5 L226.8 341.8 L226.8 341.1 L226.9 340.4 L227 339.7 L227 339 L227.1 338.3 L227.2 337.6 L227.3 336.9 L227.3 336.2 L227.4 335.5 L227.5 334.8 L227.6 334.1 L227.6 333.4 L227.7 332.7 L227.8 332 L227.8 331.3 L227.9 330.6 L228 330 L228.1 329.3 L228.1 328.6 L228.2 327.9 L228.3 327.2 L228.4 326.5 L228.4 325.8 L228.5 325.1 L228.6 324.4 L228.7 323.7 L228.7 323 L228.8 322.3 L228.9 321.6 L229 320.9 L229 320.2 L229.1 319.5 L229.2 318.8 L229.3 318.1 L229.3 317.4 L229.4 316.7 L229.5 316 L229.6 315.3 L229.6 314.6 L229.7 313.9 L229.8 313.2 L229.9 312.5 L229.9 311.9 L230 311.2 L230.1 310.5 L230.2 309.8 L230.2 309.1 L230.3 308.4 L230.4 307.7 L230.5 307 L230.5 306.3 L230.6 305.6 L230.7 304.9 L230.8 304.2 L230.9 303.5 L230.9 302.8 L231 302.1 L231.1 301.4 L231.2 300.7 L231.3 300 L231.3 299.3 L231.4 298.6 L231.5 297.9 L231.6 297.2 L231.7 296.5 L231.7 295.9 L231.8 295.2 L231.9 294.5 L232 293.8 L232.1 293.1 L232.1 292.4 L232.2 291.7 L232.3 291 L232.4 290.3 L232.5 289.6 L232.6 288.9 L232.6 288.2 L232.7 287.5 L232.8 286.8 L232.9 286.1 L233 285.4 L233.1 284.7 L233.2 284 L233.2 283.3 L233.3 282.6 L233.4 282 L233.5 281.3 L233.6 280.6 L233.7 279.9 L233.8 279.2 L233.9 278.5 L234 277.8 L234.1 277.1 L234.1 276.4" fill="none" stroke="#0000ff" stroke-width="4.6" stroke-linejoin="round" stroke-linecap="round"/>
<path d="M47.5 508 L48.2 508 L48.9 508 L49.6 508 L50.3 508 L51 508 L51.7 508 L52.4 508 L53.1 508 L53.8 508 L54.5 508 L55.2 508 L55.9 508 L56.6 508 L57.3 508 L58 508 L58.7 508 L59.4 508 L60.1 508 L60.8 508 L61.5 508 L62.2 508 L62.9 508 L63.6 508 L64.3 508 L65 508 L65.7 508 L66.4 508 L67.1 508 L67.8 508 L68.5 508 L69.2 508 L69.9 508 L70.6 508 L71.3 508 L72 508 L72.7 508 L73.4 508 L74.1 508 L74.8 508 L75.5 508 L76.2 508 L76.9 508 L77.6 508 L78.3 508 L79 508 L79.7 508 L80.4 508 L81.1 508 L81.8 508 L82.5 508 L83.2 508 L83.9 508 L84.6 508 L85.3 508 L86 508 L86.7 508 L87.4 508 L88.1 507.9 L88.8 507.9 L89.5 507.9 L90.2 507.9 L90.9 507.9 L91.6 507.9 L92.3 507.9 L93 507.9 L93.7 507.9 L94.4 507.9 L95.1 507.9 L95.8 507.9 L96.5 507.9 L97.2 507.9 L97.9 507.9 L98.6 507.9 L99.3 507.9 L100 507.9 L100.7 507.9 L101.4 507.9 L102.1 507.8 L102.8 507.8 L103.5 507.7 L104.2 507.7 L104.9 507.6 L105.6 507.5 L106.3 507.5 L107 507.4 L107.7 507.3 L108.4 507.2 L109.1 507.1 L109.7 506.9 L110.4 506.8 L111.1 506.7 L111.8 506.6 L112.5 506.4 L113.2 506.3 L113.9 506.2 L114.6 506.1 L115.3 506 L116 505.9 L116.6 505.8 L117.3 505.7 L118 505.6 L118.7 505.5 L119.4 505.4 L120.1 505.3 L120.8 505.2 L121.5 505.1 L122.2 505.1 L122.9 505 L123.6 504.9 L124.3 504.9 L125 504.8 L125.7 504.7 L126.4 504.7 L127.1 504.6 L127.8 504.6 L128.5 504.5 L129.2 504.4 L129.9 504.4 L130.6 504.3 L131.3 504.3 L132 504.2 L132.7 504.2 L133.4 504.2 L134.1 504.1 L134.8 504.1 L135.5 504.1 L136.2 504.1 L136.9 504.1 L137.6 504.1 L138.3 504.1 L139 504.1 L139.7 504.1 L140.4 504.1 L141.1 504.1 L141.8 504.1 L142.5 504.1 L143.2 504.1 L143.9 504.1 L144.6 504.2 L145.3 504.2 L146 504.2 L146.7 504.2 L147.4 504.2 L148.1 504.2 L148.8 504.2 L149.5 504.2 L150.2 504.2 L150.9 504.2 L151.6 504.2 L152.3 504.2 L153 504.2 L153.7 504.2 L154.4 504.2 L155.1 504.2 L155.8 504.3 L156.5 504.3 L157.2 504.3 L157.9 504.3 L158.6 504.3 L159.3 504.3 L160 504.3 L160.7 504.3 L161.4 504.3 L162.1 504.3 L162.8 504.3 L163.5 504.3 L164.2 504.2 L164.9 504.2 L165.6 504 L166.2 503.9 L166.9 503.7 L167.6 503.6 L168.3 503.4 L169 503.3 L169.6 503.1 L170.3 502.8 L171 502.6 L171.6 502.3 L172.3 502 L172.9 501.8 L173.5 501.5 L174.2 501.1 L174.8 500.8 L175.4 500.5 L176.1 500.2 L176.7 499.9 L177.3 499.6 L178 499.3 L178.6 498.9 L179.2 498.6 L179.8 498.2 L180.4 497.8 L181 497.4 L181.6 497.1 L182.2 496.7 L182.7 496.2 L183.2 495.8 L183.7 495.4 L184.2 494.9 L184.7 494.4 L185.2 493.9 L185.7 493.4 L186.2 492.9 L186.6 492.4 L187.1 491.8 L187.5 491.2 L188 490.7 L188.4 490.1 L188.8 489.5 L189.2 488.9 L189.6 488.3 L189.9 487.7 L190.2 487.1 L190.6 486.5 L190.9 485.9 L191.2 485.3 L191.5 484.7 L191.8 484.1 L192.1 483.4 L192.4 482.8 L192.7 482.2 L193 481.5 L193.3 480.9 L193.5 480.2 L193.8 479.6 L194.1 478.9 L194.3 478.2 L194.6 477.6 L194.8 476.9 L195.1 476.2 L195.3 475.6 L195.5 474.9 L195.7 474.2 L196 473.5 L196.2 472.9 L196.4 472.2 L196.6 471.5 L196.8 470.9 L197 470.2 L197.1 469.5 L197.3 468.9 L197.5 468.2 L197.7 467.5 L197.9 466.8 L198 466.2 L198.2 465.5 L198.3 464.8 L198.5 464.1 L198.7 463.4 L198.8 462.7 L199 462.1 L199.1 461.4 L199.3 460.7 L199.4 460 L199.5 459.3 L199.7 458.6 L199.8 457.9 L199.9 457.2 L200.1 456.5 L200.2 455.9 L200.3 455.2 L200.4 454.5 L200.6 453.8 L200.7 453.1 L200.8 452.4 L200.9 451.7 L201 451 L201.1 450.3 L201.3 449.7 L201.4 449 L201.5 448.3 L201.6 447.6 L201.7 446.9 L201.8 446.2 L201.9 445.5 L202 444.8 L202.1 444.1 L202.2 443.4 L202.3 442.7 L202.4 442 L202.5 441.3 L202.6 440.6 L202.7 439.9 L202.7 439.3 L202.8 438.6 L202.9 437.9 L203 437.2 L203.1 436.5 L203.2 435.8 L203.3 435.1 L203.4 434.4 L203.5 433.7 L203.6 433 L203.7 432.3 L203.8 431.6 L203.9 430.9 L204 430.2 L204.1 429.6 L204.2 428.9 L204.3 428.2 L204.4 427.5 L204.5 426.8 L204.6 426.1 L204.7 425.4 L204.8 424.7 L204.9 424 L205 423.3 L205.1 422.6 L205.2 421.9 L205.3 421.2 L205.4 420.5 L205.5 419.8 L205.6 419.2 L205.7 418.5 L205.8 417.8 L205.9 417.1 L206 416.4 L206.1 415.7 L206.2 415 L206.3 414.3 L206.4 413.6 L206.5 412.9 L206.6 412.2 L206.7 411.5 L206.8 410.8 L206.9 410.1 L207 409.5 L207.1 408.8 L207.2 408.1 L207.3 407.4 L207.4 406.7 L207.5 406 L207.6 405.3 L207.7 404.6 L207.8 403.9 L207.9 403.2 L208 402.5 L208.1 401.8 L208.2 401.1 L208.3 400.4 L208.4 399.7 L208.5 399.1 L208.6 398.4 L208.7 397.7 L208.8 397 L208.9 396.3 L209 395.6 L209.1 394.9 L209.1 394.2 L209.2 393.5 L209.3 392.8 L209.4 392.1 L209.5 391.4 L209.6 390.7 L209.7 390 L209.8 389.4 L209.9 388.7 L210 388 L210.1 387.3 L210.2 386.6 L210.3 385.9 L210.4 385.2 L210.5 384.5 L210.6 383.8 L210.7 383.1 L210.8 382.4 L210.9 381.7 L211 381 L211.1 380.3 L211.2 379.6 L211.3 379 L211.4 378.3 L211.5 377.6 L211.6 376.9 L211.7 376.2 L211.8 375.5 L211.9 374.8 L212 374.1 L212.1 373.4 L212.2 372.7 L212.3 372 L212.4 371.3 L212.5 370.6 L212.6 369.9 L212.7 369.3 L212.8 368.6 L212.9 367.9 L213 367.2 L213.1 366.5 L213.2 365.8 L213.3 365.1 L213.4 364.4 L213.5 363.7 L213.5 363 L213.6 362.3 L213.7 361.6 L213.8 360.9 L213.9 360.2 L214 359.5 L214.1 358.9 L214.2 358.2 L214.3 357.5 L214.4 356.8 L214.5 356.1 L214.6 355.4 L214.7 354.7 L214.8 354 L214.9 353.3 L215 352.6 L215.1 351.9 L215.2 351.2 L215.3 350.5 L215.4 349.8 L215.5 349.1 L215.6 348.5 L215.7 347.8 L215.8 347.1 L215.9 346.4 L216 345.7 L216.1 345 L216.2 344.3 L216.3 343.6 L216.4 342.9 L216.5 342.2 L216.6 341.5 L216.6 340.8 L216.7 340.1 L216.8 339.4 L216.9 338.7 L217 338.1 L217.1 337.4 L217.2 336.7 L217.3 336 L217.4 335.3 L217.5 334.6 L217.6 333.9 L217.7 333.2 L217.8 332.5 L217.9 331.8 L218 331.1 L218.1 330.4 L218.2 329.7 L218.3 329 L218.4 328.3 L218.5 327.7 L218.6 327 L218.7 326.3 L218.8 325.6 L218.9 324.9 L218.9 324.2 L219 323.5 L219.1 322.8 L219.2 322.1 L219.3 321.4 L219.4 320.7 L219.5 320 L219.6 319.3 L219.7 318.6 L219.8 317.9 L219.9 317.3 L220 316.6 L220.1 315.9 L220.2 315.2 L220.3 314.5 L220.4 313.8 L220.5 313.1 L220.6 312.4 L220.7 311.7 L220.8 311 L220.8 310.3 L220.9 309.6 L221 308.9 L221.1 308.2 L221.2 307.5 L221.3 306.8 L221.4 306.2 L221.5 305.5 L221.6 304.8 L221.7 304.1 L221.8 303.4 L221.9 302.7 L222 302 L222.1 301.3 L222.2 300.6 L222.3 299.9 L222.3 299.2 L222.4 298.5 L222.5 297.8 L222.6 297.1 L222.7 296.4 L222.8 295.7 L222.9 295.1 L223 294.4 L223.1 293.7 L223.2 293 L223.3 292.3 L223.4 291.6 L223.5 290.9 L223.6 290.2 L223.6 289.5 L223.7 288.8 L223.8 288.1 L223.9 287.4 L224 286.7 L224.1 286 L224.2 285.3 L224.3 284.6 L224.4 284 L224.5 283.3 L224.6 282.6 L224.6 281.9 L224.7 281.2 L224.8 280.5 L224.9 279.8 L225 279.1 L225.1 278.4 L225.2 277.7 L225.3 277 L225.4 276.3" fill="none" stroke="#ff0000" stroke-width="4.6" stroke-linejoin="round" stroke-linecap="round"/>
<path d="M47.5 509.2 L48.2 509.2 L48.9 509.2 L49.6 509.2 L50.3 509.2 L51 509.2 L51.7 509.2 L52.4 509.2 L53.1 509.2 L53.8 509.2 L54.5 509.2 L55.2 509.2 L55.9 509.2 L56.6 509.2 L57.3 509.2 L58 509.2 L58.7 509.2 L59.4 509.2 L60.1 509.2 L60.8 509.2 L61.5 509.2 L62.2 509.2 L62.9 509.2 L63.6 509.2 L64.3 509.2 L65 509.2 L65.7 509.2 L66.4 509.2 L67.1 509.2 L67.8 509.2 L68.5 509.2 L69.2 509.2 L69.9 509.2 L70.6 509.2 L71.3 509.2 L72 509.2 L72.7 509.2 L73.4 509.2 L74.1 509.2 L74.8 509.2 L75.5 509.2 L76.2 509.2 L76.9 509.2 L77.6 509.2 L78.3 509.2 L79 509.2 L79.7 509.2 L80.4 509.2 L81.1 509.2 L81.8 509.2 L82.5 509.2 L83.2 509.2 L83.9 509.2 L84.6 509.2 L85.3 509.2 L86 509.2 L86.7 509.2 L87.4 509.2 L88.1 509.2 L88.8 509.2 L89.5 509.2 L90.2 509.2 L90.9 509.2 L91.6 509.2 L92.3 509.2 L93 509.2 L93.7 509.2 L94.4 509.2 L95.1 509.2 L95.8 509.2 L96.5 509.2 L97.2 509.2 L97.9 509.2 L98.6 509.2 L99.3 509.2 L100 509.2 L100.7 509.2 L101.4 509.2 L102.1 509.2 L102.8 509.2 L103.5 509.2 L104.2 509.2 L104.9 509.2 L105.6 509.2 L106.3 509.2 L107 509.2 L107.7 509.2 L108.4 509.2 L109.1 509.2 L109.8 509.2 L110.5 509.2 L111.2 509.2 L111.9 509.2 L112.6 509.2 L113.3 509.2 L114 509.2 L114.7 509.2 L115.4 509.2 L116.1 509.2 L116.8 509.2 L117.5 509.2 L118.2 509.2 L118.9 509.2 L119.6 509.2 L120.3 509.2 L121 509.2 L121.7 509.2 L122.4 509.2 L123.1 509.2 L123.8 509.2 L124.5 509.2 L125.2 509.2 L125.9 509.2 L126.6 509.2 L127.3 509.2 L128 509.2 L128.7 509.2 L129.4 509.2 L130.1 509.2 L130.8 509.2 L131.5 509.2 L132.2 509.2 L132.9 509.2 L133.6 509.2 L134.3 509.2 L135 509.2 L135.7 509.2 L136.4 509.2 L137.1 509.2 L137.8 509.2 L138.5 509.2 L139.2 509.2 L139.9 509.2 L140.6 509.2 L141.3 509.2 L142 509.2 L142.7 509.2 L143.4 509.2 L144.1 509.2 L144.8 509.2 L145.5 509.2 L146.2 509.1 L146.9 509.1 L147.6 509.1 L148.3 509.1 L149 509.1 L149.7 509.1 L150.4 509 L151.1 509 L151.8 509 L152.5 509 L153.2 509 L153.9 508.9 L154.6 508.9 L155.3 508.9 L156 508.9 L156.7 508.8 L157.4 508.8 L158.1 508.8 L158.8 508.8 L159.5 508.7 L160.2 508.7 L160.9 508.7 L161.6 508.6 L162.3 508.6 L163 508.6 L163.7 508.6 L164.4 508.5 L165.1 508.5 L165.8 508.5 L166.5 508.4 L167.2 508.4 L167.9 508.4 L168.6 508.3 L169.3 508.3 L170 508.2 L170.7 508.2 L171.4 508.1 L172.1 508.1 L172.8 508 L173.5 508 L174.2 507.9 L174.9 507.8 L175.6 507.8 L176.3 507.7 L177 507.7 L177.7 507.6 L178.4 507.6 L179.1 507.6 L179.8 507.5 L180.5 507.5 L181.2 507.4 L181.9 507.4 L182.6 507.4 L183.3 507.3 L184 507.3 L184.7 507.3 L185.3 507.2 L186 507.2 L186.7 507.2 L187.4 507.1 L188.1 507.1 L188.8 507.1 L189.5 507 L190.2 507 L190.9 507 L191.6 506.9 L192.3 506.9 L193 506.9 L193.7 506.8 L194.4 506.8 L195.1 506.8 L195.8 506.8 L196.5 506.7 L197.2 506.7 L197.9 506.7 L198.6 506.6 L199.3 506.6 L200 506.6 L200.7 506.6 L201.4 506.5 L202.1 506.5 L202.8 506.5 L203.5 506.5 L204.2 506.5 L204.9 506.4 L205.6 506.4 L206.3 506.4 L207 506.4 L207.7 506.3 L208.4 506.3 L209.1 506.3 L209.8 506.3 L210.5 506.3 L211.2 506.2 L211.9 506.2 L212.6 506.2 L213.3 506.2 L214 506.2 L214.7 506.1 L215.4 506.1 L216.1 506.1 L216.8 506.1 L217.5 506.1 L218.2 506 L218.9 506 L219.6 506 L220.3 506 L221 506 L221.7 506 L222.4 505.9 L223.1 505.9 L223.8 505.9 L224.5 505.9 L225.2 505.9 L225.9 505.8 L226.6 505.8 L227.3 505.8 L228 505.8 L228.7 505.8 L229.4 505.8 L230.1 505.7 L230.8 505.7 L231.5 505.7 L232.2 505.7 L232.9 505.7 L233.6 505.6 L234.3 505.6 L235 505.6 L235.7 505.6 L236.4 505.5 L237.1 505.5 L237.8 505.5 L238.5 505.5 L239.2 505.4 L239.9 505.4 L240.6 505.4 L241.3 505.3 L242 505.3 L242.7 505.3 L243.4 505.2 L244.1 505.2 L244.8 505.2 L245.5 505.1 L246.2 505.1 L246.9 505.1 L247.6 505.1 L248.4 505 L249.1 505 L249.8 505 L250.4 504.9 L251.1 504.9 L251.8 504.8 L252.5 504.6 L253.1 504.4 L253.8 504.1 L254.4 503.8 L255.1 503.5 L255.7 503.1 L256.2 502.7 L256.8 502.3 L257.4 501.9 L257.9 501.5 L258.4 501 L259 500.5 L259.5 500 L260 499.5 L260.5 499.1 L260.9 498.5 L261.4 498 L261.9 497.5 L262.3 497 L262.8 496.4 L263.2 495.9 L263.6 495.3 L264.1 494.8 L264.5 494.2 L264.9 493.6 L265.2 493 L265.6 492.4 L266 491.8 L266.4 491.2 L266.7 490.6 L267.1 490 L267.4 489.4 L267.7 488.8 L268 488.2 L268.4 487.5 L268.7 486.9 L269 486.3 L269.3 485.6 L269.5 485 L269.8 484.4 L270.1 483.7 L270.4 483.1 L270.6 482.4 L270.9 481.8 L271.2 481.1 L271.4 480.5 L271.7 479.8 L271.9 479.2 L272.1 478.5 L272.4 477.8 L272.6 477.2 L272.8 476.5 L273.1 475.8 L273.3 475.2 L273.5 474.5 L273.7 473.9 L273.9 473.2 L274.1 472.5 L274.3 471.8 L274.5 471.2 L274.7 470.5 L274.9 469.8 L275.1 469.2 L275.3 468.5 L275.5 467.8 L275.7 467.1 L275.9 466.5 L276.1 465.8 L276.2 465.1 L276.4 464.4 L276.6 463.8 L276.8 463.1 L276.9 462.4 L277.1 461.7 L277.3 461 L277.5 460.4 L277.6 459.7 L277.8 459 L278 458.3 L278.1 457.6 L278.3 457 L278.5 456.3 L278.7 455.6 L278.8 454.9 L279 454.3 L279.2 453.6 L279.3 452.9 L279.5 452.2 L279.6 451.5 L279.8 450.8 L280 450.2 L280.1 449.5 L280.3 448.8 L280.4 448.1 L280.6 447.4 L280.7 446.8 L280.9 446.1 L281 445.4 L281.2 444.7 L281.3 444 L281.4 443.3 L281.6 442.6 L281.7 442 L281.8 441.3 L282 440.6 L282.1 439.9 L282.2 439.2 L282.4 438.5 L282.5 437.8 L282.6 437.1 L282.8 436.4 L282.9 435.8 L283 435.1 L283.1 434.4 L283.3 433.7 L283.4 433 L283.5 432.3 L283.7 431.6 L283.8 430.9 L283.9 430.3 L284.1 429.6 L284.2 428.9 L284.3 428.2 L284.5 427.5 L284.6 426.8 L284.7 426.1 L284.9 425.4 L285 424.8 L285.1 424.1 L285.3 423.4 L285.4 422.7 L285.5 422 L285.7 421.3 L285.8 420.6 L285.9 419.9 L286 419.3 L286.2 418.6 L286.3 417.9 L286.4 417.2 L286.5 416.5 L286.6 415.8 L286.8 415.1 L286.9 414.4 L287 413.7 L287.1 413.1 L287.2 412.4 L287.4 411.7 L287.5 411 L287.6 410.3 L287.7 409.6 L287.8 408.9 L288 408.2 L288.1 407.5 L288.2 406.8 L288.3 406.2 L288.4 405.5 L288.5 404.8 L288.7 404.1 L288.8 403.4 L288.9 402.7 L289 402 L289.1 401.3 L289.2 400.6 L289.4 399.9 L289.5 399.3 L289.6 398.6 L289.7 397.9 L289.8 397.2 L289.9 396.5 L290.1 395.8 L290.2 395.1 L290.3 394.4 L290.4 393.7 L290.5 393 L290.6 392.4 L290.7 391.7 L290.9 391 L291 390.3 L291.1 389.6 L291.2 388.9 L291.3 388.2 L291.4 387.5 L291.5 386.8 L291.6 386.1 L291.8 385.4 L291.9 384.8 L292 384.1 L292.1 383.4 L292.2 382.7 L292.3 382 L292.4 381.3 L292.5 380.6 L292.6 379.9 L292.8 379.2 L292.9 378.5 L293 377.8 L293.1 377.2 L293.2 376.5 L293.3 375.8 L293.4 375.1 L293.5 374.4 L293.6 373.7 L293.7 373 L293.9 372.3 L294 371.6 L294.1 370.9 L294.2 370.2 L294.3 369.5 L294.4 368.9 L294.5 368.2 L294.6 367.5 L294.7 366.8 L294.8 366.1 L294.9 365.4 L295.1 364.7 L295.2 364 L295.3 363.3 L295.4 362.6 L295.5 361.9 L295.6 361.2 L295.7 360.6 L295.8 359.9 L295.9 359.2 L296 358.5 L296.1 357.8 L296.2 357.1 L296.3 356.4 L296.4 355.7 L296.5 355 L296.7 354.3 L296.8 353.6 L296.9 352.9 L297 352.3 L297.1 351.6 L297.2 350.9 L297.3 350.2 L297.4 349.5 L297.5 348.8 L297.6 348.1 L297.7 347.4 L297.8 346.7 L297.9 346 L298 345.3 L298.1 344.6 L298.2 343.9 L298.3 343.3 L298.5 342.6 L298.6 341.9 L298.7 341.2 L298.8 340.5 L298.9 339.8 L299 339.1 L299.1 338.4 L299.2 337.7 L299.3 337 L299.4 336.3 L299.5 335.6 L299.6 334.9 L299.7 334.3 L299.8 333.6 L299.9 332.9 L300 332.2 L300.1 331.5 L300.2 330.8 L300.3 330.1 L300.4 329.4 L300.5 328.7 L300.6 328 L300.7 327.3 L300.9 326.6 L301 325.9 L301.1 325.3 L301.2 324.6 L301.3 323.9 L301.4 323.2 L301.5 322.5 L301.6 321.8 L301.7 321.1 L301.8 320.4 L301.9 319.7 L302 319 L302.1 318.3 L302.2 317.6 L302.3 316.9 L302.4 316.3 L302.5 315.6 L302.6 314.9 L302.7 314.2 L302.8 313.5 L302.9 312.8 L303 312.1 L303.1 311.4 L303.2 310.7 L303.3 310 L303.5 309.3 L303.6 308.6 L303.7 307.9 L303.8 307.3 L303.9 306.6 L304 305.9 L304.1 305.2 L304.2 304.5 L304.3 303.8 L304.4 303.1 L304.5 302.4 L304.6 301.7 L304.7 301 L304.8 300.3 L304.9 299.6 L305 298.9 L305.1 298.3 L305.2 297.6 L305.3 296.9 L305.4 296.2 L305.5 295.5 L305.6 294.8 L305.8 294.1 L305.9 293.4 L306 292.7 L306.1 292 L306.2 291.3 L306.3 290.6 L306.4 289.9 L306.5 289.3 L306.6 288.6 L306.7 287.9 L306.8 287.2 L306.9 286.5 L307 285.8 L307.1 285.1 L307.2 284.4 L307.3 283.7 L307.4 283 L307.5 282.3 L307.6 281.6 L307.8 281 L307.9 280.3 L308 279.6 L308.1 278.9 L308.2 278.2 L308.3 277.5 L308.4 276.8 L308.5 276.1" fill="none" stroke="#d633f8" stroke-width="4.4" stroke-linejoin="round" stroke-linecap="round"/>
</g>
<line x1="43.8" y1="510.5" x2="47.4" y2="510.5" stroke="#000" stroke-width="1.8"/>
<line x1="45.6" y1="482.2" x2="47.4" y2="482.2" stroke="#000" stroke-width="1.8"/>
<line x1="43.8" y1="453.9" x2="47.4" y2="453.9" stroke="#000" stroke-width="1.8"/>
<line x1="45.6" y1="425.5" x2="47.4" y2="425.5" stroke="#000" stroke-width="1.8"/>
<line x1="43.8" y1="397.2" x2="47.4" y2="397.2" stroke="#000" stroke-width="1.8"/>
<line x1="45.6" y1="368.9" x2="47.4" y2="368.9" stroke="#000" stroke-width="1.8"/>
<line x1="43.8" y1="340.6" x2="47.4" y2="340.6" stroke="#000" stroke-width="1.8"/>
<line x1="45.6" y1="312.2" x2="47.4" y2="312.2" stroke="#000" stroke-width="1.8"/>
<line x1="43.8" y1="283.9" x2="47.4" y2="283.9" stroke="#000" stroke-width="1.8"/>
<text x="40.3" y="514.4" font-size="11.3" text-anchor="end" fill="#000">0</text>
<text x="40.3" y="457.8" font-size="11.3" text-anchor="end" fill="#000">5</text>
<text x="40.3" y="401.1" font-size="11.3" text-anchor="end" fill="#000">10</text>
<text x="40.3" y="344.4" font-size="11.3" text-anchor="end" fill="#000">15</text>
<text x="40.3" y="287.8" font-size="11.3" text-anchor="end" fill="#000">20</text>
<line x1="58.3" y1="510.5" x2="58.3" y2="512.3" stroke="#000" stroke-width="1.8"/>
<line x1="76.3" y1="510.5" x2="76.3" y2="514.1" stroke="#000" stroke-width="1.8"/>
<line x1="94.3" y1="510.5" x2="94.3" y2="512.3" stroke="#000" stroke-width="1.8"/>
<line x1="112.3" y1="510.5" x2="112.3" y2="514.1" stroke="#000" stroke-width="1.8"/>
<line x1="130.3" y1="510.5" x2="130.3" y2="512.3" stroke="#000" stroke-width="1.8"/>
<line x1="148.3" y1="510.5" x2="148.3" y2="514.1" stroke="#000" stroke-width="1.8"/>
<line x1="166.3" y1="510.5" x2="166.3" y2="512.3" stroke="#000" stroke-width="1.8"/>
<line x1="184.3" y1="510.5" x2="184.3" y2="514.1" stroke="#000" stroke-width="1.8"/>
<line x1="202.3" y1="510.5" x2="202.3" y2="512.3" stroke="#000" stroke-width="1.8"/>
<line x1="220.3" y1="510.5" x2="220.3" y2="514.1" stroke="#000" stroke-width="1.8"/>
<line x1="238.3" y1="510.5" x2="238.3" y2="512.3" stroke="#000" stroke-width="1.8"/>
<line x1="256.3" y1="510.5" x2="256.3" y2="514.1" stroke="#000" stroke-width="1.8"/>
<line x1="274.3" y1="510.5" x2="274.3" y2="512.3" stroke="#000" stroke-width="1.8"/>
<line x1="292.3" y1="510.5" x2="292.3" y2="514.1" stroke="#000" stroke-width="1.8"/>
<line x1="310.3" y1="510.5" x2="310.3" y2="512.3" stroke="#000" stroke-width="1.8"/>
<line x1="328.3" y1="510.5" x2="328.3" y2="514.1" stroke="#000" stroke-width="1.8"/>
<line x1="346.3" y1="510.5" x2="346.3" y2="512.3" stroke="#000" stroke-width="1.8"/>
<line x1="364.3" y1="510.5" x2="364.3" y2="514.1" stroke="#000" stroke-width="1.8"/>
<text x="76.3" y="526.9" font-size="11.5" text-anchor="middle" fill="#000">1.0</text>
<text x="112.3" y="526.9" font-size="11.5" text-anchor="middle" fill="#000">1.1</text>
<text x="148.3" y="526.9" font-size="11.5" text-anchor="middle" fill="#000">1.2</text>
<text x="184.3" y="526.9" font-size="11.5" text-anchor="middle" fill="#000">1.3</text>
<text x="220.3" y="526.9" font-size="11.5" text-anchor="middle" fill="#000">1.4</text>
<text x="256.3" y="526.9" font-size="11.5" text-anchor="middle" fill="#000">1.5</text>
<text x="292.3" y="526.9" font-size="11.5" text-anchor="middle" fill="#000">1.6</text>
<text x="328.3" y="526.9" font-size="11.5" text-anchor="middle" fill="#000">1.7</text>
<text x="364.3" y="526.9" font-size="11.5" text-anchor="middle" fill="#000">1.8</text>
<text x="209" y="544" font-size="13.4" text-anchor="middle" fill="#000">E/V vs.RHE</text>
<text x="26" y="424.3" font-size="13.0" fill="#000" transform="rotate(-90 26 424.3)">j/mA cm<tspan font-size="0.65em" dy="-6">-2</tspan></text>
<circle cx="81.0" cy="302.0" r="2.6" fill="#000"/>
<circle cx="81.0" cy="322.8" r="2.6" fill="#d633f8"/>
<circle cx="81.0" cy="344.8" r="2.6" fill="#0000ff"/>
<circle cx="81.0" cy="367.2" r="2.6" fill="#ff0000"/>
<text x="100.2" y="305.7" font-size="13.6" fill="#000">Ni<tspan font-size="0.7em">2</tspan>P</text>
<text x="100.2" y="327.1" font-size="13.6" fill="#000">Ni<tspan font-size="0.7em">2</tspan>P/NiS</text>
<text x="100.2" y="349.2" font-size="13.6" fill="#000">Ni<tspan font-size="0.7em">2</tspan>P@PCOS</text>
<text x="100.2" y="371.4" font-size="13.6" fill="#000">Ni<tspan font-size="0.7em">2</tspan>P/NiS@PCOS</text>
<clipPath id="cd"><rect x="430.2" y="286.6" width="316.8" height="226.1"/></clipPath>
<g clip-path="url(#cd)">
<path d="M431.3 511.2h0M434.2 511.2h0M434.8 507.3h0M435.5 509.1h0M441.8 511.2h0M443.3 511.2h0M444.9 502h0M450 505.6h0M451.9 511.2h0M451 512.2h0M453.2 502.9h0M452.9 512.2h0M451.9 511.9h0M453.9 507h0M454.1 511.5h0M454.6 510.8h0M454.5 503.2h0M456 510.2h0M454.9 502.6h0M455.5 508.3h0M455.2 503.3h0M453.6 507.3h0M455.5 511.6h0M457.9 506.4h0M455.9 499.2h0M455.7 504.8h0M454.3 503.9h0M456.5 511.5h0M456.3 502.3h0M458.6 499.8h0M457.2 507.3h0M457.3 497.5h0M458.4 493.6h0M457.8 510.9h0M456.9 490h0M458.2 503.1h0M458.4 487.3h0M458.6 483.8h0M457.5 482h0M460.3 479.6h0M460.1 476.2h0M458 472.5h0M460.5 466.7h0M461 460.3h0M461.1 449.8h0M461.2 422.4h0M461.4 402.4h0M462.8 393.9h0M462.4 383.9h0M462.7 376.3h0M462.8 367.6h0M462.8 360.8h0M463.4 355.8h0M464.2 351.2h0M464.4 346.8h0M464.8 342.3h0M465 337.4h0M464.9 331.9h0M465.6 327.8h0M466.4 324.7h0M466.2 320.7h0M465.5 317.6h0M466.6 316.1h0M466.4 314.1h0M467.2 313.8h0M468.9 311.6h0M468 311.6h0M468.2 311.1h0M468.2 310.9h0M469.1 308.8h0M470.1 308.7h0M469.5 308h0M470.4 308.7h0M470.6 308.9h0M470.6 309.3h0M471.5 308.3h0M471.4 308.1h0M471.7 307.8h0M471.9 308.8h0M472.6 309.7h0M473 308.9h0M473 310.1h0M473.5 310.2h0M473.9 311.2h0M474.2 312.3h0M474.1 314.3h0M474.6 315.5h0M475 317.3h0M475.4 319.1h0M475.8 320.3h0M475.8 322.8h0M476.3 324.8h0M477 326.2h0M477.1 330.1h0M477.5 331.6h0M477.6 334.1h0M478 336h0M478.5 337.2h0M478.5 339.2h0M479.1 340.7h0M479.4 342.4h0M480.1 345.6h0M480.2 347h0M480.6 347.7h0M480.7 349.6h0M481.2 350.7h0M481.2 352.3h0M481.6 353h0M482.1 356.8h0M482 357.2h0M482.8 359.1h0M483.2 358h0M483.4 360.1h0M483.8 360.2h0M483.8 362.1h0M484.4 363.2h0M484.6 366h0M484.8 364h0M485.2 369.9h0M485.7 368.1h0M485.8 368.7h0M486.6 370.4h0M486.7 370h0M486.9 371.6h0M487.2 373h0M487.7 373.3h0M487.9 373.7h0M488.2 373.1h0M488.8 374.7h0M488.9 376.1h0M489.2 377.4h0M489.6 378h0M490.2 379.8h0M490.3 380.8h0M490.6 381.6h0M490.9 381.4h0M491.5 383.3h0M491.8 383.7h0M491.8 383.3h0M492.2 385h0M492.8 385h0M493 385.3h0M493.4 386.8h0M493.6 386.1h0M494 387.8h0M494.2 387.3h0M494.8 391.6h0M495 392.4h0M495.4 392.1h0M495.7 390.1h0M496.1 392.5h0M496.2 391.8h0M496.7 391.8h0M496.9 395.6h0M497.2 396.1h0M497.5 395.8h0M497.9 399.6h0M498.2 398.4h0M498.6 397.1h0M498.8 402.6h0M499.4 397.7h0M499.7 402h0M499.6 396.3h0M500.2 398h0M500.7 400.4h0M500.8 401.5h0M501.5 402.7h0M501.4 404.6h0M501.8 405.2h0M502.4 403.6h0M502.4 406.8h0M502.9 406.9h0M503.2 403.7h0M503.5 407.9h0M503.7 407.3h0M504.1 409.1h0M504.5 411.3h0M505 407.6h0M505.1 408h0M505.6 411.1h0M505.8 410.4h0M506.1 406.4h0M506.7 415.5h0M506.7 414.6h0M507.2 412.6h0M507.5 412.1h0M508.1 414.1h0M507.9 411.7h0M508.4 412.7h0M508.9 415.4h0M509.1 416.8h0M509.5 416.9h0M509.6 418.4h0M510.1 422.1h0M510.4 421.6h0M510.8 417.9h0M511.2 422.3h0M511.3 414.1h0M511.6 421.7h0M511.8 421.6h0M512.4 420.2h0M512.7 414.9h0M513.1 423.5h0M513.3 423.9h0M513.8 426h0M514.2 421.2h0M514.4 420.6h0M514.7 422.2h0M515.1 423.3h0M515.6 425h0M515.6 426.4h0M515.8 425.2h0M516.2 428.6h0M516.8 422.1h0M516.9 427.2h0M517.3 426.6h0M517.6 431.9h0M518 428.1h0M518.2 421.7h0M518.6 427.6h0M518.9 425.7h0M519.5 434.7h0M519.9 431.1h0M520.1 428.1h0M520.4 427.9h0M520.6 427.9h0M521.1 430.5h0M521.1 431.8h0M521.4 432.6h0M521.9 429.9h0M522.2 430.2h0M523 432.8h0M522.9 432.9h0M522.9 432.1h0M523.6 430.1h0M523.8 433.9h0M524.4 436.9h0M524.6 436.1h0M525 435.3h0M525.3 434.7h0M525.9 432.9h0M526 438.1h0M526.6 429h0M526.6 432.3h0M526.7 438.3h0M527 441.2h0M527.9 436.3h0M527.8 441.8h0M528.3 441.1h0M528.7 440.2h0M528.9 439.2h0M529.1 432.4h0M529.6 434.7h0M529.9 439.6h0M530.5 442.5h0M530.7 435.4h0M530.8 440.1h0M531.3 445.2h0M531.5 437.7h0M532 439.8h0M532.2 438h0M532.6 439.3h0M532.7 437.3h0M533.3 443.5h0M533.6 441.5h0M533.9 439.3h0M534.3 439.9h0M534.5 440.7h0M534.9 446.2h0M535.3 439.6h0M535.6 440.5h0M536 440.7h0M536.4 447.7h0M536.5 446.9h0M536.7 446h0M537.3 448.4h0M537.8 441.4h0M537.7 447.9h0M538 447.8h0M538.5 447.7h0M538.7 444.4h0M539.1 446.9h0M539.7 448.9h0M539.8 444.9h0M540.1 446.8h0M540.5 450.3h0M540.9 448.4h0M541.2 452.7h0M541.6 448.5h0M541.5 449.8h0M541.9 447.8h0M542.4 448h0M543 442.4h0M543 454.1h0M543.4 446.8h0M543.7 447.9h0M544.1 457.1h0M544.8 450.6h0M544.8 446.6h0M545.1 451.9h0M545.3 449.7h0M545.4 454h0M546 457.5h0M546.5 448.3h0M546.7 449.3h0M546.9 451.7h0M547.6 454.8h0M547.7 448.7h0M548.2 455.6h0M548.4 445.3h0M548.6 456.5h0M549.2 458.1h0M549.6 454.6h0M549.6 453.6h0M549.9 452.6h0M550.5 454.3h0M550.9 456h0M551 455h0M551.2 458.4h0M551.8 462h0M551.9 451.4h0M552.3 459.9h0M552.6 462.4h0M552.8 460.5h0M553.2 455.7h0M553.7 452.4h0M553.8 458.9h0M554.1 457.2h0M554.7 453.9h0M555.1 458.2h0M555.4 455.7h0M555.9 459.1h0M556 443.6h0M556.5 461.9h0M556.6 463.5h0M557 454.3h0M557.3 454.3h0M558 461.1h0M557.9 456.2h0M558.4 456.3h0M558.6 448.8h0M558.9 456.6h0M559.3 462.5h0M559.6 457.6h0M560 464.8h0M560.1 466h0M560.5 462.3h0M560.9 460.7h0M561 463.9h0M561.3 462.2h0M561.5 458h0M562.4 459.8h0M562.8 467.8h0M562.9 467.5h0M563.4 465.3h0M563.3 462.4h0M563.7 464.7h0M564.2 466.1h0M564.3 466.4h0M565 465.7h0M565.2 457.6h0M565.8 468.6h0M565.7 463.3h0M566.4 449.9h0M566.2 466.6h0M566.6 467.7h0M567.3 464.9h0M567.5 466.4h0M568 465.2h0M567.9 469.4h0M568.7 465.4h0M569.1 469.1h0M569.1 466.6h0M569.5 460.9h0M569.8 464h0M570.2 471.7h0M570.3 457.2h0M570.8 461.5h0M571.2 466.3h0M571.6 474h0M571.6 457.4h0M572 463.6h0M572.4 466.2h0M573 467.2h0M573.2 464.2h0M573.6 467.4h0M573.7 467.1h0M574.1 466.9h0M574.4 472.5h0M574.5 471.7h0M574.9 468.3h0M575.2 466.5h0M575.8 467.5h0M576 458.7h0M576.3 468.8h0M576.8 474.2h0M577 473.8h0M577.3 470.6h0M577.8 465.5h0M578.3 472.3h0M578.4 463.8h0M578.6 457.7h0M578.8 466.5h0M579.4 473.2h0M579.5 475.2h0M579.7 477.3h0M580.4 473h0M580.5 471h0M580.9 474h0M581.4 470.7h0M581.7 472.1h0M582.1 463.2h0M582.3 467.9h0M582.8 476.2h0M583.1 472.8h0M583.5 471.7h0M583.6 476.7h0M584.1 469.8h0M584.4 470.1h0M584.4 474.3h0M585 475.9h0M585.5 475.1h0M585.6 457.2h0M585.9 476.2h0M586.4 474.8h0M586.7 471.5h0M587.3 475.9h0M587.2 475.6h0M587.4 474.7h0M588 461.6h0M588.3 475.6h0M588.4 477.8h0M589 464.1h0M589.5 475.9h0M589.6 477.8h0M589.8 473h0M590.2 470.7h0M590.5 474h0M590.9 476.8h0M591.5 475.8h0M591.6 454.4h0M591.7 477.2h0M592.2 476.7h0M592.6 478.5h0M592.7 475.6h0M593.3 474.1h0M593.5 476.9h0M593.9 478.9h0M594.2 474.8h0M594.5 478.2h0M595.1 476.4h0M595.3 480h0M595.7 473.6h0M595.9 480.2h0M596.3 478.3h0M596.4 479.6h0M596.8 480.6h0M596.9 479.2h0M597.6 481.4h0M597.8 475.3h0M598.2 476.6h0M598.4 481.4h0M598.8 479.5h0M599.4 485.2h0M599.8 483.5h0M600 478.3h0M600.1 478.4h0M600.6 478.1h0M601 465.9h0M601.1 484.1h0M601.5 476.4h0M601.9 479h0M602 482.3h0M602.6 483.2h0M602.8 491.4h0M603 511h0M603.3 479.9h0M603.4 507.2h0M603.4 480.7h0M603.9 471.2h0M604 480.6h0M604.4 503.3h0M604.6 481.6h0M604.7 479.8h0M605 498.6h0M605.1 487.1h0M605.2 463h0M605.7 507.4h0M606 490.5h0M606 503.2h0M606.2 482.9h0M606.6 488.5h0M606.9 486.9h0M607 485.6h0M607.5 480.6h0M607.7 507.3h0M607.9 469.8h0M608 503.2h0M607.9 478.4h0M608.6 489.5h0M608.7 482.1h0M609.1 478.4h0M609.4 485.2h0M609.6 502.9h0M609.8 487.6h0M610.2 485.4h0M610.3 484.6h0M610.5 488.2h0M611.1 473.3h0M611.4 486.7h0M611.6 511.3h0M611.7 485.6h0M612 481.5h0M612.4 484.3h0M612.6 487.5h0M613.2 477.7h0M613.3 503.1h0M613.5 481h0M613.6 507.1h0M613.7 487.2h0M614.2 484.8h0M614.3 497.8h0M614.7 480.6h0M614.6 489.4h0M615.1 483.1h0M615.2 487.2h0M615.5 491.9h0M616 486.6h0M616.1 487.9h0M616.6 484h0M616.9 498.5h0M616.9 485.7h0M617.2 495.1h0M617.9 479.9h0M617.9 498.1h0M617.8 477.4h0M618.2 498.3h0M618.4 493.8h0M618.5 493.1h0M618.9 503h0M619.1 483.4h0M619.2 511.6h0M619.4 487.9h0M619.7 491.1h0M619.8 489.3h0M620.4 493.3h0M620.5 498.9h0M620.6 491.3h0M620.9 487.8h0M621.2 503.5h0M621.4 482h0M621.6 479.3h0M622.2 469.8h0M622.2 498.2h0M622.5 491.4h0M622.7 483.8h0M622.9 489.3h0M623.4 472.5h0M623.8 486.9h0M624.2 491.8h0M624.2 502.8h0M624.2 489.9h0M624.5 485.8h0M625 487.5h0M625.4 488.4h0M625.5 502.9h0M625.8 490.5h0M625.8 503.2h0M626.1 494.2h0M626.1 487h0M626.6 492.9h0M626.8 503.2h0M626.9 497.7h0M627.1 503.1h0M627.2 487.3h0M627.6 494.5h0M627.8 503.2h0M628.1 491.2h0M628.1 511.1h0M627.9 498.3h0M628.5 498.2h0M628.9 487.1h0M629.1 502.6h0M629.2 498.4h0M629.4 498h0M629.8 498.4h0M630 490h0M630.1 511.5h0M630.1 495.3h0M630.4 498.8h0M630.7 478.4h0M631 483.8h0M631 486.5h0M631.5 487.2h0M631.7 491.7h0M632.5 498.2h0M632.7 497.7h0M632.8 485.4h0M633.3 498.8h0M633.4 498.1h0M633.7 492.3h0M633.4 488h0M634.1 503h0M634.5 495.1h0M634.4 507.1h0M634.7 498.6h0M635 498.5h0M635.3 488.1h0M635.5 481.8h0M635.8 494.6h0M636 498.7h0M636 491.6h0M636.4 507h0M636.6 498.8h0M636.8 498.6h0M637.2 498.7h0M637.3 498.7h0M637.7 498.1h0M637.9 490.1h0M638.2 498.2h0M638.3 503.3h0M638.5 498.7h0M638.8 495.9h0M639 498.6h0M639.3 494.7h0M639.7 491.2h0M639.8 499h0M640 511h0M640 493.8h0M640.3 503.5h0M640.7 498h0M640.8 491.1h0M641 502.5h0M641.1 498.2h0M641.6 503.2h0M641.6 507.4h0M641.7 494.1h0M642 489.6h0M642.3 511.6h0M642.4 498.6h0M642.7 493.2h0M643 498.8h0M643.4 503.6h0M643.8 497.7h0M644 498.5h0M644.3 511.2h0M644.5 494.8h0M644.7 498.3h0M645.1 497.5h0M645.3 495.4h0M645.9 498.8h0M646.5 498.4h0M646.3 498.7h0M646.6 498.5h0M646.6 503.3h0M647.1 498.3h0M647.3 498.4h0M647.9 492.8h0M647.9 507h0M648.1 494h0M648.3 498.2h0M648.9 498.5h0M649.1 511.1h0M649.4 498.6h0M649.8 490.6h0M650 503.3h0M650.5 493.7h0M650.8 498.1h0M650.9 503.7h0M651 503h0M651.2 511.2h0M651.4 498.6h0M651.5 503.5h0M651.8 498.2h0M652 498.3h0M652.3 503.3h0M652.7 490.8h0M653.1 498.4h0M653.4 503h0M653.7 503h0M653.9 511h0M653.9 503.3h0M654.2 507.5h0M654.4 493h0M654.7 503.4h0M654.8 503.1h0M655.2 492.7h0M655.8 503.5h0M655.8 506.9h0M656.2 498.1h0M656 492.4h0M656.7 498.7h0M656.9 495.3h0M657.4 506.8h0M657.5 498.6h0M658 497.1h0M658.5 492.4h0M658.6 498h0M659.2 498.3h0M659.4 499.2h0M659.4 503h0M660 498.5h0M660.1 503.1h0M660.6 490.6h0M660.9 507.3h0M661.1 498.2h0M661.4 502.9h0M661.7 495h0M661.8 511.3h0M662 498.3h0M662.1 507.3h0M662.4 507.2h0M662.7 507h0M662.8 507.2h0M663.1 507.5h0M663.1 486.6h0M663.6 503.1h0M663.8 511.5h0M664.1 503.2h0M664.4 502.6h0M664.4 503.3h0M664.7 498.1h0M665 507h0M665.1 499h0M665.1 502.6h0M665.4 502.7h0M665.7 511.3h0M665.8 498.2h0M666.1 511.4h0M666.5 503.2h0M666.6 498.7h0M666.8 497.9h0M667.1 498.4h0M667.2 506.9h0M667.4 498.3h0M667.5 503.2h0M667.8 502.9h0M668 498.4h0M668.3 503.5h0M668.4 498.3h0M668.9 502.8h0M669 507.4h0M669.2 502.4h0M669.4 511.4h0M669.3 503h0M669.8 511.1h0M670.3 503.7h0M670.4 503.3h0M670.7 503.2h0M670.8 503.3h0M671 498.5h0M671.3 502.5h0M671.3 511.1h0M671.9 498.4h0M672.1 498.1h0M672.3 499.1h0M672.4 507h0M673.1 503.2h0M673 485.5h0M673.3 498.4h0M673.2 503h0M673.7 506.9h0M674 503.4h0M674 507.4h0M674.4 503.9h0M675 502.9h0M675 503h0M675.4 511.2h0M675.9 507.2h0M676 497.8h0M676.1 503.5h0M676.3 510.6h0M676.4 502.7h0M676.6 507.2h0M677 510.9h0M677.2 507.6h0M677.4 503.1h0M677.8 503.3h0M677.9 498.5h0M678 506.9h0M678.3 511.1h0M678 502.5h0M678.9 511.5h0M679.2 511.1h0M679.3 502.7h0M679.5 502.6h0M679.9 503.4h0M680.1 506.8h0M680.5 507.4h0M680.8 503h0M680.7 507.6h0M681.3 498.1h0M681.6 503.2h0M681.7 504.1h0M681.9 503.1h0M682.2 507.3h0M682.2 506.8h0M682.2 507h0M682.6 511.2h0M682.6 503.4h0M683.1 479.8h0M683.3 510.8h0M683.6 506.9h0M683.5 503.1h0M683.5 511.2h0M684.2 498.2h0M684.7 502.9h0M684.6 507.3h0M685 511.6h0M685.5 503.2h0M685.7 511h0M686.1 507.7h0M686.2 506.9h0M686.5 506.9h0M686.7 498.8h0M686.8 509.8h0M687.2 510.6h0M687.7 511.2h0M687.7 506.8h0M688.3 507.7h0M688.5 511.3h0M688.6 505.3h0M688.8 511h0M688.9 511.1h0M689.5 511h0M690 507.1h0M689.7 493.8h0M690.5 502.9h0M690.7 507.5h0M690.8 511.3h0M690.8 507.1h0M691.6 511.1h0M691.5 510h0M692.1 502.6h0M692.1 507.1h0M692.3 511.2h0M692.5 498.7h0M692.6 506.8h0M692.8 511.9h0M692.9 503.1h0M693.2 498.2h0M693.5 507.2h0M693.8 503.4h0M693.8 511.7h0M693.9 511.3h0M694.1 506.8h0M694.4 507.3h0M694.6 507.8h0M694.8 503.3h0M695 507.3h0M695.4 507.5h0M695.3 511.2h0M695.8 512.2h0M696.1 503.2h0M696.2 502.7h0M696.4 511.1h0M696.6 506.8h0M697 502.9h0M697.1 511.3h0M697.4 498.6h0M697.4 511.2h0M697.9 506.8h0M698.4 507.6h0M698.4 507.6h0M698.5 502.8h0M698.7 510.8h0M698.8 507.5h0M699.2 511.2h0M699.6 507.2h0M699.7 498h0M699.9 509.2h0M700.4 511.2h0M700.4 507h0M700.7 507.3h0M700.9 504.5h0M701.4 502.6h0M701.5 510.5h0M701.7 503.1h0M701.9 507h0M702 511.6h0M702.4 502.9h0M702.3 511.6h0M702.8 511.5h0M703.1 507.3h0M703.6 507.4h0M703.7 507.3h0M704.2 508.5h0M704.6 511.1h0M704.9 511.3h0M705 507.4h0M705.3 507.6h0M705.6 511.4h0M705.7 507h0M705.7 511.4h0M706 511.1h0M705.9 507.9h0M706.3 507h0M706.7 503.3h0M707 510.9h0M707.4 511.2h0M707.7 510.9h0M707.6 511h0M707.8 512.2h0M708.3 511.1h0M708.3 507.5h0M708.4 510.9h0M708.6 503h0M708.9 511h0M709 498.2h0M709.3 512.1h0M709.3 512.1h0M709.3 507.3h0M709.5 511.5h0M709.8 507.8h0M710.3 507.5h0M710.4 507.2h0M710.6 511.3h0M710.6 507.9h0M710.9 507.3h0M711 503.2h0M711.3 507.3h0M711.2 511.3h0M711.9 507.4h0M712.1 499.6h0M712.2 511.3h0M712.6 507.6h0M713.3 511.3h0M713.5 507.8h0M713.6 511.4h0M714.4 511.3h0M714.2 502.9h0M714.4 510.6h0M714.8 511.4h0M714.9 511.1h0M715.1 511.6h0M715.2 511.5h0M715.5 511h0M715.6 510.7h0M715.7 511.1h0M716.1 511.2h0M716.2 507.6h0M716.2 511.3h0M716.6 507.3h0M716.8 507.4h0M716.8 502.6h0M717.1 503.1h0M717.6 511.5h0M717.9 507h0M718.1 511.2h0M718.2 507.6h0M718.4 511.1h0M718.7 511.7h0M718.9 507.8h0M719.2 511.3h0M719.3 510.8h0M719.7 502.6h0M719.9 507.6h0M720.3 511.4h0M720.3 511.2h0M720.7 511.2h0M720.8 507.8h0M721.1 511.5h0M721.2 510.7h0M721 511.9h0M721.5 498.8h0M721.7 510.9h0M721.8 498.5h0M721.9 507.4h0M722.1 512.2h0M722.9 507h0M722.8 503.6h0M723.1 511.1h0M723.5 509.4h0M723.5 511.6h0M723.8 511.6h0M723.9 511.6h0M724.3 511.7h0M724.6 512h0M724.8 498.7h0M725 510.8h0M725.1 510.9h0M725.4 510.8h0M726 510.7h0M726.2 511.3h0M726.6 506.9h0M726.8 511.3h0M727.1 506.9h0M727.3 512h0M727.5 511.5h0M728.1 491.3h0M728.3 511.2h0M728.6 511.1h0M729 512.2h0M729.1 511.4h0M729.2 511h0M729.5 511.6h0M729.8 498.7h0M729.8 509.6h0M730.1 507.5h0M730.3 505.4h0M730.8 511.4h0M730.7 498.3h0M730.8 511.1h0M731.5 503.1h0M731.4 511.3h0M732 511h0M732.1 497.9h0M732.1 511.5h0M732.4 506.8h0M732.3 511h0M732.9 503.1h0M733.2 511.6h0M733.3 503.3h0M733.7 511.2h0M733.8 512.2h0M734.1 512.2h0M734.4 511.6h0M734.7 511.4h0M735 506.9h0M735.4 511.9h0M735.7 507.3h0M735.6 511.7h0M736.3 507h0M736.4 511.4h0M736.7 507.2h0M736.7 511.4h0M737 502.7h0M737.1 511.4h0M737.4 511.4h0M737.7 503.8h0M738 510.2h0M738 502.9h0M737.7 509.4h0M738.8 512.2h0M738.7 507.7h0M738.5 512.2h0M739 498.2h0M739.3 507.2h0M739.5 511.6h0M739.7 511.1h0M740 504.5h0M740.3 511.4h0M740.9 510.6h0M741 498.1h0M741 511.5h0M741.3 511.6h0M741.7 511.2h0M742 498.1h0M742.3 511.6h0M742.5 511.3h0M742.8 512.2h0M743.2 510.4h0M743.5 510.5h0M743.6 511.3h0M743.6 511.4h0M743.9 497.7h0M743.8 511.2h0M744.3 502.4h0M744.3 511.1h0M744.9 510.9h0M745.2 507.1h0M745.1 511.2h0M745.6 503.1h0M745.6 511.1h0M746 498h0M746.4 511h0M746.6 506.8h0M746.9 511.9h0M746.9 503.4h0M747 510.8h0M747.2 507.6h0" stroke="#000" stroke-width="1.9" stroke-linecap="round" fill="none"/>
<path d="M430.9 507.3h0M431.9 507.3h0M443 511.2h0M444.3 507.6h0M445 507.1h0M451.7 505.4h0M451.9 504.8h0M452.2 512.2h0M454.4 512.2h0M453.2 512.2h0M449.5 511.5h0M454.2 498.5h0M456.5 510.4h0M454 509.7h0M454.3 508.3h0M455.2 503.7h0M452.3 507.4h0M455.5 511.6h0M458.3 506.3h0M455.9 498.3h0M456.9 504.5h0M454.3 504h0M454 501.3h0M456.9 510.7h0M457.7 499.9h0M456.2 497.2h0M457.2 493.8h0M458.1 490.7h0M458.4 487.1h0M458.5 510.7h0M456.4 485.3h0M460.4 483.4h0M458.6 479.5h0M459.5 475.9h0M464.2 472.6h0M460.9 466.3h0M460.8 459h0M461.2 448.5h0M461.2 416.7h0M461.7 401.7h0M461.3 394.2h0M461.7 383.8h0M462.2 374.9h0M463.9 368h0M462.7 361.3h0M463.1 355.5h0M464.5 351.4h0M464.7 347.3h0M463.7 342.1h0M464.9 335.9h0M465.8 332.3h0M465.6 327.7h0M466.4 324.2h0M465.7 320.7h0M466.8 318.8h0M466.3 316.6h0M466.4 314.8h0M467.4 312.4h0M468.1 312.1h0M468.2 312.2h0M468.3 311.6h0M468.3 310.4h0M469.1 309.5h0M469.8 308.9h0M469.9 307.8h0M470.3 308.1h0M470.4 308.6h0M470.3 308.1h0M470.9 308.5h0M471.7 307.5h0M471.8 309h0M472.3 308.6h0M472.6 309.6h0M472.7 310.1h0M472.9 309.9h0M473.8 310.6h0M473.9 311.7h0M474 312.9h0M474.5 314.7h0M474.6 315.6h0M475.3 317.2h0M475.5 318.3h0M475.7 321.8h0M475.9 322.8h0M476.4 324.9h0M476.9 327.9h0M477.2 329.3h0M477.5 331.8h0M477.8 333.7h0M478 336h0M478.4 337.8h0M478.8 339.7h0M479 341.3h0M479.3 344h0M479.9 344.9h0M480.2 346.3h0M480.5 348.2h0M480.8 350.4h0M481.2 352.3h0M481.4 352h0M482 354.5h0M482.1 355.3h0M482.2 356.4h0M482.6 356.7h0M483.1 358.1h0M483.6 361.3h0M483.4 359.3h0M484.4 361.1h0M484.6 361.7h0M484.9 363.1h0M484.9 363.3h0M485.2 365.8h0M485.3 366.3h0M486.1 366.1h0M486.2 365.9h0M486.7 368h0M487.2 370.3h0M487.4 369.6h0M487.7 372.3h0M488.1 370.6h0M488.4 374h0M488.7 372.4h0M488.8 373.8h0M489.4 376.7h0M489.6 374h0M490.5 375.9h0M490.2 377h0M490.7 375.7h0M490.7 381.2h0M491 381.8h0M491.7 378.3h0M492 381.4h0M492.5 382.6h0M492.7 382.7h0M493 381.1h0M493.5 385.2h0M493.5 387.2h0M494 384.2h0M494.1 386.2h0M494.7 386.5h0M495 389.9h0M495.1 388.3h0M495.6 391.8h0M495.6 387.3h0M496 390h0M496.7 391.7h0M496.9 393.2h0M497.1 393.4h0M497.6 394.5h0M498 400.5h0M498.4 397.3h0M498.4 395.7h0M499 391.9h0M499.5 392.4h0M499.5 398h0M500.3 395.1h0M500.3 400.5h0M500.5 397.7h0M500.9 398.2h0M501.3 397.7h0M501.5 396.4h0M501.8 397.4h0M502.4 399.2h0M502.6 395.9h0M503.3 400.5h0M503.3 402.4h0M503.4 403.7h0M504.1 401.2h0M504.4 401.3h0M504.5 405.5h0M504.8 403.4h0M505.1 404.5h0M505.5 408.5h0M505.4 400h0M505.9 408.8h0M506.7 402h0M507 407.5h0M507.1 409.6h0M507.2 405.3h0M507.8 407.8h0M508.1 413.6h0M508.5 410h0M508.7 412h0M509.2 410.8h0M509.5 409.1h0M509.9 411.2h0M510 414.6h0M510.6 412h0M510.7 411h0M511.2 412.5h0M511.5 417.2h0M511.9 417.3h0M512.4 411.2h0M512.6 409.3h0M512.7 412.4h0M513.1 417h0M513.4 419.5h0M513.8 413.7h0M513.9 415.1h0M514.4 417.2h0M514.8 414.2h0M515.2 417h0M515.5 414.7h0M516.1 418.2h0M516.1 416.5h0M516.6 423.5h0M516.8 421.3h0M516.9 418.3h0M517.2 419.5h0M517.7 421.8h0M518 424.4h0M518.2 424.1h0M518.7 428.7h0M519 421.4h0M519.4 421.3h0M519.4 424.3h0M520 425.4h0M520.1 424.3h0M520.7 420.9h0M521 430.2h0M521.5 425.3h0M521.7 423.7h0M522.1 422.9h0M522.3 425.7h0M522.9 426.2h0M522.9 424.7h0M523.4 429.3h0M523.7 428.1h0M523.9 423.9h0M524.3 428.5h0M524.6 431.7h0M524.9 427h0M525.2 426.6h0M525.6 425h0M526 428.4h0M526.2 424.1h0M526.6 433.4h0M526.9 434.8h0M527.3 425.4h0M527.8 432.7h0M527.9 429.4h0M528.3 425.7h0M528.5 431h0M529 432h0M529.3 428.9h0M529.6 432h0M530 430.2h0M530.3 430.3h0M530.6 435.7h0M530.7 435.7h0M531 427.7h0M531.7 428.6h0M531.9 432.7h0M532.3 433.1h0M532.5 432.8h0M532.8 437h0M533.4 434h0M533.6 432.8h0M534.2 434.8h0M534.1 436.5h0M534.6 438.5h0M534.8 437.2h0M535.1 439.3h0M535.6 439.4h0M535.8 433.5h0M536.2 440.4h0M536.3 437.4h0M537 441.6h0M537.2 435.7h0M537.4 435.5h0M537.9 436.8h0M538.2 436.4h0M538.2 443.8h0M538.9 440.5h0M539 443.8h0M539.4 440.4h0M539.7 444.5h0M540.1 439.6h0M540.5 440.1h0M541 442.7h0M541.1 446.8h0M541.4 442.1h0M541.7 447.3h0M542.2 445.7h0M542.6 448.1h0M542.6 445.3h0M543.1 443.5h0M543.6 438.4h0M543.8 439.2h0M544 445.2h0M544.7 447h0M544.7 444.5h0M545.1 445.7h0M545.4 452h0M545.8 448.9h0M545.9 448.7h0M546.5 449.2h0M546.5 445.9h0M547.2 447.2h0M547.3 445.1h0M547.9 447.2h0M548.1 441.6h0M548.1 446.4h0M548.8 443.4h0M549.2 448.3h0M549.5 452h0M549.5 453.4h0M550.1 447.8h0M550.3 441.4h0M550.9 457.8h0M551.1 445.5h0M551.4 450.2h0M551.7 450.6h0M552.1 455.3h0M552.4 447.5h0M552.9 453.4h0M553.3 446.8h0M553.6 453.7h0M553.6 449.8h0M554 447.2h0M554.3 453.8h0M554.7 447.2h0M555 453.7h0M555.1 452.9h0M555.8 451.3h0M556.1 450.3h0M556.3 445.7h0M556.5 448.1h0M556.9 450.4h0M557.2 450.2h0M557.5 449.9h0M557.8 458.1h0M558.3 456.7h0M558.5 455.6h0M558.7 457.6h0M559.2 454.7h0M559.5 458.2h0M560 453.4h0M560.2 455.2h0M560.6 455.4h0M560.8 456.6h0M561.1 447.3h0M561.7 461.3h0M562 458.3h0M562.4 453.4h0M562.6 457.5h0M562.8 454.9h0M563.2 455.3h0M563.7 463.1h0M563.7 459.4h0M564.2 458.5h0M564.5 462.8h0M564.9 434.5h0M565.3 455.8h0M565.5 460.5h0M565.9 463.9h0M566.1 457.9h0M566.5 456.9h0M566.6 456.3h0M567 462.3h0M567.6 456h0M567.9 458.1h0M568.1 458.4h0M568.4 464.7h0M568.7 452.8h0M569.1 466.3h0M569.5 453.4h0M569.5 460.6h0M570.4 463.7h0M570.5 455.2h0M570.9 458.4h0M571.3 461.7h0M571.5 429.6h0M571.8 459.2h0M571.9 456.9h0M572.1 461.8h0M572.8 461.2h0M573.2 458.2h0M573.5 460.9h0M574 464.8h0M574 462h0M574.4 458.8h0M574.9 464.9h0M575.2 451.6h0M575.6 465.5h0M575.6 459.6h0M576.2 465.5h0M576.9 462.7h0M576.8 463.8h0M577 450.4h0M577.6 463.1h0M578 466.4h0M577.7 461.2h0M578.3 467.1h0M578.8 461h0M579 462.1h0M579.5 469.6h0M579.9 468.5h0M580.1 464.8h0M580.5 466.8h0M580.6 473.8h0M581.4 473.6h0M581.2 466.2h0M581.6 467.7h0M582.2 472h0M582.5 471.4h0M582.9 469.5h0M583.1 471.4h0M583.4 454.3h0M583.8 474.1h0M584 469h0M584.2 467.7h0M584.9 468.1h0M585 470h0M585.5 463.9h0M585.7 466.9h0M586.1 466.6h0M586.5 471h0M586.6 453.5h0M587.2 466.8h0M587.3 472.3h0M588 468.4h0M588 472h0M588.4 471.3h0M588.6 470.3h0M588.8 465.9h0M589.5 464.1h0M589.5 469.7h0M590.2 471h0M590.3 469.7h0M590.4 469h0M590.9 463.7h0M591.6 445.5h0M591.6 478.1h0M591.8 479.8h0M592.5 470.9h0M592.6 474.7h0M593 472.9h0M593.2 469.2h0M593.7 473.9h0M594 470.8h0M594.2 467.9h0M594.8 473h0M595 472h0M595.2 473.8h0M595.4 476.9h0M595.8 471.7h0M596.1 470.7h0M596.8 452.5h0M596.8 478.3h0M597.2 471.4h0M597.6 471.9h0M598.2 468.4h0M598.4 474.9h0M598.8 473.9h0M598.9 477.8h0M599.2 466.1h0M599.6 463.5h0M599.9 461.2h0M600.3 477.8h0M600.6 472.6h0M601.1 475h0M601.1 479.2h0M601.6 471.3h0M601.8 471.8h0M602.1 470.1h0M602.7 478.1h0M602.9 474.5h0M603.3 474.6h0M603.4 475.4h0M603.9 473.6h0M604.2 473.8h0M604.5 477.9h0M605 450.4h0M605.2 481.4h0M605.5 478.2h0M605.9 466.1h0M606.4 470.7h0M606.2 477.5h0M607 484h0M607.2 470.9h0M607.5 477.2h0M607.6 476.4h0M608 478.4h0M608.5 475.7h0M608.9 478.1h0M609.3 476.1h0M609.3 476h0M609.7 476h0M610.2 481.5h0M610.4 478.5h0M610.7 476.1h0M611.1 476.8h0M611.2 477.9h0M611.5 474.2h0M611.9 474.1h0M612.4 481.4h0M612.7 478.1h0M613.1 480.6h0M613.2 477h0M614 477.6h0M614.2 481.2h0M614.6 488.6h0M614.8 480.4h0M615.1 479.8h0M615.4 482.5h0M615.5 478.5h0M615.9 483.5h0M616.4 478.5h0M616.9 485.8h0M617.1 473.4h0M617.6 482.7h0M617.6 474.9h0M618.3 474.8h0M618.1 472.7h0M618.7 480.7h0M619.1 487.3h0M619.2 479.8h0M619.7 481.6h0M619.9 480.5h0M620.4 479.8h0M620.7 483.4h0M621 478.9h0M621.2 490.3h0M621.6 479.4h0M621.9 479.4h0M622.1 478h0M622.5 476.7h0M622.7 486.4h0M623.4 482h0M623.5 461.3h0M624.1 481.6h0M624.4 481.7h0M624.5 482.7h0M624.9 477h0M625.4 484.4h0M625.8 479.5h0M625.7 479.4h0M626.1 479.1h0M626.7 485.5h0M626.9 485.2h0M627.2 480.5h0M627.8 487.1h0M627.9 481.8h0M628.3 485.9h0M628.5 477.8h0M629.1 489.4h0M629.6 487.1h0M629.6 465.3h0M629.7 480.6h0M630.1 507.4h0M630.3 480.1h0M630.5 475.2h0M630.8 506.8h0M630.8 481.2h0M631.2 482.7h0M631.7 481.9h0M631.9 476.1h0M632.1 498h0M632.2 483.3h0M632.3 477.6h0M632.6 482.1h0M633.2 485h0M633.8 488.1h0M633.7 483.8h0M634.1 511.2h0M634 484.1h0M634.7 485.7h0M634.8 486.9h0M635.1 493.5h0M635.4 507.4h0M635.5 488.3h0M636 482.5h0M636.1 502.7h0M636.2 482.6h0M636.7 483.1h0M636.9 478.9h0M637 507h0M636.8 481.5h0M637.4 492.2h0M637.8 481.5h0M637.8 483.2h0M638.4 506.5h0M638.5 487.7h0M638.7 489.8h0M639.3 479.7h0M639.4 490h0M639.7 490.7h0M640.3 476h0M640.3 511.1h0M640.6 487.3h0M640.7 510.8h0M640.8 484.5h0M641 481.3h0M641.4 487.6h0M642 484.3h0M642.2 478.8h0M642.5 495.3h0M642.9 488.3h0M643.1 485.4h0M643.3 507.1h0M643.4 485.2h0M643.6 498.6h0M643.8 491.2h0M644 486.5h0M644.5 481.3h0M645 498.2h0M645 484.5h0M645.5 482.8h0M645.6 498.2h0M645.9 490.7h0M646 502.8h0M645.8 491.5h0M646.5 483.1h0M646.8 491.4h0M647.1 472.6h0M647.5 492h0M647.7 487.9h0M648.2 492.7h0M648.5 467.7h0M648.5 480.3h0M648.9 507.1h0M648.9 484.2h0M649.3 512h0M649.5 491.5h0M649.4 489.1h0M649.8 483.1h0M650.5 486.6h0M650.6 507.4h0M650.7 498.7h0M651.3 498.6h0M651.6 488.4h0M651.6 511.7h0M651.4 498.3h0M652 490.5h0M652.5 494.1h0M652.5 493.1h0M652.8 490.4h0M653.3 488.9h0M653.9 498.4h0M653.9 485.9h0M654.5 503h0M654.5 503.2h0M654.6 486.5h0M655.1 468.4h0M655.2 502.9h0M655.5 498.6h0M655.7 491.2h0M655.9 498.6h0M656 492.9h0M656.2 507.7h0M656.3 494.5h0M656.7 490.8h0M656.9 489.6h0M657.4 485.8h0M657.6 491.5h0M658.1 498.4h0M658.3 480.8h0M658.9 488.8h0M658.8 510.5h0M658.7 494.7h0M659.2 492.7h0M659.6 492.2h0M660 486.4h0M660.1 498.6h0M660.7 497.7h0M660.9 487.4h0M661.1 507.4h0M661.3 498.4h0M661.5 503h0M661.8 490.3h0M661.8 498.2h0M661.8 484.7h0M662.1 511.2h0M662.3 486.7h0M662.5 511.1h0M662.6 490.8h0M662.8 494.8h0M663.1 506.9h0M663.3 492.3h0M663.8 492.8h0M664 490.8h0M664.1 507.4h0M664.2 488.4h0M664.7 492.4h0M664.7 489.9h0M665.1 507.1h0M665.2 498.4h0M665.4 485.8h0M665.8 498.1h0M666.1 490.2h0M666.1 503.2h0M666 498.2h0M666.5 493.3h0M667 498.3h0M667.3 494.9h0M667.4 503h0M667.7 492h0M667.7 486h0M668.2 498.8h0M668.4 511h0M668.6 498.2h0M668.7 489.6h0M669.1 503.4h0M669.2 494.2h0M669.6 494.5h0M669.8 491.5h0M670 502.8h0M670.2 498.2h0M670.2 486.4h0M670.7 506.9h0M670.8 492.7h0M671.2 491.4h0M671.5 491.1h0M671.7 491.9h0M672 495.7h0M672.5 498.8h0M672.7 507.7h0M672.7 482.4h0M673 507.2h0M673.2 492.1h0M673.4 497.8h0M673.9 498.3h0M674 503.5h0M674 498.4h0M674.5 499h0M674.8 494.6h0M675 502.9h0M674.9 481.5h0M675.6 494.4h0M675.7 495.1h0M676.2 492.8h0M676.2 498.7h0M676.7 495.4h0M677.1 498.6h0M677.7 489.7h0M677.6 502.6h0M678.1 489.9h0M678 507.7h0M678.1 497.7h0M678.4 493.6h0M678.6 498.8h0M678.5 495.4h0M679.2 498.5h0M679.3 497.8h0M679.4 503.2h0M679.7 498.3h0M680.3 498h0M680.3 493.6h0M680.7 498.7h0M681 498.5h0M681.3 507.1h0M681.2 490.2h0M681.6 506.7h0M681.8 491.6h0M682.3 498.8h0M682.4 498h0M682.6 498.1h0M683.1 502.7h0M683.5 498.9h0M683.7 490.9h0M683.9 507.7h0M683.9 493.8h0M684.7 493.1h0M684.7 492.3h0M685 498.7h0M685.6 495.4h0M685.6 511h0M685.9 498.5h0M686.3 498.5h0M686.6 492.8h0M686.4 498.3h0M686.9 498h0M687.2 503.2h0M687.4 492.1h0M687.7 498.1h0M688 494.3h0M688.4 498.4h0M689 498.5h0M688.7 498.9h0M689.3 495.3h0M689.6 500.7h0M689.8 503.4h0M689.9 503.5h0M690.5 498.6h0M690.5 511.3h0M690.7 498.5h0M690.8 511h0M690.9 503.2h0M691.3 498.5h0M691.5 498.4h0M691.5 493.5h0M691.7 502.9h0M692.2 507.5h0M692 491.6h0M692.6 498.3h0M692.8 498.6h0M693.1 504.7h0M693.3 498.1h0M693.7 498.7h0M693.7 495.1h0M694.4 507.6h0M694.4 502.8h0M694.9 495.6h0M695.1 507.3h0M695.3 502.2h0M695.7 498.7h0M696 503.7h0M696.1 498.2h0M696.5 498.5h0M696.4 498.2h0M696.6 503.3h0M696.9 502.9h0M697.1 503.1h0M697.3 503.5h0M697.6 503.4h0M697.7 498.6h0M698.1 498.2h0M698.5 498.7h0M698.8 498.5h0M698.6 503.2h0M699.3 507.5h0M699.6 498.2h0M699.7 507.2h0M700 498.6h0M700.2 498.7h0M700.4 503.3h0M700.6 498.6h0M700.9 500.1h0M701.1 490.7h0M701.4 503h0M701.6 489.1h0M701.9 508.1h0M702.3 498.5h0M702.4 498.3h0M702.6 503.4h0M702.7 507.3h0M702.9 503.1h0M703 507.2h0M703.7 498.5h0M703.7 503.2h0M703.5 503h0M703.8 502.7h0M704.4 503.3h0M704.6 498.8h0M704.8 508.6h0M705 502.8h0M705.7 498.9h0M705.7 502.8h0M706 506.9h0M706.4 503.1h0M706.2 498.4h0M706.6 503.4h0M707.3 498.6h0M707.4 498.6h0M707.9 492.7h0M708.2 493.9h0M708.6 498.8h0M708.7 498.1h0M708.7 494.4h0M708.9 497.9h0M709.5 503.3h0M709.7 498.3h0M710 503.1h0M710.1 497.9h0M710.3 511h0M710.2 502.5h0M710.8 507.2h0M711.1 498h0M711.3 506.7h0M711.4 492.3h0M711.6 498.5h0M711.9 503h0M712 503.6h0M712.8 503h0M712.7 498.2h0M712.9 507.3h0M713.2 498h0M713.3 507.2h0M713.4 503.5h0M713.6 510.8h0M713.7 497.8h0M713.9 507.4h0M714.2 507.4h0M714.4 503.3h0M715 503.1h0M715.1 503.2h0M715.5 506.9h0M715.7 502.6h0M716 498.4h0M716.2 503.1h0M716.4 498.2h0M716.7 505.3h0M716.9 511.1h0M717 493.7h0M717.3 503.3h0M717.6 499.2h0M717.8 503.2h0M717.8 502.8h0M718.2 507.5h0M718.4 498.5h0M718.6 507.2h0M718.9 498.2h0M719.1 503.5h0M719.3 502.8h0M719.6 503.9h0M720 503.3h0M720.2 503.5h0M720.7 500h0M720.9 507.2h0M721.3 498.2h0M721.3 507.3h0M721.9 511.3h0M721.6 502.7h0M722.2 498.5h0M722.3 502.7h0M722.5 511.2h0M722.4 506.3h0M722.8 511.5h0M723 507.1h0M723.2 510.9h0M723.2 507.5h0M723.5 511.1h0M723.3 500.4h0M723.8 498.2h0M724 507h0M724.3 495.2h0M724.8 502.9h0M724.7 502.9h0M725.2 503.1h0M725.6 502.9h0M725.9 504.5h0M726.1 511h0M726.2 507h0M726.7 498.4h0M726.9 498.1h0M727.4 507.9h0M727.4 510.8h0M728.1 503.2h0M728.1 511h0M728.3 503h0M728.6 507.1h0M728.8 503.1h0M728.7 507.5h0M729.1 502.8h0M729.4 507.5h0M729.5 503.2h0M729.8 503.3h0M730 503h0M730.3 503.4h0M730.4 507.3h0M730.6 503.1h0M730.9 504.4h0M731.3 494.6h0M731.5 507.2h0M731.9 502.7h0M732.1 507h0M732.5 507.1h0M732.9 498.7h0M733.4 507.2h0M733.6 503.4h0M733.7 502.9h0M733.7 504.7h0M734 511.2h0M734.4 495h0M734.7 498.2h0M735.2 506h0M735.1 498.5h0M735.1 507h0M735.4 503h0M735.6 507.2h0M736.2 511.1h0M736.1 507.3h0M736.9 511.1h0M737 503.1h0M737.3 495.1h0M737.4 507h0M737.5 506.8h0M737.5 511.6h0M738 498.1h0M738 504.7h0M738.5 511.5h0M738.6 510.6h0M739 502.8h0M739.3 507.3h0M739.2 511.3h0M739.9 503.7h0M739.9 507.4h0M740.4 511.5h0M740.7 503.7h0M740.6 503.4h0M741 511.3h0M740.9 505.8h0M741.3 507.7h0M741.4 511.4h0M741.9 511.4h0M742 507.3h0M742.3 498.5h0M742.2 507.2h0M742.8 507.6h0M743.4 511h0M743.3 507.1h0M743.6 511.4h0M744 511.6h0M744.1 506.9h0M744.3 506.7h0M744.3 503h0M744.8 507.5h0M745 511.3h0M744.7 507.1h0M745.3 507.9h0M745.3 511.2h0M745.9 511.3h0M745.9 507.3h0M746 507.2h0M746.2 503.6h0M746.8 503.1h0M747.1 507.9h0" stroke="#cc44f4" stroke-width="1.9" stroke-linecap="round" fill="none"/>
<path d="M433.5 505.2h0M435.1 507.3h0M437.8 500.2h0M438.5 511.2h0M440 507.3h0M440.8 511.2h0M441.2 507.3h0M443.5 511.2h0M445.8 511.2h0M446.6 511.2h0M450.2 499.7h0M453.8 512.1h0M451.6 512.2h0M454.5 510.5h0M453.9 511.3h0M453.5 511.4h0M453.8 511.1h0M454.6 503.3h0M455.1 509.4h0M458.8 508.2h0M457.1 508.2h0M457.3 506.4h0M456.5 504.5h0M456 503h0M457.3 502.6h0M456.9 502.8h0M459.8 499.5h0M457.3 496h0M457.6 506.8h0M455.6 493h0M458.5 490.1h0M458.6 487h0M457 484.3h0M457.8 482.3h0M456.1 479.9h0M460.5 476.3h0M459.6 472.3h0M459.9 465.5h0M460.5 458.5h0M460.7 446.4h0M461.2 413h0M461.4 399.9h0M462.6 392.8h0M462.1 382.8h0M462.6 375h0M462.9 365.9h0M464 360.2h0M463.9 354.6h0M464.5 350.5h0M464.4 346.5h0M464.5 341.1h0M463.4 336.1h0M465.3 331.8h0M465.5 327.3h0M466.1 323.6h0M466.3 319.7h0M466.6 318h0M466.9 315.4h0M467.4 314h0M468 313.9h0M467.7 312.1h0M468.4 311.1h0M468.4 310.3h0M468.6 308.7h0M469 309h0M469 309.6h0M470.2 308.1h0M470.2 308h0M470.6 308.4h0M471.3 307.9h0M470.8 308.9h0M471.5 308.7h0M472 308.2h0M472.3 308.8h0M472.6 309.2h0M472.7 309.8h0M473.4 310.3h0M473.6 311.2h0M473.8 312.4h0M474.1 313h0M474.6 313.9h0M475 315.6h0M475.3 316.9h0M475.7 319.3h0M475.6 321.5h0M476.1 323h0M476.7 325.1h0M477 327.6h0M477.3 330.4h0M477.2 332.1h0M477.8 334.6h0M478.4 336.6h0M478.9 338.2h0M478.8 340.2h0M479.1 341.7h0M479.6 343.2h0M479.9 345.6h0M480 347.1h0M480.2 349.3h0M480.7 350.7h0M480.9 352.3h0M481.4 353.4h0M481.7 354.8h0M482 355.6h0M482.1 356h0M482.4 358.2h0M483.1 357.2h0M483.4 359.1h0M483.7 358.3h0M484.2 359.1h0M484.1 360.7h0M485.1 361.4h0M485.1 362h0M485.5 361.8h0M485.7 363.5h0M486.1 365.5h0M486.7 365.6h0M486.8 365.2h0M487.3 368.4h0M487.5 367.1h0M487.8 369.8h0M488.1 368.7h0M488.3 370h0M488.8 372.3h0M488.8 370.6h0M489.5 372.2h0M489.9 374.5h0M489.9 373.9h0M490.3 373.8h0M490.8 375.3h0M491.1 377.1h0M491.2 375.3h0M491.5 378.7h0M491.9 377.1h0M492.5 377.9h0M492.5 378.6h0M492.9 381.8h0M493.1 381.3h0M493.7 381.6h0M493.8 378.9h0M494.3 381.4h0M494.3 380.9h0M495.1 382.2h0M495.4 383.1h0M495.7 384.9h0M495.8 385.4h0M496.5 385.2h0M497 384.9h0M497.2 384.8h0M497.2 386.2h0M497.5 385.8h0M498 387.2h0M498.1 387.4h0M498.5 388.2h0M499 388.8h0M499.4 390h0M499.4 389.1h0M500.1 390.4h0M500.2 389.8h0M500.6 388.5h0M501 389.2h0M501.2 392.3h0M501.6 394.4h0M501.9 390.9h0M502.1 392.1h0M502.5 389.1h0M502.7 393.9h0M503.4 398.2h0M503.4 389h0M504 394.8h0M504.4 394.9h0M504.5 399.8h0M505 398.3h0M505.3 394.8h0M505.5 394.2h0M505.8 396.1h0M506.2 397.9h0M506.4 397.3h0M506.8 398h0M507.4 402.7h0M507.5 395.9h0M507.9 401.9h0M508.4 399.4h0M508.3 400.8h0M508.9 398.9h0M509.3 403h0M509.4 398.3h0M509.7 400.9h0M510.1 403.7h0M510.5 401.7h0M510.8 399.2h0M511.3 403h0M511.4 403.7h0M512 407.8h0M512.2 403.1h0M512.3 405.4h0M512.6 404h0M513 407h0M513.3 404h0M513.7 402.7h0M513.8 407.3h0M514.3 404.5h0M514.9 405.6h0M515 406.8h0M515.5 412h0M516 410.5h0M516.1 412.7h0M516.5 407.8h0M516.9 409.4h0M517.2 409h0M517.2 414.8h0M517.9 408.9h0M517.9 412.1h0M518.5 411.4h0M519 414.3h0M518.8 414.3h0M519.1 409.8h0M519.9 412.6h0M520.1 410.1h0M520.3 413.6h0M520.9 411h0M521.2 411.3h0M521.4 415.1h0M521.4 414.7h0M522.1 412.3h0M522.3 415.3h0M522.8 415.2h0M523.1 413.1h0M523.2 413.9h0M524 420.7h0M523.8 421.6h0M524.6 423.1h0M524.7 421.1h0M525 417h0M525.3 420.3h0M525.7 421.5h0M526 418.9h0M526.4 420.4h0M526.6 420.2h0M527.1 422.3h0M527.2 426.3h0M527.7 422.1h0M528 424.3h0M528.3 418.8h0M528.6 424.9h0M529.2 424.7h0M529.4 425.1h0M529.8 420.6h0M530 423.2h0M530.5 424.4h0M530.6 422.2h0M531.1 423.8h0M531.3 426.8h0M531.7 422.5h0M531.9 424h0M532.3 428.8h0M532.7 430h0M532.7 422.1h0M533.3 420.4h0M533.7 424.7h0M533.7 427.3h0M534.2 431.8h0M534.5 428.3h0M534.9 423h0M535.3 432h0M535.3 430.7h0M535.9 424.7h0M536.2 429.3h0M536.8 434.3h0M536.8 428.3h0M536.9 431.8h0M537.4 436.1h0M538 428.9h0M538 430.3h0M538.5 431.6h0M538.7 434.3h0M539.1 429h0M539.4 434.2h0M540 431.7h0M540.4 432.6h0M540.4 431.7h0M540.8 429.7h0M541.2 434h0M541.4 435.1h0M541.9 430.3h0M542.3 435.9h0M542.6 435.8h0M542.7 441h0M543.3 437.8h0M543.3 438.8h0M543.9 429.7h0M544.2 438.5h0M544.3 437.4h0M544.8 437.5h0M545.2 436.8h0M545.3 434h0M545.8 440.7h0M546 427.8h0M546.7 438.8h0M546.6 438.3h0M546.7 443.4h0M547.3 439.6h0M547.8 439.9h0M548.2 435.4h0M548.4 439.7h0M548.8 442.1h0M549.2 435.4h0M549.4 438.1h0M549.7 440.7h0M550 442.3h0M550.5 440.1h0M550.8 438h0M551.1 433.8h0M551.6 437.9h0M551.6 438.4h0M552 440h0M552.6 441.9h0M553 442.1h0M553.2 447.6h0M553.3 437.4h0M553.8 450.7h0M553.9 440.9h0M554.4 451.3h0M554.7 439.1h0M555.1 443.9h0M555.5 445.5h0M555.7 445.9h0M556 446.7h0M556.1 447.7h0M556.8 447.9h0M557.1 445.7h0M557.4 443h0M557.9 446.3h0M558 444.5h0M558.3 443.9h0M558.5 447.8h0M558.9 449.4h0M559.3 441.8h0M559.6 445h0M560.2 450.3h0M560.4 444.7h0M560.7 445.9h0M560.9 452.1h0M561.3 444.1h0M561.6 442.2h0M561.7 451.3h0M562.4 446.6h0M562.6 452.2h0M562.7 452.2h0M563.3 454.7h0M563.6 451h0M564.2 453.4h0M564.4 446h0M564.6 449.7h0M565.1 451.4h0M565.3 453.4h0M565.7 446.5h0M565.9 453.6h0M566.3 452.4h0M566.5 457.8h0M567.1 441h0M567.1 458.5h0M567.4 448.3h0M567.8 454.9h0M568.5 450.9h0M568.6 448.9h0M568.6 454h0M569.1 446.3h0M569.5 452h0M570 453.9h0M570.4 452.8h0M570.6 455.3h0M570.7 448.1h0M571.2 455.5h0M571.7 455.4h0M572 451.8h0M572.2 443.4h0M572.6 453.4h0M572.7 451.3h0M573.3 452h0M573.6 452.9h0M573.9 455.4h0M574.1 459.8h0M574.8 451.5h0M574.9 450.7h0M575.2 451.2h0M575.8 447.9h0M575.8 454.9h0M576 455.6h0M576.4 433.7h0M577 453.7h0M577.5 455.7h0M577.4 455.7h0M577.7 455.4h0M577.9 462.4h0M578.4 453.7h0M578.9 459.7h0M579 465.6h0M579.5 457.4h0M579.6 454.7h0M580.1 455.3h0M580.5 443h0M580.8 456.3h0M581.1 458.3h0M581.4 451.5h0M581.7 451.8h0M582.1 463.1h0M582.6 464.9h0M582.9 456.9h0M583.1 457.3h0M583.4 457.1h0M583.5 461.3h0M584.3 463.8h0M584.5 460.2h0M584.8 453.5h0M585 459.8h0M585.4 462h0M585.6 460.1h0M586.1 459.2h0M586.4 460.2h0M586.9 461.7h0M586.9 456.4h0M587.5 465h0M587.8 450.2h0M587.9 462.4h0M588.2 466.9h0M588.9 461.3h0M589 464.2h0M589.2 462.8h0M589.7 468.6h0M590.1 466h0M590.6 464.8h0M590.6 466.8h0M591.1 462.9h0M591.5 441.1h0M591.7 469.7h0M592 464.7h0M592.3 463.6h0M592.6 463.7h0M593 443.7h0M593.5 453.7h0M593.6 467.3h0M593.8 465.6h0M594.6 465h0M594.6 465.6h0M594.8 454.9h0M595.3 466.2h0M595.5 466.4h0M596.2 464.4h0M596.4 466.2h0M596.3 465.2h0M596.9 457.4h0M597.3 466.6h0M597.7 472.8h0M597.9 464h0M598.1 464.4h0M598.8 463.3h0M598.9 464.6h0M599.3 464h0M599.2 455.5h0M599.9 462.7h0M600 468.5h0M600.6 456.1h0M601 468.3h0M601.4 469.2h0M601.4 470.2h0M601.8 466.4h0M602.2 471.3h0M602.5 465.1h0M603.1 475.2h0M603.2 470.3h0M603.8 463.8h0M603.8 465.5h0M604.2 466.2h0M604.4 472.9h0M604.8 466h0M605.2 470.7h0M605.7 468.6h0M605.8 470.5h0M606.1 468.4h0M606.4 472.5h0M606.8 470.2h0M607.3 466.7h0M607.4 461.5h0M608 472.5h0M608.2 467.4h0M608.7 472.4h0M609 473.8h0M609.1 468.6h0M609.7 473.4h0M609.9 469.1h0M610.2 471.8h0M610.6 472.2h0M610.7 476.9h0M611.2 470.2h0M611.6 469.1h0M611.9 470h0M612.2 471.9h0M612.5 469.7h0M612.5 466.7h0M613.2 461.9h0M613.6 469.5h0M613.9 466.3h0M614.3 473.3h0M614.4 474h0M614.8 473.2h0M615.2 476.7h0M615.4 472.2h0M615.8 471.5h0M616.2 470.1h0M616.4 468.1h0M617.1 476.3h0M617 472.8h0M617.5 472.9h0M617.6 478.4h0M617.9 474h0M618.4 473.4h0M619.1 471.8h0M618.7 463.5h0M619.4 470.7h0M619.5 457.9h0M620 479.4h0M620.5 467.5h0M620.7 471h0M621.2 474.2h0M621.5 475.6h0M621.7 481.3h0M621.9 470.2h0M622 475.6h0M622.5 480.6h0M623.2 479h0M623.5 469.9h0M623.5 483.1h0M624.1 478.8h0M624.4 473.4h0M624.6 472.6h0M625 475h0M625.2 476.4h0M625.6 474.5h0M626.2 481.2h0M626.5 474.6h0M626.7 476.5h0M627 473.7h0M627.2 474.5h0M627.5 476h0M628 475.7h0M628.4 469.9h0M628.6 474.8h0M628.8 479.5h0M629.3 469.9h0M630 470.3h0M629.8 477h0M630 481.6h0M630.6 478.6h0M630.7 474.3h0M631.4 475.6h0M631.6 459.2h0M631.7 478h0M632.2 464.9h0M632.6 473.1h0M632.9 478h0M633 484.6h0M633.7 482.9h0M633.9 467.8h0M634.1 472.4h0M634.8 475.8h0M634.9 482.5h0M635.3 479.7h0M635.6 476.9h0M635.9 487.1h0M636.2 482h0M636.5 478.3h0M637.1 479h0M637 473.8h0M637.6 476.9h0M637.9 474.7h0M638.6 476.7h0M638.8 477.9h0M639.1 482.4h0M639.1 479h0M639.5 475.1h0M639.9 477.8h0M640.4 476.3h0M640.6 476.5h0M640.7 477.4h0M641.2 477.5h0M641.6 479.2h0M641.7 484.2h0M642.4 487.4h0M642.6 471.1h0M642.9 482.9h0M643.3 474.1h0M643.4 478.3h0M643.7 476.2h0M644.1 475.6h0M644.5 479h0M644.6 481.2h0M645.3 478h0M645.7 480h0M645.8 485h0M646.2 485h0M646.5 480.3h0M646.6 478.1h0M647.1 481.4h0M647.6 476.9h0M647.7 481.6h0M648.1 480h0M648.6 484.1h0M648.9 482.4h0M649.2 483.1h0M649.3 488.1h0M649.5 463.8h0M650.1 481.2h0M650.3 487.6h0M650.7 484.8h0M651.2 482.1h0M651.2 482.8h0M651.7 477.2h0M652.4 476.6h0M652.1 470.7h0M652.7 485.5h0M653 484.2h0M653.1 483.3h0M653.9 480.2h0M654 478.1h0M654.2 512h0M654.5 483.8h0M654.6 498.4h0M654.7 487.8h0M654.9 498.2h0M655.1 483.2h0M655.3 487.8h0M655.7 480h0M655.9 488.2h0M656.3 486.7h0M656.6 502.6h0M656.6 488.4h0M657.2 486.3h0M657.2 510.7h0M657.5 486.4h0M657.5 488.9h0M658.3 484.6h0M658.2 511.6h0M658.6 484.5h0M658.5 484.8h0M658.9 503.2h0M659 487.3h0M659.2 503h0M659.3 480.9h0M659.6 463h0M660 479h0M660.3 469.1h0M660.5 486.4h0M660.8 503.2h0M661 486.6h0M661.2 502.9h0M661.4 481.6h0M661.5 507.7h0M661.8 487h0M662.3 486.3h0M662.2 503h0M662.5 467.4h0M662.6 480.3h0M662.8 498.5h0M663.2 482.3h0M663.6 493.8h0M663.5 498.4h0M664 486.3h0M664 476.8h0M664.1 482.4h0M664.6 490.7h0M664.9 485.6h0M665.4 486.2h0M665.5 507.4h0M665.7 486.9h0M665.5 487.8h0M666.1 507.5h0M666 491.8h0M666.5 507h0M666.4 486.3h0M667 490.6h0M667.2 486.1h0M667.4 498h0M667.7 493.6h0M667.8 507.1h0M667.9 489.8h0M668.2 483.9h0M668.6 491.1h0M668.8 510.5h0M668.9 470.2h0M669.5 482.2h0M669.7 487.3h0M669.8 491.8h0M670.1 490.5h0M670.4 484.1h0M670.9 486.6h0M671.1 498.3h0M671.2 484.9h0M671.4 492.2h0M672.2 498.5h0M672 489.2h0M672.3 488.8h0M673.1 488h0M673.1 487.8h0M673.4 511.2h0M673.4 480.5h0M673.7 511h0M673.9 487.5h0M674.4 486.2h0M674.4 503h0M674.3 488.7h0M674.7 511.4h0M674.6 481.4h0M675 503.5h0M675.3 486.2h0M675.5 490.4h0M675.7 492h0M676.1 477.3h0M676.4 503.3h0M676.6 492.9h0M676.7 492.6h0M677 491.5h0M677.4 471.9h0M678.1 494.4h0M678.3 488.7h0M678.4 494h0M678.9 493.7h0M679.3 489.2h0M679.3 511h0M679.4 484.4h0M679.7 489.9h0M680 477.2h0M680.3 511.4h0M680.5 493.6h0M680.8 490.7h0M681 493.3h0M681.7 484.4h0M681.7 485.4h0M681.8 498.6h0M682.3 492.5h0M682.6 488.2h0M683 487.1h0M683.3 502.4h0M683.3 494.8h0M683.6 498.2h0M683.7 485.9h0M684.2 485.1h0M684.3 493h0M684.6 498.2h0M684.9 489.7h0M685 491.1h0M685.6 493.7h0M685.7 489h0M685.8 499h0M686.5 491.2h0M686.6 511.3h0M687 493.3h0M687.2 489.1h0M687.2 511.4h0M687.5 490.5h0M687.9 492.3h0M687.9 492.4h0M688.2 498.7h0M688.6 511.1h0M688.8 484h0M688.9 498.2h0M688.9 491.4h0M689.2 503.2h0M689.3 487.1h0M689.8 493.7h0M690.1 489.4h0M690.5 488.2h0M690.5 498.3h0M690.6 493h0M690.9 502.9h0M691.1 498.3h0M691.2 502.9h0M691.4 489.2h0M691.8 484.2h0M691.9 503.6h0M691.9 490.2h0M692.2 498.4h0M692.2 487.8h0M692.5 485.4h0M692.9 507h0M692.9 495.2h0M693.2 507.4h0M693.1 489.2h0M693.8 486.5h0M693.8 503.2h0M693.9 493.9h0M694.4 490.8h0M694.8 479h0M694.8 507.4h0M694.9 489h0M695.2 498.1h0M695 493.7h0M695.6 497.5h0M696 492.3h0M696.2 498.2h0M696.7 493.8h0M696.9 492.4h0M697.3 490.5h0M697.5 502.5h0M697.7 492.8h0M698 493.4h0M698.2 489.8h0M698.8 482.3h0M698.8 503.5h0M699 489.8h0M699.3 467.7h0M699.9 498.6h0M699.8 498.8h0M700.1 491.2h0M700.7 499h0M700.8 494.7h0M701.4 492.3h0M701.3 489.7h0M701.8 511.2h0M702.2 494.7h0M702.1 489h0M702.8 499.2h0M702.8 498.4h0M703 498.5h0M703.2 487.1h0M703.4 511h0M703.6 488.5h0M703.7 498.7h0M703.9 488.8h0M704 498.6h0M704.4 502.9h0M704.6 490.7h0M704.7 510.8h0M704.6 498.7h0M705 498.2h0M705.5 493.8h0M705.8 498.6h0M706.1 495.3h0M706.4 503.3h0M706.5 490.6h0M706.7 511.2h0M706.8 499.1h0M707.4 499.5h0M707.4 511.2h0M707.8 498.9h0M707.6 494.2h0M708.3 497.8h0M708.4 498.4h0M708.3 492h0M709.1 489h0M709.1 498.7h0M709.6 494.2h0M709.7 503.3h0M709.8 495.4h0M710.3 495.2h0M710.5 491.4h0M710.9 489.3h0M710.8 502.6h0M711.9 498.6h0M711.7 498.5h0M711.7 498h0M712 507.6h0M712.1 498.6h0M712.5 503.2h0M713.1 491.7h0M713.2 498.3h0M713.3 507.4h0M713.5 498.5h0M713.6 503.5h0M714.4 498.5h0M714.6 499h0M714.9 494.3h0M715.4 500.9h0M715.3 495.3h0M716 486.3h0M716 493.4h0M716.5 493.5h0M716.9 498.6h0M717.1 494.6h0M717.4 495h0M717.7 492.1h0M717.9 511.3h0M718 503.4h0M718.5 498.6h0M718.6 506.9h0M718.8 493.9h0M718.9 511.7h0M719.2 498.3h0M719.5 502.6h0M719.9 498.2h0M719.9 507.4h0M720.3 493.6h0M720.2 511.1h0M720.3 498.4h0M720.8 498.4h0M720.9 511.4h0M720.7 498.6h0M721.2 498.3h0M721.7 498.8h0M721.9 502.8h0M722.1 492.7h0M722.2 498.2h0M722.6 511.2h0M722.6 486.1h0M723.2 494.6h0M723.2 511.6h0M723 488.1h0M723.8 503h0M723.9 511.1h0M724 498h0M724.2 503h0M724.2 502.9h0M724.7 502.7h0M725.2 489.9h0M725.6 503.8h0M725.5 510.8h0M725.7 498.2h0M726.2 501.4h0M726.2 503.2h0M726.3 494.9h0M726.5 511.1h0M726.6 498.4h0M726.7 494.1h0M727.2 498h0M727.4 495.5h0M727.5 498.3h0M727.8 511.5h0M728.1 497.9h0M728.3 494.7h0M728.5 503.4h0M728.6 503h0M728.8 511.1h0M729 498.8h0M729.3 498.6h0M729.6 503.1h0M730.1 503.2h0M730.3 498.4h0M730.8 483.7h0M730.9 498.1h0M731.1 503.1h0M731.3 498.5h0M731.5 504.1h0M731.6 498.1h0M731.9 498.3h0M732.1 507.6h0M732.3 502.9h0M732.6 498.9h0M733.1 503.1h0M733.1 511h0M733.5 498.4h0M733.4 502.7h0M733.4 498h0M734.1 503.2h0M734.4 507.4h0M734.4 507.6h0M734.6 503.6h0M735.2 498.3h0M735.4 498.6h0M736 507.7h0M736.4 503.6h0M736.5 502.9h0M736.9 489h0M737.1 511.6h0M737.2 498.4h0M737.5 502.9h0M737.9 507.7h0M738.1 511.2h0M738.1 508h0M738.2 507.6h0M738.8 493.1h0M739 486.4h0M739.5 498.4h0M740 502.9h0M740 503.2h0M740.2 503.1h0M740.5 498.5h0M741 498.4h0M740.9 498.2h0M741.5 511.4h0M741.8 498.4h0M742.3 498.9h0M742.4 498.6h0M742.3 507.3h0M743 503.4h0M743.3 502.7h0M743.6 488.6h0M743.7 507.1h0M743.9 502.9h0M744.4 500.6h0M744.3 498.9h0M744.7 510.7h0M744.7 507.6h0M745.2 498.4h0M745.5 498.5h0M745.7 498.9h0M745.6 502.8h0M746.2 503h0M746.7 503.8h0M746.6 507.6h0M746.6 504h0M747 503.1h0M747.1 501.1h0M747.3 502.9h0" stroke="#ff0000" stroke-width="1.9" stroke-linecap="round" fill="none"/>
<path d="M431 507.3h0M431.3 509.3h0M433.3 507.3h0M433.6 507.3h0M434.3 501.1h0M440.3 507.3h0M443.4 511.2h0M445.3 507.3h0M446.7 497.2h0M447.3 507.3h0M455.6 512.2h0M450.3 511.9h0M453.8 511.1h0M452 511.3h0M454.2 511h0M454.1 510.7h0M454.4 509.4h0M451.8 508.3h0M452.8 507.9h0M455.5 502.9h0M454.4 506.6h0M455.8 503.2h0M457 504.4h0M457 503.8h0M456.5 498.5h0M456.7 502.4h0M456.8 503.4h0M455.5 500.1h0M457.4 497.3h0M457.5 511.4h0M458.3 494.8h0M458.7 490.2h0M458.1 502.8h0M458 488.4h0M457 485.9h0M458 482.8h0M460.2 480.6h0M460.4 476.8h0M460.4 472.2h0M460.2 468.1h0M460.5 460h0M461.5 449.3h0M461.1 428.8h0M461.8 402.9h0M462.1 395.1h0M462.7 385h0M462.9 376.4h0M463.3 368.7h0M462.6 361.5h0M463.4 355.6h0M463.7 352.4h0M464.7 347.6h0M464.6 342.7h0M464.6 337.9h0M465.6 332.8h0M465.4 329h0M466 326h0M465.9 321.1h0M466.8 318.1h0M466.8 315.3h0M467.1 314.3h0M466.9 313.6h0M468.4 312h0M468.1 311.3h0M468.8 310.7h0M469.2 310.7h0M469.4 309.8h0M470 308.5h0M469.4 308.5h0M469.8 308.4h0M470.8 308.6h0M470.7 308.8h0M471 307.9h0M471.7 307.9h0M471.9 308.1h0M472 308.9h0M472.4 309.5h0M472.5 309.3h0M473.2 309.5h0M473.6 309.5h0M473.7 311.3h0M474.2 312.5h0M474.5 313.3h0M474.8 315.4h0M475 316.5h0M475.7 319.3h0M475.8 320.4h0M476.4 322h0M476.3 324.5h0M476.7 326.3h0M477.2 329.9h0M476.9 330.9h0M477.7 333.5h0M477.9 335.1h0M478.5 338.3h0M478.7 340.2h0M479.3 341h0M479.2 343.7h0M479.7 344.8h0M479.9 346h0M480.5 347.8h0M480.6 348.8h0M481 350.6h0M481.5 352.4h0M481.8 353.9h0M482.1 354.6h0M482.3 358.8h0M482.6 359.1h0M483.3 361.9h0M483.4 361.7h0M483.8 362.3h0M483.9 366.5h0M484.3 364.7h0M485 365.5h0M484.9 367.3h0M485.3 370.4h0M485.7 371.3h0M486 371.8h0M486.2 372.7h0M486.6 374.5h0M487.2 372.8h0M487.4 378.8h0M487.7 377.6h0M488.1 379.2h0M488.4 377.5h0M488.5 382.8h0M489 381.8h0M489.1 384h0M489.6 384.6h0M489.9 384.7h0M490.2 386.1h0M490.8 388.7h0M491 390.1h0M491.3 388.5h0M491.5 393.5h0M492.1 395h0M492.3 393.2h0M492.8 389.8h0M492.8 393.6h0M493.2 392.2h0M493.8 395.1h0M493.9 395.4h0M494.1 403.5h0M494.5 394.8h0M494.9 397.5h0M495.1 400.3h0M495.4 397.9h0M495.8 397.1h0M496.3 402.7h0M496.3 400.6h0M496.9 401.2h0M497.3 401.3h0M497.7 403.5h0M497.8 401.4h0M498.4 405.7h0M498.4 407.3h0M498.8 407.2h0M499.2 405.8h0M499.4 406.4h0M499.8 403h0M500.2 403.4h0M500.4 406.7h0M500.5 415.5h0M501 413.1h0M501.5 415.8h0M502.1 416.1h0M502.5 413.4h0M502.3 419.7h0M502.8 418.9h0M503 418.8h0M503.9 415.3h0M503.9 420.1h0M503.8 419.6h0M504.5 424.5h0M504.8 430.9h0M505.1 431.2h0M505.4 416h0M505.8 419.7h0M506.1 408.1h0M506.3 418.4h0M506.7 416.3h0M507.1 426.5h0M507.5 419.9h0M507.7 423.9h0M508.3 431.1h0M508.6 428.1h0M508.9 424.3h0M509.3 425.8h0M509.3 430.7h0M509.8 425.8h0M510.2 423.9h0M510.5 420h0M510.9 431.8h0M511 427.4h0M511.4 434.3h0M511.7 430.3h0M512 433.5h0M512.2 427.2h0M512.7 431.2h0M512.8 435.1h0M513.3 433.4h0M513.7 427.2h0M514.1 435.1h0M514.3 430h0M514.6 435h0M515 422.6h0M515.3 436.6h0M515.7 436.6h0M515.9 436.4h0M516.2 433.6h0M516.7 437.8h0M517.1 439.4h0M517.3 440.1h0M517.7 445.3h0M517.7 440.3h0M518.5 441.3h0M518.6 437.5h0M518.7 451h0M519.1 437.4h0M519.5 442.8h0M519.9 440h0M520.1 438.1h0M520.2 441h0M521.2 444.5h0M521.5 445.2h0M521.5 447.3h0M522 452.1h0M522.4 434.4h0M522.6 437.3h0M523.1 443.3h0M523.5 441.5h0M523.7 446h0M523.9 452.6h0M524.3 464.5h0M524.4 441.7h0M524.8 455h0M525.3 455.8h0M525.5 448.6h0M525.8 448.9h0M526.2 436.9h0M526.6 448.9h0M526.8 439.9h0M527.4 448.4h0M527.7 440.2h0M527.8 452.2h0M528.4 451.5h0M528.4 449.9h0M529.1 448.5h0M529.6 456.9h0M529.7 456.6h0M530 452.7h0M530.2 450.2h0M530.4 456.6h0M530.7 459.1h0M531.6 455.7h0M531.6 454.8h0M531.8 451.1h0M532.2 452.7h0M532.5 451.9h0M532.6 464.9h0M533.2 448.3h0M533.4 428.2h0M533.6 461.8h0M534.1 452.9h0M534.4 453.7h0M535.1 478.2h0M535 466.7h0M535.6 465.5h0M535.8 445.5h0M536.2 462.2h0M536.4 459.8h0M536.7 454.4h0M536.9 464.9h0M537.5 462.8h0M537.8 435.4h0M538.1 455.9h0M538.4 469.4h0M538.8 453.3h0M539.2 465.7h0M539.2 459.9h0M539.9 459.1h0M540.3 456.5h0M540.4 483.3h0M540.8 462.6h0M541 464.7h0M541.3 468.9h0M541.7 461.4h0M541.9 468.1h0M542.1 460.4h0M542.6 460.8h0M543 469.3h0M543.5 458.3h0M543.8 470.2h0M544.1 462.3h0M544.3 461.6h0M544.8 467.8h0M544.9 470.7h0M545.4 487.3h0M545.6 465.5h0M546.1 473.5h0M546.3 475.6h0M546.9 470.7h0M547.4 465.5h0M547.2 467.4h0M547.8 467.6h0M548 467.1h0M548.4 468.8h0M548.3 469.3h0M549.4 477h0M549.6 471.4h0M549.7 467.2h0M550.1 472.1h0M550.4 458.9h0M550.7 475.1h0M550.8 463.4h0M551.5 472.3h0M551.6 471.3h0M552 465.5h0M552.5 476.4h0M552.6 481.1h0M552.8 465.8h0M552.9 461.8h0M553.5 472.7h0M553.9 470.6h0M554.2 481.8h0M554.5 467.1h0M554.9 473.2h0M555.2 475.4h0M555.5 475.1h0M556.1 483.1h0M556.2 470.9h0M556.4 472.7h0M557 475.7h0M557.2 483.8h0M557.2 470.7h0M558 477h0M558.1 479.4h0M558.2 477.6h0M558.6 469.2h0M559.2 481.1h0M559.7 478.5h0M559.8 476.6h0M559.9 478h0M560.7 478.8h0M561.1 474.4h0M561.1 478.7h0M561.6 483.8h0M561.9 467h0M562.5 477.5h0M562.6 471.2h0M562.7 482.1h0M563.4 475.2h0M563.3 483.3h0M564 477.7h0M564.1 495.3h0M564.4 483.6h0M564.9 478.6h0M564.9 481h0M565.7 480.2h0M565.8 480.4h0M566 492.5h0M566.6 479.7h0M567 480.3h0M567.3 477.5h0M567.5 482h0M567.6 483.5h0M567.9 481h0M568.5 476.1h0M568.9 491.2h0M569.1 479.7h0M569.4 473.4h0M569.8 488.5h0M570.2 481.5h0M570.7 481.1h0M570.8 479.8h0M571 485.8h0M571.3 483.1h0M572 480.8h0M572.1 453.4h0M572.4 460.4h0M572.7 481.6h0M573.1 488.1h0M573.5 475.2h0M573.8 482.4h0M574.4 480.4h0M574.4 484.6h0M574.8 485.9h0M575.2 493h0M575.3 510.9h0M575.4 487.5h0M575.7 489.8h0M576.1 488.6h0M576.3 507.1h0M576.4 490.8h0M576.6 489.4h0M576.9 502.7h0M576.9 493.3h0M577.3 503.1h0M577.4 493.7h0M577.6 511.4h0M577.7 488.9h0M577.9 507.5h0M578.1 494.2h0M578.5 488.6h0M578.6 511.4h0M578.8 484.7h0M578.9 498.1h0M579.2 507.2h0M579.3 486.5h0M579.7 488.8h0M580.2 483.2h0M580.1 486.3h0M580.5 486h0M580.9 511.2h0M580.9 468h0M581.2 511.3h0M581.4 490.1h0M581.6 498.2h0M581.8 485.7h0M581.9 498.2h0M582 481.9h0M582.2 498.9h0M582 489.6h0M582.5 507.7h0M582.6 487.3h0M582.8 445.9h0M583.2 507.6h0M583.2 488.6h0M583.9 491.6h0M583.9 503.1h0M584.4 482.1h0M584.7 491.3h0M584.2 489.2h0M584.9 503.3h0M585.1 493.4h0M585.2 511.5h0M585.4 495.2h0M585.7 495.3h0M585.8 507.6h0M585.9 492.6h0M586.2 502.8h0M586.5 495.2h0M586.8 511h0M587.1 491.6h0M587.2 510.7h0M587.3 492.7h0M587.5 511.1h0M587.7 489.3h0M587.7 491.5h0M588.4 493.2h0M588.5 502.7h0M588.7 491.4h0M589.2 503.2h0M589.4 511.3h0M589.7 494.9h0M589.8 498.5h0M590 498.9h0M590.1 498.5h0M590.3 510.9h0M590.5 511.2h0M590.5 498.6h0M590.8 503h0M591.2 498.2h0M591.2 498.2h0M591.5 498.4h0M591.6 489.1h0M592 494.6h0M592.4 498h0M592.4 507.6h0M592.5 498.6h0M592.9 498.8h0M593.4 486.4h0M593.4 507.4h0M593.7 495.3h0M593.8 491.3h0M594.1 502.9h0M594.1 493.7h0M594.4 507.9h0M594.6 498.4h0M594.8 507.3h0M594.8 494.5h0M595 509.5h0M595.7 495.2h0M595.7 498.4h0M595.7 498.3h0M596.3 494.6h0M596.4 499h0M596.6 491.9h0M596.7 498.5h0M597 503.2h0M597.1 506.8h0M597.2 494.5h0M597.4 498.9h0M597.9 488.6h0M598.1 498.5h0M598.4 498h0M598.4 511.2h0M598.4 493h0M598.9 498.9h0M599 503.5h0M599.1 507.9h0M599.6 494.8h0M599.7 487h0M600 507.2h0M600.3 498.3h0M600.4 498.8h0M600.3 492.8h0M600.8 478h0M601.2 494.1h0M601.4 498.3h0M601.3 493.6h0M601.7 511.2h0M601.9 488.6h0M602 502.8h0M602.3 498.4h0M602.4 497.5h0M602.9 507h0M603.2 507.8h0M603.4 498.1h0M603.7 498.6h0M603.6 507.1h0M604 511.5h0M604.2 507.4h0M604.3 507.2h0M604.5 491.7h0M604.7 511.4h0M605 511.1h0M605.1 503h0M605.3 502.8h0M605.3 498.3h0M605.7 484.7h0M606.1 484.1h0M606.3 511.3h0M606.4 503.3h0M607 493.3h0M607.2 490.2h0M607.4 486.1h0M607.8 498.8h0M608.1 498.7h0M608.3 507.1h0M608.6 503.5h0M608.8 498.4h0M608.9 498.6h0M609.4 498.8h0M609.6 498.3h0M609.5 474.6h0M609.9 502.9h0M610.5 507.4h0M610.8 512.2h0M610.9 507.8h0M611 503.5h0M611.1 502h0M611.6 503.4h0M611.7 494.3h0M611.9 502.4h0M612.2 503.4h0M612 507.5h0M612.8 507.4h0M613.1 497.8h0M613.2 502.8h0M613.6 503.7h0M613.9 502.9h0M613.9 503.2h0M613.9 502.9h0M614.4 481.7h0M614.7 503.1h0M615.2 510.8h0M615.2 507.5h0M615.5 511.2h0M615.5 511.3h0M616.1 507.4h0M616.2 507.5h0M616.1 503.5h0M616.6 503.3h0M617.1 507.1h0M617.2 507h0M617.5 507.3h0M617.8 498h0M617.9 498h0M618.2 507.3h0M618.3 507.4h0M618.8 503.2h0M618.8 510.6h0M619.1 503.4h0M619.2 510.9h0M619.2 503.2h0M619.6 503.4h0M619.8 498.1h0M620.3 503.3h0M620.6 502.4h0M620.8 510.8h0M620.8 511.3h0M621.3 498.3h0M621.5 511.1h0M621.5 511.7h0M621.8 498.6h0M621.8 507.5h0M622.1 502.9h0M622.4 503.5h0M622.5 498.6h0M622.9 511.2h0M622.8 511.2h0M622.8 505.4h0M623.1 503.2h0M623.2 511.9h0M623.5 498.5h0M623.3 507.1h0M623.9 503.3h0M624.5 511.2h0M624.5 502.8h0M624.7 511.1h0M624.8 511.1h0M624.8 510.6h0M625.1 511.3h0M625.2 511.4h0M625.4 510.8h0M625.6 497.6h0M625.8 510.8h0M626 511.1h0M626.1 507.5h0M626.4 498.3h0M626.8 506.5h0M627.1 507.5h0M627.5 511.4h0M627.8 511.2h0M627.9 510.7h0M628.1 502.7h0M628 511.3h0M628.4 498.2h0M628.6 508.1h0M628.7 507.4h0M628.6 503h0M629.1 498.8h0M629 487.5h0M629.6 511.3h0M629.7 507.3h0M629.9 498.9h0M630.1 506.9h0M630.3 507.6h0M630.5 493.1h0M630.7 507.3h0M631 507.2h0M631.1 511.6h0M631 512.2h0M631.4 511h0M631.9 509.9h0M632 507.8h0M632.1 505.8h0M632.3 507.5h0M632.7 511.1h0M633 510.9h0M633.2 510.9h0M633.3 511h0M633.8 507.2h0M634.1 511.2h0M634.3 511.3h0M634.7 503.3h0M634.9 511.3h0M635 511.1h0M635.2 502.7h0M635.4 507.2h0M635.7 511.6h0M635.9 503.4h0M636 502.7h0M636 510.9h0M636.3 503.2h0M636.3 512.2h0M636.8 505h0M637 502.9h0M637.3 511.5h0M637.4 511.1h0M637.7 511.5h0M637.7 506.7h0M638 507.5h0M637.9 507.4h0M638.5 498.5h0M638.9 511.5h0M639 498.3h0M639.3 507.9h0M639.6 479.8h0M639.6 499h0M639.8 512h0M640 498.5h0M640.2 510.8h0M640.3 511h0M640.7 511.2h0M640.7 507.3h0M640.9 500h0M641.3 503h0M641.4 507.5h0M641.6 511.3h0M641.8 511.2h0M642 512.2h0M642.2 486.6h0M642.8 511.7h0M642.9 511.5h0M643.1 512.1h0M643.3 503.2h0M643.3 511.6h0M643.7 498.3h0M643.9 498.3h0M644.3 507.2h0M644.5 512.2h0M644.8 511.1h0M644.9 511h0M645.4 510.4h0M645.8 507.3h0M646.1 512.2h0M646.4 511.3h0M646.8 511h0M647.1 511.6h0M647 510.8h0M647.4 511.4h0M647.9 507.2h0M648.1 511h0M648.4 512.2h0M648.6 511.1h0M649 510.9h0M649.3 511.5h0M649.5 498.4h0M649.4 511.1h0M649.9 503.3h0M649.9 511h0M650.2 511.3h0M650.2 511.1h0M650.5 502.9h0M650.5 511.3h0M650.9 511.2h0M651.2 511.1h0M651.2 507.4h0M651.4 511.3h0M651.8 511.5h0M652.1 512.2h0M652.3 503.1h0M652.5 511.1h0M652.8 503.1h0M652.8 511.1h0M653.1 506.9h0M653.5 507.4h0M653.7 511h0M653.8 507.3h0M654.1 510.7h0M654.2 511.5h0M654.5 507.3h0M654.6 510.8h0M655.1 512.2h0M655.1 503.2h0M655.3 511.2h0M655.5 511.3h0M655.8 507.4h0M656.1 511.5h0M656.1 511.6h0M656.4 511.3h0M656.7 511.1h0M657.1 511.4h0M657.1 510.7h0M657.4 512.2h0M657.5 507.1h0M657.4 510.9h0M658.1 511.8h0M658.1 502.5h0M658.1 506.9h0M658.4 507.1h0M658.3 507.4h0M658.8 507.1h0M658.6 511.1h0M659 510.5h0M659.8 511.3h0M659.8 498.8h0M659.9 510.9h0M660.4 511.1h0M660.7 510.9h0M660.8 511.1h0M660.9 512.2h0M661.1 507.2h0M661.3 511.1h0M661.5 511.4h0M661.9 511.1h0M662.1 512.2h0M662.4 511.3h0M662.5 510.8h0M662.7 511.4h0M663 510.7h0M663.1 498.1h0M663.2 510.5h0M663.7 511.5h0M663.7 507.3h0M664.1 511.2h0M664.1 498.2h0M664.2 512.2h0M664.4 507.4h0M664.4 511.5h0M664.7 511.2h0M664.8 511.1h0M665.2 512.2h0M665.9 503.3h0M665.7 511.4h0M665.7 512.2h0M666.2 511.4h0M666.4 512.2h0M666.7 502.9h0M666.8 510.4h0M667 498.6h0M667 512.2h0M667.7 511.7h0M667.7 511.4h0M667.5 512.2h0M668 502.9h0M668.3 510.9h0M668.3 507.1h0M668.7 511.1h0M668.7 507.8h0M669 511h0M669 498.2h0M669.2 511.4h0M669.3 510.8h0M669.5 512.2h0M669.7 512.2h0M670 510.8h0M670.1 511.2h0M670.3 503.1h0M670.7 511.1h0M670.7 498.2h0M670.9 511.7h0M671 502.8h0M671.2 510.5h0M671.3 498.6h0M671.3 511.3h0M671.8 512.2h0M672 503.5h0M671.9 511.2h0M672.3 511.2h0M672.7 510.6h0M672.8 511.6h0M673 507.1h0M673 511h0M673.3 511.4h0M673.4 511.2h0M673.6 507.5h0M673.6 510.8h0M674 498.5h0M674.1 511.4h0M674.3 507.2h0M674.5 511.1h0M674.6 506.9h0M674.8 510.6h0M674.9 511.2h0M675.2 507.2h0M675.3 511.4h0M675.9 511.2h0M676.1 511.3h0M676.3 507.8h0M676.6 498.2h0M676.9 511.2h0M676.9 511.7h0M677.1 511.9h0M677.6 511.2h0M677.8 510.8h0M677.9 498.4h0M678.3 511h0M678.2 502.9h0M678.1 511.1h0M678.7 511.8h0M679 511h0M679.2 507.4h0M679.4 511.2h0M679.6 503.2h0M679.7 510.9h0M680.2 512.2h0M680.2 503.5h0M680.3 511.8h0M680.6 503.1h0M680.5 511.4h0M681.3 512.2h0M681.2 511.3h0M681.3 511h0M681.5 498.3h0M681.5 511.2h0M682.2 510.7h0M682.2 503.2h0M682.2 511.1h0M682.6 511.1h0M683 512.2h0M683.2 503.2h0M683.2 511.4h0M683.5 498.2h0M683.5 512.1h0M683.9 507.6h0M684.2 510.8h0M684.2 498.4h0M684.1 511.8h0M684.8 511.2h0M684.9 512.2h0M685.2 507.4h0M685.4 512.2h0M685.5 510.9h0M685.5 510.6h0M685.8 503.3h0M686.2 511h0M686.2 507.1h0M686.3 510.8h0M686.5 503h0M686.5 511.4h0M687 511.1h0M687.2 510.8h0M687.2 512.2h0M687.7 511.5h0M687.6 511.1h0M688.1 507.4h0M688.2 511.4h0M688.4 510.7h0M688.9 511.8h0M689 510.7h0M689.5 502.9h0M689.7 511.4h0M689.8 507.1h0M690.1 511.2h0M690.4 482.3h0M690.5 511.3h0M690.5 511h0M691 511h0M691.1 503.1h0M691.1 511.2h0M691.7 511.6h0M691.8 510.6h0M691.6 507.1h0M692.1 503.2h0M692.2 511.3h0M692.4 511.6h0M692.2 511h0M692.8 498.2h0M693 511.3h0M693.1 511h0M693 512.2h0M693.7 512.1h0M693.8 511.8h0M694.2 510.9h0M694.6 511.2h0M694.7 511.5h0M694.8 511.1h0M695.1 511.1h0M695.1 511.5h0M695.4 503.2h0M695.7 511.5h0M695.7 502.7h0M695.9 511.1h0M696.1 503.2h0M696.2 507.3h0M696.4 507.5h0M696.3 511.1h0M696.6 511.3h0M697.1 502.6h0M697 511.3h0M697.5 511.4h0M697.8 511.2h0M698 499h0M698.3 512.2h0M698.6 511.2h0M699 511.2h0M699.2 511.5h0M699.5 511.2h0M699.7 507.5h0M699.8 511.5h0M700 503h0M700 511.7h0M700.4 506.3h0M700.6 512.2h0M700.8 511.1h0M701.2 512.2h0M701.3 507.5h0M701.2 510.8h0M701.7 511.1h0M701.7 511.4h0M702.2 511.5h0M702.3 511.1h0M702.7 512.2h0M703 511.1h0M703 510.9h0M703.3 507.2h0M703.4 511.7h0M703.6 512.2h0M704.1 511.8h0M704.3 498.3h0M704.3 510.9h0M704.8 511.4h0M705 511.3h0M705.1 511.3h0M705.3 511.3h0M705.6 498.6h0M705.7 511.2h0M706 506.8h0M706.1 511.8h0M706.5 511.7h0M706.6 511.3h0M706.9 507.1h0M707 507.1h0M707.2 511.7h0M707.2 510.8h0M707.6 510.8h0M707.9 511.2h0M708.2 511.6h0M708.1 510.7h0M708.6 506.9h0M708.9 507h0M709.4 510.8h0M709.3 511.1h0M709.8 512.2h0M709.8 511.3h0M710.3 511h0M710.6 507.3h0M710.6 511h0M710.9 512.2h0M711.5 510.4h0M711.7 511.6h0M711.9 507.2h0M712 511.1h0M712.2 511.4h0M712.4 511.5h0M712.7 511.3h0M712.9 510.8h0M713.4 511.4h0M713.3 511.6h0M713.6 511.5h0M713.7 511.1h0M713.9 498.2h0M714 510.9h0M714.4 511.1h0M714.6 510.9h0M715.1 512.2h0M715.3 511h0M715.7 511.2h0M716 510.9h0M716.2 511.3h0M716.5 502.8h0M716.6 511.2h0M717 511.2h0M717.2 511.2h0M717.4 512.2h0M717.5 510.8h0M717.6 511.4h0M717.8 503h0M717.8 510.8h0M718.2 507.7h0M718.3 512.2h0M718.5 511.5h0M718.7 511.2h0M719 511.2h0M719.3 511h0M719.8 511.1h0M719.9 511.5h0M720.2 488h0M720.5 498.6h0M720.7 512.2h0M720.8 511.1h0M720.9 511.6h0M721.3 511.2h0M721.4 511.7h0M721.8 507.6h0M722 511h0M722.1 507h0M722.4 512.2h0M722.5 511.1h0M722.8 498.5h0M722.7 511.3h0M723.1 503.3h0M723.2 511h0M723.7 511.2h0M723.8 502.7h0M723.8 511.1h0M724.2 511.1h0M724.6 511.7h0M724.8 507.3h0M724.9 511.1h0M725.1 507.3h0M725 511h0M725.4 511.2h0M725.5 511.2h0M726 511.2h0M726.3 511.2h0M726.4 498.4h0M726.5 511.1h0M726.8 511.5h0M727.1 511.4h0M726.9 511.3h0M727.4 506.9h0M727.7 511.5h0M727.6 512.2h0M728.1 507.2h0M728.1 498.7h0M728.4 512.2h0M729 511.2h0M729.4 511.3h0M729.4 502.9h0M729.3 511.8h0M729.7 498.1h0M729.7 511h0M730.1 511.3h0M730.4 507.5h0M730.7 511.2h0M731 512.2h0M731 498h0M730.9 511.3h0M731.4 502.9h0M731.3 511.5h0M731.7 503.4h0M731.7 510.9h0M732 498.7h0M732.4 511.5h0M732.4 498.2h0M732.3 511.3h0M732.8 511.8h0M733 506.9h0M733.1 511h0M733.4 502.8h0M733.4 512.2h0M733.9 511.1h0M734.4 510.9h0M734.3 498.8h0M734.3 511h0M734.7 510.9h0M734.9 511.1h0M735.2 511.2h0M735.3 503.4h0M735.5 511h0M735.9 511.5h0M736 498.2h0M735.9 511.4h0M736.7 511.2h0M737 511.4h0M737.2 510.9h0M737.4 510.8h0M737.6 511.7h0M737.8 511.7h0M738 511.1h0M738 511.3h0M738.6 511.3h0M738.7 511.6h0M738.9 510.8h0M739.3 511h0M739.8 511.4h0M739.9 511.4h0M740.3 511.2h0M740.8 512.2h0M740.9 498.8h0M741.2 511.6h0M741.1 512.2h0M741.6 502.6h0M741.7 512.2h0M742 511h0M742.3 510.7h0M742.6 511.5h0M742.9 498.7h0M743 510.8h0M743.3 503.4h0M743.1 511.2h0M743.6 510.8h0M743.9 511h0M743.9 511.5h0M744 512.2h0M744.2 507.3h0M744.6 511.5h0M744.6 498.2h0M744.6 510.7h0M744.9 507.1h0M744.9 511.3h0M745.6 511h0M745.8 512.2h0M746.1 507.7h0M746.2 511.3h0M746.6 511.1h0M746.6 507.5h0M746.7 511.6h0M746.9 511.6h0" stroke="#0000ff" stroke-width="1.9" stroke-linecap="round" fill="none"/>
<path d="M480.1 346.7 L480.9 350.4 L481.7 353.9 L482.5 357.2 L483.3 360.4 L484.1 363.3 L484.9 365.9 L485.7 368.3 L486.5 370.5 L487.3 372.7 L488.1 374.9 L488.9 377.1 L489.7 379.5 L490.5 381.8 L491.3 384 L492.1 386 L492.9 388 L493.7 389.8 L494.5 391.8 L495.3 393.8 L496.1 396 L496.9 398.1 L497.7 399.9 L498.5 401.6 L499.3 403.1 L500.1 404.6 L500.9 406 L501.7 407.4 L502.5 408.9 L503.3 410.4 L504.1 411.9 L504.9 413.4 L505.7 414.9 L506.5 416.3 L507.3 417.6 L508.1 418.9 L508.9 420.2 L509.7 421.5 L510.5 422.7 L511.3 423.9 L512.1 425.1 L512.9 426.3 L513.7 427.4 L514.5 428.5 L515.3 429.6 L516.1 430.6 L516.9 431.6 L517.7 432.5 L518.5 433.4 L519.3 434.3 L520.1 435.1 L520.9 435.9 L521.7 436.7 L522.5 437.5 L523.3 438.3 L524.1 439.1 L524.9 439.8 L525.7 440.6 L526.5 441.3 L527.3 442.1 L528.1 442.8 L528.9 443.5 L529.7 444.3 L530.5 445 L531.3 445.8 L532.1 446.5 L532.9 447.3 L533.7 448 L534.5 448.8 L535.3 449.5 L536.1 450.3 L536.9 451 L537.7 451.7 L538.5 452.4 L539.3 453.1 L540.1 453.8 L540.9 454.4 L541.7 455.1 L542.5 455.7 L543.3 456.3 L544.1 456.9 L544.9 457.4 L545.7 458 L546.5 458.5 L547.3 459 L548.1 459.6 L548.9 460.1 L549.7 460.5 L550.5 461 L551.3 461.5 L552.1 462 L552.9 462.4 L553.7 462.9 L554.5 463.3 L555.3 463.8 L556.1 464.2 L556.9 464.7 L557.7 465.1 L558.5 465.6 L559.3 466 L560.1 466.4 L560.9 466.9 L561.7 467.3 L562.5 467.8 L563.3 468.2 L564.1 468.7 L564.9 469.1 L565.7 469.6 L566.5 470 L567.3 470.4 L568.1 470.9 L568.9 471.3 L569.7 471.8 L570.5 472.2 L571.3 472.6 L572.1 473 L572.9 473.5 L573.7 473.9 L574.5 474.3 L575.3 474.7 L576.1 475.1 L576.9 475.5 L577.7 475.9 L578.5 476.3 L579.3 476.7 L580.1 477 L580.9 477.4 L581.7 477.8 L582.5 478.1 L583.3 478.5 L584.1 478.8 L584.9 479.2 L585.7 479.5 L586.5 479.8 L587.3 480.2 L588.1 480.5 L588.9 480.8 L589.7 481.1 L590.5 481.4 L591.3 481.8 L592.1 482.1 L592.9 482.4 L593.7 482.7 L594.5 483 L595.3 483.3 L596.1 483.7 L596.9 484 L597.7 484.3 L598.5 484.7 L599.3 485 L600.1 485.3 L600.9 485.7 L601.7 486 L602.5 486.4 L603.3 486.8 L604.1 487.1 L604.9 487.5 L605.7 487.9 L606.5 488.3 L607.3 488.6 L608.1 489 L608.9 489.4 L609.7 489.7 L610.5 490.1 L611.3 490.4 L612.1 490.8 L612.9 491.1 L613.7 491.4 L614.5 491.7 L615.3 492 L616.1 492.3 L616.9 492.6 L617.7 492.9 L618.5 493.2 L619.3 493.4 L620.1 493.7 L620.9 494 L621.7 494.3 L622.5 494.5 L623.3 494.8 L624.1 495.1 L624.9 495.3 L625.7 495.6 L626.5 495.9 L627.3 496.2 L628.1 496.4 L628.9 496.7 L629.7 497 L630.5 497.3 L631.3 497.6 L632.1 497.9 L632.9 498.1 L633.7 498.4 L634.5 498.7 L635.3 499 L636.1 499.3 L636.9 499.6 L637.7 499.8 L638.5 500.1 L639.3 500.4 L640.1 500.6 L640.9 500.9 L641.7 501.2 L642.5 501.4 L643.3 501.7 L644.1 501.9 L644.9 502.2 L645.7 502.5 L646.5 502.7 L647.3 503 L648.1 503.2 L648.9 503.5 L649.7 503.7 L650.5 503.9 L651.3 504.2 L652.1 504.4 L652.9 504.6 L653.7 504.9 L654.5 505.1 L655.3 505.3 L656.1 505.5 L656.9 505.7 L657.7 505.9 L658.5 506.1 L659.3 506.3 L660.1 506.5 L660.9 506.7 L661.7 506.9 L662.5 507.1 L663.3 507.3 L664.1 507.5 L664.9 507.7 L665.7 507.9 L666.5 508.1 L667.3 508.3 L668.1 508.5 L668.9 508.7 L669.7 508.9 L670.5 509.1 L671.3 509.3 L672.1 509.5 L672.9 509.7 L673.7 509.9 L674.5 510.1 L675.3 510.3 L676.1 510.5 L676.9 510.7 L677.7 510.9 L678.5 511.1 L679.3 511.3 L680.1 511.5 L680.9 511.7 L681.7 511.9 L682.5 512 L683.3 512.2 L684.1 512.4 L684.9 512.6 L685.7 512.8 L686.5 512.9 L687.3 513.1 L688.1 513.3 L688.9 513.4" fill="none" stroke="#000" stroke-width="2.2" stroke-linejoin="round" stroke-linecap="round"/>
<path d="M480.1 346.8 L480.9 350.6 L481.7 354 L482.5 356.7 L483.3 359.1 L484.1 361.4 L484.9 363.6 L485.7 365.9 L486.5 368 L487.3 370.2 L488.1 372.3 L488.9 374.4 L489.7 376.5 L490.5 378.6 L491.3 380.6 L492.1 382.6 L492.9 384.4 L493.7 386.3 L494.5 388 L495.3 389.7 L496.1 391.4 L496.9 392.9 L497.7 394.3 L498.5 395.6 L499.3 396.9 L500.1 398.1 L500.9 399.3 L501.7 400.5 L502.5 401.7 L503.3 402.9 L504.1 404.2 L504.9 405.4 L505.7 406.7 L506.5 408 L507.3 409.3 L508.1 410.5 L508.9 411.8 L509.7 413 L510.5 414.1 L511.3 415.2 L512.1 416.3 L512.9 417.3 L513.7 418.3 L514.5 419.3 L515.3 420.3 L516.1 421.2 L516.9 422.1 L517.7 423 L518.5 423.9 L519.3 424.7 L520.1 425.6 L520.9 426.4 L521.7 427.2 L522.5 428 L523.3 428.7 L524.1 429.5 L524.9 430.2 L525.7 430.9 L526.5 431.6 L527.3 432.3 L528.1 433 L528.9 433.6 L529.7 434.3 L530.5 434.9 L531.3 435.6 L532.1 436.2 L532.9 436.9 L533.7 437.5 L534.5 438.2 L535.3 438.8 L536.1 439.5 L536.9 440.2 L537.7 440.8 L538.5 441.5 L539.3 442.2 L540.1 442.9 L540.9 443.5 L541.7 444.2 L542.5 444.9 L543.3 445.6 L544.1 446.2 L544.9 446.9 L545.7 447.5 L546.5 448.2 L547.3 448.8 L548.1 449.4 L548.9 450.1 L549.7 450.7 L550.5 451.3 L551.3 451.9 L552.1 452.4 L552.9 453 L553.7 453.5 L554.5 454.1 L555.3 454.6 L556.1 455.1 L556.9 455.6 L557.7 456.1 L558.5 456.6 L559.3 457.1 L560.1 457.6 L560.9 458.1 L561.7 458.6 L562.5 459.1 L563.3 459.5 L564.1 460 L564.9 460.4 L565.7 460.9 L566.5 461.3 L567.3 461.8 L568.1 462.2 L568.9 462.7 L569.7 463.1 L570.5 463.6 L571.3 464 L572.1 464.4 L572.9 464.9 L573.7 465.3 L574.5 465.7 L575.3 466.2 L576.1 466.6 L576.9 467 L577.7 467.5 L578.5 467.9 L579.3 468.3 L580.1 468.7 L580.9 469.1 L581.7 469.5 L582.5 469.9 L583.3 470.3 L584.1 470.7 L584.9 471.1 L585.7 471.5 L586.5 471.9 L587.3 472.2 L588.1 472.6 L588.9 472.9 L589.7 473.3 L590.5 473.6 L591.3 473.9 L592.1 474.2 L592.9 474.5 L593.7 474.8 L594.5 475.1 L595.3 475.4 L596.1 475.7 L596.9 476 L597.7 476.2 L598.5 476.5 L599.3 476.8 L600.1 477 L600.9 477.3 L601.7 477.6 L602.5 477.8 L603.3 478.1 L604.1 478.3 L604.9 478.6 L605.7 478.8 L606.5 479 L607.3 479.3 L608.1 479.5 L608.9 479.8 L609.7 480 L610.5 480.2 L611.3 480.5 L612.1 480.7 L612.9 481 L613.7 481.2 L614.5 481.4 L615.3 481.7 L616.1 481.9 L616.9 482.2 L617.7 482.4 L618.5 482.6 L619.3 482.9 L620.1 483.1 L620.9 483.4 L621.7 483.6 L622.5 483.8 L623.3 484.1 L624.1 484.3 L624.9 484.6 L625.7 484.8 L626.5 485 L627.3 485.3 L628.1 485.5 L628.9 485.7 L629.7 486 L630.5 486.2 L631.3 486.5 L632.1 486.7 L632.9 486.9 L633.7 487.2 L634.5 487.4 L635.3 487.6 L636.1 487.9 L636.9 488.1 L637.7 488.4 L638.5 488.6 L639.3 488.8 L640.1 489.1 L640.9 489.3 L641.7 489.6 L642.5 489.8 L643.3 490 L644.1 490.3 L644.9 490.6 L645.7 490.8 L646.5 491.1 L647.3 491.3 L648.1 491.6 L648.9 491.8 L649.7 492.1 L650.5 492.3 L651.3 492.5 L652.1 492.8 L652.9 493 L653.7 493.2 L654.5 493.4 L655.3 493.6 L656.1 493.8 L656.9 494 L657.7 494.1 L658.5 494.3 L659.3 494.4 L660.1 494.6 L660.9 494.8 L661.7 494.9 L662.5 495.1 L663.3 495.2 L664.1 495.3 L664.9 495.5 L665.7 495.6 L666.5 495.8 L667.3 495.9 L668.1 496.1 L668.9 496.3 L669.7 496.4 L670.5 496.6 L671.3 496.7 L672.1 496.9 L672.9 497.1 L673.7 497.2 L674.5 497.4 L675.3 497.6 L676.1 497.7 L676.9 497.9 L677.7 498.1 L678.5 498.2 L679.3 498.4 L680.1 498.6 L680.9 498.7 L681.7 498.9 L682.5 499 L683.3 499.2 L684.1 499.4 L684.9 499.5 L685.7 499.7 L686.5 499.8 L687.3 500 L688.1 500.1 L688.9 500.3 L689.7 500.4 L690.5 500.6 L691.3 500.7 L692.1 500.9 L692.9 501.1 L693.7 501.2 L694.5 501.4 L695.3 501.5 L696.1 501.7 L696.9 501.8 L697.7 502 L698.5 502.1 L699.3 502.3 L700.1 502.4 L700.9 502.6 L701.7 502.7 L702.5 502.9 L703.3 503 L704.1 503.2 L704.9 503.4 L705.7 503.5 L706.5 503.7 L707.3 503.8 L708.1 504 L708.9 504.1 L709.7 504.3 L710.5 504.5 L711.3 504.6 L712.1 504.8 L712.9 504.9 L713.7 505.1 L714.5 505.2 L715.3 505.4 L716.1 505.6 L716.9 505.7 L717.7 505.9 L718.5 506 L719.3 506.2 L720.1 506.3 L720.9 506.4 L721.7 506.6 L722.5 506.7 L723.3 506.9 L724.1 507 L724.9 507.2 L725.7 507.3 L726.5 507.4 L727.3 507.5 L728.1 507.7 L728.9 507.8 L729.7 507.9 L730.5 508.1 L731.3 508.2 L732.1 508.3 L732.9 508.4 L733.7 508.5 L734.5 508.7 L735.3 508.8 L736.1 508.9 L736.9 509 L737.7 509.1 L738.5 509.2 L739.3 509.4 L740.1 509.5 L740.9 509.6 L741.7 509.7 L742.5 509.8 L743.3 509.9 L744.1 510 L744.9 510.1 L745.7 510.2 L746.5 510.3 L747.3 510.4" fill="none" stroke="#cc44f4" stroke-width="2.2" stroke-linejoin="round" stroke-linecap="round"/>
<path d="M480.1 346.8 L480.9 350.8 L481.7 354 L482.5 356.4 L483.3 358.3 L484.1 360 L484.9 361.8 L485.7 363.7 L486.5 365.8 L487.3 367.9 L488.1 369.9 L488.9 371.8 L489.7 373.5 L490.5 375.1 L491.3 376.7 L492.1 378.2 L492.9 379.7 L493.7 381.1 L494.5 382.5 L495.3 383.8 L496.1 385.1 L496.9 386.3 L497.7 387.5 L498.5 388.7 L499.3 389.8 L500.1 390.9 L500.9 391.9 L501.7 393 L502.5 394 L503.3 395 L504.1 395.9 L504.9 396.9 L505.7 397.9 L506.5 398.9 L507.3 399.9 L508.1 400.9 L508.9 401.9 L509.7 402.8 L510.5 403.8 L511.3 404.8 L512.1 405.8 L512.9 406.7 L513.7 407.7 L514.5 408.6 L515.3 409.6 L516.1 410.5 L516.9 411.5 L517.7 412.4 L518.5 413.3 L519.3 414.3 L520.1 415.3 L520.9 416.2 L521.7 417.2 L522.5 418.1 L523.3 419 L524.1 420 L524.9 420.9 L525.7 421.8 L526.5 422.7 L527.3 423.5 L528.1 424.4 L528.9 425.2 L529.7 426 L530.5 426.8 L531.3 427.6 L532.1 428.3 L532.9 429.1 L533.7 429.8 L534.5 430.5 L535.3 431.3 L536.1 432 L536.9 432.7 L537.7 433.4 L538.5 434 L539.3 434.7 L540.1 435.4 L540.9 436 L541.7 436.7 L542.5 437.3 L543.3 438 L544.1 438.6 L544.9 439.2 L545.7 439.8 L546.5 440.4 L547.3 441 L548.1 441.7 L548.9 442.3 L549.7 442.8 L550.5 443.4 L551.3 444 L552.1 444.6 L552.9 445.2 L553.7 445.7 L554.5 446.3 L555.3 446.8 L556.1 447.4 L556.9 447.9 L557.7 448.4 L558.5 449 L559.3 449.5 L560.1 450 L560.9 450.5 L561.7 450.9 L562.5 451.4 L563.3 451.9 L564.1 452.3 L564.9 452.8 L565.7 453.2 L566.5 453.6 L567.3 454.1 L568.1 454.5 L568.9 454.9 L569.7 455.3 L570.5 455.7 L571.3 456.1 L572.1 456.5 L572.9 456.9 L573.7 457.3 L574.5 457.7 L575.3 458 L576.1 458.4 L576.9 458.8 L577.7 459.2 L578.5 459.5 L579.3 459.9 L580.1 460.3 L580.9 460.6 L581.7 461 L582.5 461.4 L583.3 461.7 L584.1 462.1 L584.9 462.4 L585.7 462.8 L586.5 463.1 L587.3 463.5 L588.1 463.8 L588.9 464.2 L589.7 464.5 L590.5 464.9 L591.3 465.2 L592.1 465.5 L592.9 465.9 L593.7 466.2 L594.5 466.5 L595.3 466.9 L596.1 467.2 L596.9 467.5 L597.7 467.9 L598.5 468.2 L599.3 468.5 L600.1 468.8 L600.9 469.2 L601.7 469.5 L602.5 469.8 L603.3 470.2 L604.1 470.5 L604.9 470.9 L605.7 471.2 L606.5 471.5 L607.3 471.9 L608.1 472.2 L608.9 472.5 L609.7 472.8 L610.5 473.1 L611.3 473.4 L612.1 473.7 L612.9 474 L613.7 474.3 L614.5 474.6 L615.3 474.8 L616.1 475.1 L616.9 475.3 L617.7 475.6 L618.5 475.8 L619.3 476.1 L620.1 476.3 L620.9 476.5 L621.7 476.8 L622.5 477 L623.3 477.2 L624.1 477.4 L624.9 477.7 L625.7 477.9 L626.5 478.1 L627.3 478.4 L628.1 478.6 L628.9 478.8 L629.7 479.1 L630.5 479.3 L631.3 479.6 L632.1 479.8 L632.9 480 L633.7 480.3 L634.5 480.5 L635.3 480.7 L636.1 481 L636.9 481.2 L637.7 481.5 L638.5 481.7 L639.3 481.9 L640.1 482.2 L640.9 482.4 L641.7 482.6 L642.5 482.9 L643.3 483.1 L644.1 483.4 L644.9 483.6 L645.7 483.9 L646.5 484.1 L647.3 484.4 L648.1 484.6 L648.9 484.8 L649.7 485.1 L650.5 485.3 L651.3 485.6 L652.1 485.8 L652.9 486 L653.7 486.3 L654.5 486.5 L655.3 486.7 L656.1 486.9 L656.9 487.1 L657.7 487.4 L658.5 487.6 L659.3 487.8 L660.1 488 L660.9 488.2 L661.7 488.4 L662.5 488.6 L663.3 488.8 L664.1 489 L664.9 489.2 L665.7 489.4 L666.5 489.6 L667.3 489.8 L668.1 490 L668.9 490.2 L669.7 490.4 L670.5 490.5 L671.3 490.7 L672.1 490.9 L672.9 491 L673.7 491.2 L674.5 491.4 L675.3 491.5 L676.1 491.7 L676.9 491.9 L677.7 492 L678.5 492.2 L679.3 492.4 L680.1 492.5 L680.9 492.7 L681.7 492.9 L682.5 493 L683.3 493.2 L684.1 493.4 L684.9 493.6 L685.7 493.7 L686.5 493.9 L687.3 494.1 L688.1 494.3 L688.9 494.5 L689.7 494.7 L690.5 494.8 L691.3 495 L692.1 495.2 L692.9 495.4 L693.7 495.6 L694.5 495.7 L695.3 495.9 L696.1 496.1 L696.9 496.3 L697.7 496.4 L698.5 496.6 L699.3 496.8 L700.1 496.9 L700.9 497.1 L701.7 497.2 L702.5 497.4 L703.3 497.6 L704.1 497.7 L704.9 497.9 L705.7 498 L706.5 498.2 L707.3 498.3 L708.1 498.5 L708.9 498.6 L709.7 498.8 L710.5 498.9 L711.3 499.1 L712.1 499.2 L712.9 499.4 L713.7 499.5 L714.5 499.7 L715.3 499.8 L716.1 500 L716.9 500.1 L717.7 500.2 L718.5 500.4 L719.3 500.5 L720.1 500.7 L720.9 500.8 L721.7 500.9 L722.5 501.1 L723.3 501.2 L724.1 501.3 L724.9 501.5 L725.7 501.6 L726.5 501.7 L727.3 501.8 L728.1 502 L728.9 502.1 L729.7 502.2 L730.5 502.3 L731.3 502.5 L732.1 502.6 L732.9 502.7 L733.7 502.8 L734.5 503 L735.3 503.1 L736.1 503.2 L736.9 503.3 L737.7 503.4 L738.5 503.5 L739.3 503.6 L740.1 503.8 L740.9 503.9 L741.7 504 L742.5 504.1 L743.3 504.2 L744.1 504.3 L744.9 504.4 L745.7 504.5 L746.5 504.6 L747.3 504.7" fill="none" stroke="#ff0000" stroke-width="2.2" stroke-linejoin="round" stroke-linecap="round"/>
<path d="M480.1 346.6 L480.9 350.1 L481.7 353.7 L482.5 357.9 L483.3 362.1 L484.1 365.5 L484.9 368.5 L485.7 371.2 L486.5 373.7 L487.3 376.1 L488.1 378.6 L488.9 381.2 L489.7 383.6 L490.5 386.1 L491.3 388.4 L492.1 390.6 L492.9 392.8 L493.7 394.8 L494.5 396.7 L495.3 398.5 L496.1 400.3 L496.9 402.1 L497.7 403.8 L498.5 405.5 L499.3 407.2 L500.1 408.9 L500.9 410.6 L501.7 412.3 L502.5 413.8 L503.3 415.3 L504.1 416.8 L504.9 418.1 L505.7 419.3 L506.5 420.5 L507.3 421.7 L508.1 422.8 L508.9 423.9 L509.7 425 L510.5 426.1 L511.3 427.3 L512.1 428.4 L512.9 429.6 L513.7 430.7 L514.5 431.9 L515.3 433 L516.1 434.1 L516.9 435.3 L517.7 436.4 L518.5 437.5 L519.3 438.6 L520.1 439.6 L520.9 440.7 L521.7 441.7 L522.5 442.7 L523.3 443.7 L524.1 444.7 L524.9 445.7 L525.7 446.6 L526.5 447.6 L527.3 448.5 L528.1 449.5 L528.9 450.4 L529.7 451.3 L530.5 452.2 L531.3 453 L532.1 453.9 L532.9 454.8 L533.7 455.6 L534.5 456.4 L535.3 457.2 L536.1 458 L536.9 458.8 L537.7 459.5 L538.5 460.3 L539.3 461 L540.1 461.8 L540.9 462.5 L541.7 463.2 L542.5 463.9 L543.3 464.6 L544.1 465.3 L544.9 466 L545.7 466.6 L546.5 467.3 L547.3 467.9 L548.1 468.5 L548.9 469.1 L549.7 469.7 L550.5 470.3 L551.3 470.9 L552.1 471.5 L552.9 472 L553.7 472.5 L554.5 473.1 L555.3 473.6 L556.1 474.1 L556.9 474.6 L557.7 475.1 L558.5 475.6 L559.3 476.1 L560.1 476.6 L560.9 477.2 L561.7 477.7 L562.5 478.2 L563.3 478.7 L564.1 479.2 L564.9 479.8 L565.7 480.3 L566.5 480.8 L567.3 481.3 L568.1 481.8 L568.9 482.3 L569.7 482.8 L570.5 483.3 L571.3 483.8 L572.1 484.3 L572.9 484.8 L573.7 485.2 L574.5 485.7 L575.3 486.1 L576.1 486.6 L576.9 487 L577.7 487.4 L578.5 487.8 L579.3 488.2 L580.1 488.6 L580.9 489 L581.7 489.4 L582.5 489.8 L583.3 490.2 L584.1 490.6 L584.9 490.9 L585.7 491.3 L586.5 491.7 L587.3 492.1 L588.1 492.4 L588.9 492.8 L589.7 493.1 L590.5 493.5 L591.3 493.8 L592.1 494.2 L592.9 494.5 L593.7 494.9 L594.5 495.2 L595.3 495.6 L596.1 495.9 L596.9 496.3 L597.7 496.6 L598.5 497 L599.3 497.3 L600.1 497.6 L600.9 498 L601.7 498.3 L602.5 498.7 L603.3 499 L604.1 499.3 L604.9 499.6 L605.7 500 L606.5 500.3 L607.3 500.6 L608.1 500.9 L608.9 501.3 L609.7 501.6 L610.5 501.9 L611.3 502.2 L612.1 502.5 L612.9 502.8 L613.7 503.1 L614.5 503.4 L615.3 503.7 L616.1 504 L616.9 504.3 L617.7 504.6 L618.5 504.9 L619.3 505.1 L620.1 505.4 L620.9 505.7 L621.7 506 L622.5 506.3 L623.3 506.5 L624.1 506.8 L624.9 507.1 L625.7 507.3 L626.5 507.6 L627.3 507.9 L628.1 508.1 L628.9 508.4 L629.7 508.6 L630.5 508.8 L631.3 509.1 L632.1 509.3 L632.9 509.5 L633.7 509.7 L634.5 510 L635.3 510.2 L636.1 510.4 L636.9 510.6 L637.7 510.9 L638.5 511.1 L639.3 511.4 L640.1 511.6 L640.9 511.9 L641.7 512.2 L642.5 512.5 L643.3 512.9 L644.1 513.2 L644.9 513.5" fill="none" stroke="#0000ff" stroke-width="2.2" stroke-linejoin="round" stroke-linecap="round"/>
</g>
<rect x="429.2" y="285.6" width="318.8" height="228.1" fill="none" stroke="#000" stroke-width="2.1"/>
<line x1="454.6" y1="513.7" x2="454.6" y2="515.5" stroke="#000" stroke-width="1.8"/>
<line x1="486.4" y1="513.7" x2="486.4" y2="517.3" stroke="#000" stroke-width="1.8"/>
<line x1="518.2" y1="513.7" x2="518.2" y2="515.5" stroke="#000" stroke-width="1.8"/>
<line x1="550.1" y1="513.7" x2="550.1" y2="517.3" stroke="#000" stroke-width="1.8"/>
<line x1="582" y1="513.7" x2="582" y2="515.5" stroke="#000" stroke-width="1.8"/>
<line x1="613.8" y1="513.7" x2="613.8" y2="517.3" stroke="#000" stroke-width="1.8"/>
<line x1="645.6" y1="513.7" x2="645.6" y2="515.5" stroke="#000" stroke-width="1.8"/>
<line x1="677.5" y1="513.7" x2="677.5" y2="517.3" stroke="#000" stroke-width="1.8"/>
<line x1="709.3" y1="513.7" x2="709.3" y2="515.5" stroke="#000" stroke-width="1.8"/>
<line x1="741.2" y1="513.7" x2="741.2" y2="517.3" stroke="#000" stroke-width="1.8"/>
<text x="486.4" y="529.7" font-size="11.8" text-anchor="middle" fill="#000">10</text>
<text x="550.1" y="529.7" font-size="11.8" text-anchor="middle" fill="#000">20</text>
<text x="613.8" y="529.7" font-size="11.8" text-anchor="middle" fill="#000">30</text>
<text x="677.5" y="529.7" font-size="11.8" text-anchor="middle" fill="#000">40</text>
<text x="741.2" y="529.7" font-size="11.8" text-anchor="middle" fill="#000">50</text>
<text x="592" y="543.5" font-size="13.8" text-anchor="middle" fill="#000">Time (ns)</text>
<text x="414.5" y="394.8" font-size="13.3" text-anchor="middle" fill="#000" transform="rotate(-90 414.5 394.8)">Intensity/a.u.</text>
<circle cx="545.8" cy="296.0" r="0.9" fill="#000"/>
<circle cx="544.5" cy="333.3" r="0.9" fill="#cc44f4"/>
<circle cx="548.4" cy="370.9" r="0.9" fill="#ff0000"/>
<circle cx="549.0" cy="404.8" r="0.9" fill="#0000ff"/>
<line x1="531.6" y1="311.9" x2="559.7" y2="311.9" stroke="#000" stroke-width="2.2"/>
<line x1="530.7" y1="349.2" x2="559.1" y2="349.2" stroke="#cc44f4" stroke-width="2.2"/>
<line x1="533.9" y1="387.3" x2="563" y2="387.3" stroke="#ff0000" stroke-width="2.3"/>
<line x1="533.9" y1="420.6" x2="563.2" y2="420.6" stroke="#0000ff" stroke-width="2.3"/>
<text x="566" y="300.6" font-size="10.5" fill="#000">Ni<tspan font-size="0.65em">2</tspan>P -Decay</text>
<text x="566" y="316.8" font-size="10.5" fill="#000">Ni<tspan font-size="0.65em">2</tspan>P -Fit</text>
<text x="566" y="338.2" font-size="10.5" fill="#000">Ni<tspan font-size="0.65em">2</tspan>P/NiS -Decay</text>
<text x="566" y="354.4" font-size="10.5" fill="#000">Ni<tspan font-size="0.65em">2</tspan>P/NiS -Fit</text>
<text x="566" y="375.6" font-size="10.5" fill="#000">Ni<tspan font-size="0.65em">2</tspan>P/NiS<tspan font-size="12.6">@PCOS</tspan> -Decay</text>
<text x="566" y="391" font-size="10.5" fill="#000">Ni<tspan font-size="0.65em">2</tspan>P/NiS<tspan font-size="12.6">@PCOS</tspan> -Fit</text>
<text x="566.8" y="408.3" font-size="10.5" fill="#000">Ni<tspan font-size="0.65em">2</tspan>P<tspan font-size="12.6">@PCOS</tspan> -Decay</text>
<text x="566.8" y="424.5" font-size="10.5" fill="#000">Ni<tspan font-size="0.65em">2</tspan>P<tspan font-size="12.6">@PCOS</tspan> -Fit</text>
<text x="682.7" y="306.2" font-size="9.4" fill="#000">Ave. <tspan font-family="Liberation Serif" font-size="10.2">8.39 ns</tspan></text>
<text x="683.6" y="342.4" font-size="9.4" fill="#000">Ave. <tspan font-family="Liberation Serif" font-size="10.2">9.49 ns</tspan></text>
<text x="689.5" y="391.4" font-size="9.4" fill="#000">Ave. <tspan font-family="Liberation Serif" font-size="10.2">9.74 ns</tspan></text>
<text x="690.4" y="420.4" font-size="9.4" fill="#000">Ave. <tspan font-family="Liberation Serif" font-size="10.2">7.63 ns</tspan></text>
</svg></body></html>
